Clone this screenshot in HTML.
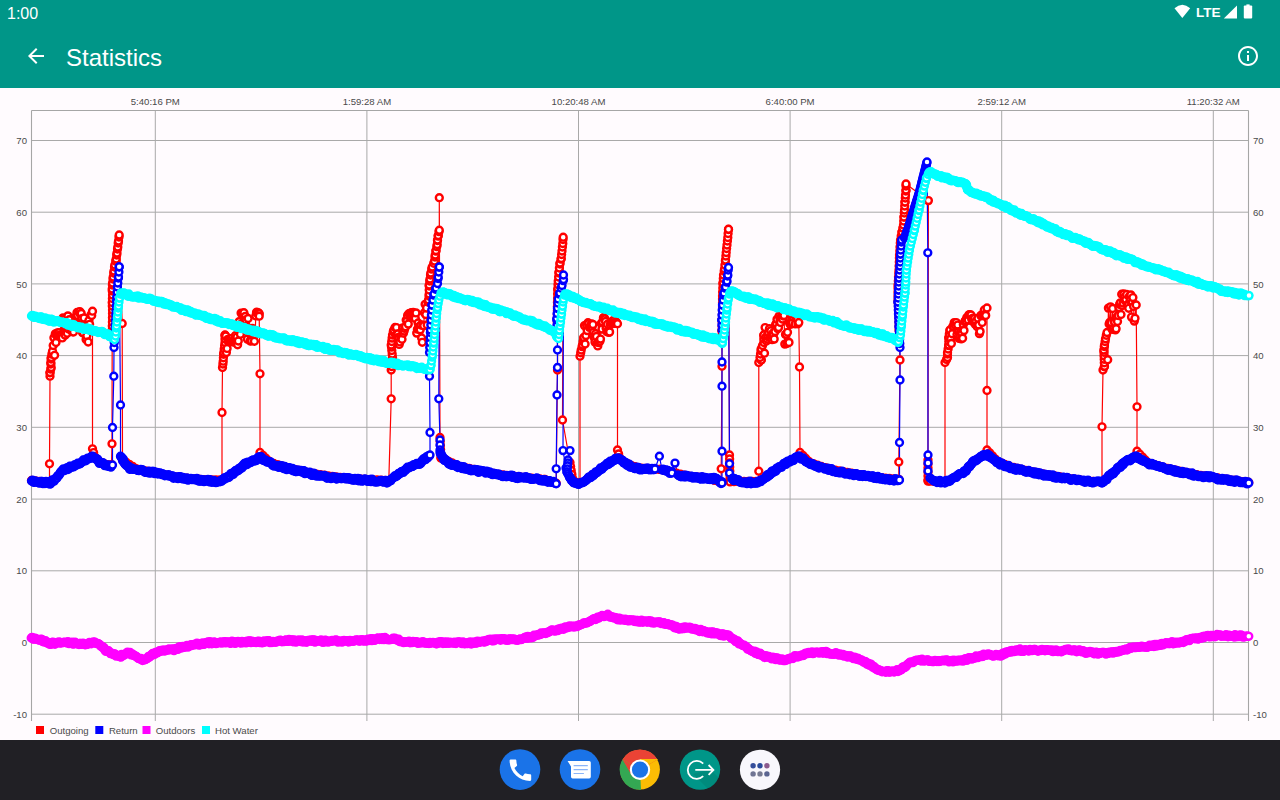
<!DOCTYPE html>
<html><head><meta charset="utf-8"><title>Statistics</title>
<style>
*{margin:0;padding:0;box-sizing:border-box}
html,body{width:1280px;height:800px;overflow:hidden;background:#fffbfe;font-family:"Liberation Sans",sans-serif}
#status{position:absolute;left:0;top:0;width:1280px;height:24px;background:#009688;color:#fff}
#clock{position:absolute;left:7px;top:5px;font-size:16px;line-height:18px}
#appbar{position:absolute;left:0;top:24px;width:1280px;height:64px;background:#009688;color:#fff}
#title{position:absolute;left:66px;top:19.5px;font-size:24px;line-height:28px}
circle.s{fill:var(--c)}
#nav{position:absolute;left:0;top:740px;width:1280px;height:60px;background:#212025}
</style></head><body>
<div id="status"><div id="clock">1:00</div>
<svg style="position:absolute;left:1170px;top:0" width="110" height="24" viewBox="1170 0 110 24">
<path d="M1174.5 8.2 Q1182.3 1.2 1190.2 8.2 L1182.3 18 Z" fill="#fff"/>
<text x="1196" y="16.5" font-family="Liberation Sans, sans-serif" font-size="13.5" font-weight="bold" fill="#fff">LTE</text>
<path d="M1237 5.5 V18.4 H1223.8 Z" fill="#fff"/>
<rect x="1243.8" y="5.6" width="8.4" height="12.8" rx="1" fill="#fff"/><rect x="1246.4" y="4.4" width="3.2" height="2" fill="#fff"/>
</svg></div>
<div id="appbar">
<svg style="position:absolute;left:24px;top:20px" width="24" height="24" viewBox="0 0 24 24"><path d="M20 11H7.83l5.59-5.59L12 4l-8 8 8 8 1.41-1.41L7.83 13H20v-2z" fill="#fff"/></svg>
<div id="title">Statistics</div>
<svg style="position:absolute;left:1235.6px;top:19.9px" width="24" height="24" viewBox="0 0 24 24"><path d="M11 7h2v2h-2zm0 4h2v6h-2zm1-9C6.48 2 2 6.48 2 12s4.48 10 10 10 10-4.48 10-10S17.52 2 12 2zm0 18c-4.41 0-8-3.59-8-8s3.59-8 8-8 8 3.59 8 8-3.59 8-8 8z" fill="#fff"/></svg>
</div>
<svg width="1280" height="652" viewBox="0 88 1280 652" style="position:absolute;left:0;top:88px">
<rect x="0" y="88" width="1280" height="652" fill="#fffbfe"/>
<path d="M31.5 140.5H1248.5 M31.5 212.2H1248.5 M31.5 283.9H1248.5 M31.5 355.6H1248.5 M31.5 427.3H1248.5 M31.5 499.1H1248.5 M31.5 570.8H1248.5 M31.5 642.5H1248.5 M31.5 714.2H1248.5 M155.3 110.5V721 M366.9 110.5V721 M578.5 110.5V721 M790.1 110.5V721 M1001.7 110.5V721 M1213.3 110.5V721" stroke="#a9a9a9" stroke-width="1" fill="none"/>
<path d="M31.5 110.5V721M1248.5 110.5V721M31.5 110.5H1248.5" stroke="#a6a6a6" stroke-width="1.1" fill="none"/>
<g font-family="Liberation Sans, sans-serif" font-size="9.6" fill="#4a4a4a"><text x="27" y="144.1" text-anchor="end">70</text><text x="1253" y="144.1" text-anchor="start">70</text><text x="27" y="215.8" text-anchor="end">60</text><text x="1253" y="215.8" text-anchor="start">60</text><text x="27" y="287.5" text-anchor="end">50</text><text x="1253" y="287.5" text-anchor="start">50</text><text x="27" y="359.2" text-anchor="end">40</text><text x="1253" y="359.2" text-anchor="start">40</text><text x="27" y="430.9" text-anchor="end">30</text><text x="1253" y="430.9" text-anchor="start">30</text><text x="27" y="502.7" text-anchor="end">20</text><text x="1253" y="502.7" text-anchor="start">20</text><text x="27" y="574.4" text-anchor="end">10</text><text x="1253" y="574.4" text-anchor="start">10</text><text x="27" y="646.1" text-anchor="end">0</text><text x="1253" y="646.1" text-anchor="start">0</text><text x="27" y="717.8" text-anchor="end">-10</text><text x="1253" y="717.8" text-anchor="start">-10</text><text x="155.3" y="105" text-anchor="middle">5:40:16 PM</text><text x="366.9" y="105" text-anchor="middle">1:59:28 AM</text><text x="578.5" y="105" text-anchor="middle">10:20:48 AM</text><text x="790.1" y="105" text-anchor="middle">6:40:00 PM</text><text x="1001.7" y="105" text-anchor="middle">2:59:12 AM</text><text x="1213.3" y="105" text-anchor="middle">11:20:32 AM</text></g>
<polyline points="31.5,480.5 45.0,482.2 49.5,482.5 49.5,463.8 50.0,376.2 50.0,372.5 51.2,367.5 50.8,362.5 51.2,357.5 52.5,351.2 53.2,345.5 53.9,337.8 54.6,355.3 55.3,333.9 56.0,342.5 56.7,335.7 57.4,332.9 58.1,335.7 58.8,332.7 59.5,335.2 60.2,335.3 60.9,335.3 61.6,335.9 62.3,337.9 63.0,317.9 63.7,319.7 64.4,328.3 65.1,335.1 65.8,327.3 66.5,322.4 67.2,333.3 67.9,315.9 68.6,329.0 69.3,319.7 70.0,328.0 70.7,327.9 71.4,328.7 72.1,331.6 72.8,331.5 73.5,332.0 74.2,326.2 74.9,321.5 75.6,324.6 76.3,316.1 77.0,312.5 77.7,315.6 78.4,325.7 79.1,312.1 79.8,311.6 80.5,314.4 81.2,313.4 81.9,318.6 82.6,332.8 83.3,332.7 84.0,317.9 84.7,328.7 85.4,327.1 86.1,339.4 86.8,335.7 87.5,324.7 88.2,342.0 88.9,320.5 89.6,324.3 90.3,329.2 91.0,314.9 91.7,315.5 92.5,311.2 92.5,448.8 95.0,457.8 100.0,462.0 107.5,464.8 111.5,465.0 112.0,443.8 112.2,330.0 112.5,317.5 112.5,310.0 112.2,302.5 112.5,295.0 112.2,289.0 112.5,283.0 113.2,277.0 114.0,271.0 114.8,265.0 116.2,259.0 117.0,253.0 117.8,247.0 118.5,241.0 119.2,235.0 122.2,323.5 122.5,460.0 137.5,469.5 155.0,472.5 175.0,477.0 200.0,479.5 222.0,480.0 222.0,412.5 222.5,367.5 223.2,361.2 223.8,352.5 225.0,342.5 225.0,335.0 225.7,336.0 226.4,352.5 227.1,348.4 227.8,339.3 228.5,341.6 229.2,339.9 229.9,341.4 230.6,341.0 231.3,341.4 232.0,338.4 232.7,341.3 233.4,342.1 234.1,339.7 234.8,341.6 235.5,335.6 236.2,342.0 236.9,337.1 237.6,344.8 238.3,341.0 239.0,321.7 239.7,325.0 240.4,334.2 241.1,313.1 241.8,324.0 242.5,314.2 243.2,313.7 243.9,312.7 244.6,318.3 245.3,316.4 246.0,319.9 246.7,326.5 247.4,339.1 248.1,318.5 248.8,330.7 249.5,333.0 250.2,341.0 250.9,339.5 251.6,340.9 252.3,328.4 253.0,331.3 253.7,330.1 254.4,341.3 255.1,334.5 255.8,315.9 256.5,312.2 257.2,312.9 257.9,312.9 258.6,313.0 259.3,313.7 259.2,316.2 260.0,373.8 260.0,452.5 270.0,462.3 287.5,467.9 312.5,473.5 345.0,478.2 365.0,479.5 388.8,480.4 391.2,398.8 391.2,370.0 392.5,357.5 391.2,345.0 392.5,335.0 393.8,330.0 395.0,327.5 395.7,335.4 396.4,327.6 397.1,334.8 397.8,334.0 398.5,337.4 399.2,344.4 399.9,341.9 400.6,336.5 401.3,338.3 402.0,339.3 402.7,327.9 403.4,333.2 404.1,331.1 404.8,328.4 405.5,326.7 406.2,320.1 406.9,320.2 407.6,315.4 408.3,324.1 409.0,313.6 409.7,313.7 410.4,316.2 411.1,312.7 411.8,315.1 412.5,312.9 413.2,312.5 413.9,313.6 414.6,313.5 415.3,318.4 416.0,312.9 416.7,333.1 417.4,329.2 418.1,323.0 418.8,326.9 419.5,329.4 420.2,329.8 420.9,325.0 421.6,338.0 422.3,342.3 423.0,325.1 423.7,325.7 424.4,312.8 425.1,304.3 425.8,314.6 426.5,307.9 427.2,324.9 427.9,302.0 428.5,300.0 429.2,294.0 429.2,285.0 430.0,279.0 430.8,273.0 432.2,267.0 434.5,261.0 435.2,255.0 436.0,250.5 437.2,244.5 437.5,240.0 438.2,235.5 439.3,230.2 439.3,197.7 440.0,437.5 441.0,458.2 445.0,459.5 457.5,465.6 470.0,468.8 495.0,473.8 520.0,477.0 545.0,479.5 556.2,483.2 557.5,370.0 557.5,330.0 557.2,318.5 557.5,302.0 557.8,288.5 558.2,281.0 559.0,272.0 560.0,263.0 561.2,258.5 562.0,251.0 562.8,243.5 563.2,237.2 562.5,420.0 570.0,462.5 573.0,481.6 580.0,482.9 580.0,356.2 581.2,350.0 582.5,345.0 583.8,337.5 584.5,325.6 585.1,344.0 585.9,335.6 586.5,324.7 587.2,330.6 588.0,322.7 588.6,323.8 589.4,327.4 590.0,326.8 590.8,326.0 591.5,323.8 592.1,326.6 592.9,324.4 593.5,332.3 594.2,337.5 595.0,342.1 595.6,333.7 596.4,336.5 597.0,343.2 597.8,345.9 598.5,342.7 599.1,340.9 599.9,341.3 600.5,339.1 601.2,323.6 602.0,329.1 602.6,321.9 603.4,317.9 604.0,317.6 604.8,318.9 605.5,321.4 606.1,327.9 606.9,331.8 607.5,324.2 608.2,331.6 609.0,332.4 609.6,331.9 610.4,324.6 611.0,322.8 611.8,322.8 612.5,321.0 613.1,321.0 613.9,320.8 614.5,323.4 615.2,323.2 616.0,321.8 616.6,322.9 617.5,323.8 617.5,450.0 620.0,459.1 627.5,463.8 637.5,467.7 647.5,468.7 660.0,469.4 665.0,470.3 690.0,476.5 702.5,477.4 721.2,482.0 721.2,468.8 722.0,366.2 722.0,335.0 722.0,330.5 722.5,311.0 722.5,296.0 723.0,282.5 723.5,275.0 724.5,269.0 725.5,260.0 726.2,252.5 727.0,245.0 727.8,237.5 728.5,229.2 729.5,455.0 730.0,481.9 740.0,481.2 758.8,481.6 758.8,471.2 758.8,362.5 761.2,360.0 760.0,357.5 761.2,348.8 763.8,342.5 763.8,335.0 764.5,353.2 765.1,327.6 765.9,337.0 766.5,341.0 767.2,339.0 768.0,336.6 768.6,332.8 769.4,328.7 770.0,337.1 770.8,330.8 771.5,337.8 772.1,339.7 772.9,333.2 773.5,334.0 774.2,339.1 775.0,331.6 775.6,324.6 776.4,323.5 777.0,319.4 777.8,328.8 778.5,327.6 779.1,316.1 779.9,321.2 780.5,322.4 781.2,316.6 782.0,317.6 782.6,319.1 783.4,316.0 784.0,315.4 784.8,344.1 785.5,334.5 786.1,334.3 786.9,343.5 787.5,332.3 788.2,342.1 789.0,342.4 789.6,323.3 790.4,324.4 791.0,322.6 791.8,317.9 792.5,322.8 793.1,317.0 793.9,314.6 794.5,314.1 795.2,323.9 796.0,316.9 796.6,318.2 797.4,319.8 798.0,323.8 798.8,322.5 799.5,367.0 800.0,452.5 810.0,462.7 827.5,468.5 852.5,473.5 877.5,477.2 898.8,479.4 898.8,462.0 900.0,360.0 899.0,330.0 899.0,315.0 898.0,300.0 898.0,285.0 899.0,270.0 899.5,255.0 900.5,240.0 902.0,232.0 903.5,225.0 904.0,217.0 904.5,210.0 905.0,202.0 905.5,195.0 906.0,190.0 906.0,184.0 928.4,200.6 928.0,460.0 928.0,481.1 930.0,481.2 940.0,481.7 945.0,482.0 945.0,362.5 947.5,357.5 947.5,352.5 948.8,345.0 948.8,337.5 950.0,330.0 950.7,338.7 951.4,343.4 952.1,333.8 952.8,326.5 953.5,326.4 954.2,322.6 954.9,324.7 955.6,325.2 956.3,322.6 957.0,334.5 957.7,325.1 958.4,332.0 959.1,338.4 959.8,335.8 960.5,332.4 961.2,338.9 961.9,333.6 962.6,338.2 963.3,324.6 964.0,330.4 964.7,321.8 965.4,320.5 966.1,320.8 966.8,317.6 967.5,318.1 968.2,320.1 968.9,314.8 969.6,314.7 970.3,315.6 971.0,315.0 971.7,318.9 972.4,321.2 973.1,318.2 973.8,321.5 974.5,318.5 975.2,324.3 975.9,321.2 976.6,325.6 977.3,326.6 978.0,318.3 978.7,325.1 979.4,333.7 980.1,331.4 980.8,315.6 981.5,315.2 982.2,322.4 982.9,314.1 983.6,314.5 984.3,310.0 985.0,314.4 985.7,315.4 987.0,308.0 987.0,390.5 987.0,450.0 997.5,461.4 1010.0,466.6 1035.0,472.5 1060.0,477.0 1085.0,480.8 1102.0,482.0 1102.0,426.8 1103.0,370.0 1104.5,366.2 1103.8,350.0 1104.5,345.0 1105.5,338.8 1107.0,332.5 1107.7,359.7 1108.4,308.1 1109.1,324.0 1109.8,322.3 1110.5,306.8 1111.2,322.4 1111.9,329.1 1112.6,308.5 1113.3,329.3 1114.0,321.0 1114.7,322.3 1115.4,329.9 1116.1,328.7 1116.8,317.4 1117.5,321.5 1118.2,315.5 1118.9,307.6 1119.6,304.4 1120.3,302.9 1121.0,314.5 1121.7,294.2 1122.4,305.5 1123.1,303.1 1123.8,294.0 1124.5,297.5 1125.2,300.8 1125.9,299.5 1126.6,294.5 1127.3,304.8 1128.0,305.6 1128.7,308.3 1129.4,296.2 1130.1,300.1 1130.8,294.9 1131.5,317.1 1132.2,301.9 1132.9,297.6 1133.6,306.4 1134.3,321.1 1135.0,318.3 1136.2,305.0 1137.0,406.8 1137.0,451.2 1147.5,462.3 1160.0,466.5 1185.0,472.5 1210.0,476.9 1235.0,480.5 1248.8,482.5" fill="none" stroke="#ff0000" stroke-width="1.2" stroke-linejoin="round"/>
<polyline points="31.5,481.0 40.0,482.5 50.0,483.0 57.0,478.0 62.5,470.5 75.0,465.0 85.0,460.5 92.5,456.2 100.0,462.5 110.0,466.2 112.5,465.0 112.5,427.5 113.8,376.2 114.0,347.5 115.3,325.0 116.0,311.0 116.7,297.0 117.8,283.0 118.5,277.0 119.2,266.8 120.5,405.0 120.5,456.2 125.0,463.0 130.0,468.8 155.0,473.0 175.0,477.5 200.0,480.0 220.0,481.8 230.0,475.5 245.0,464.2 260.0,457.5 275.0,465.5 300.0,471.2 325.0,476.8 345.0,478.8 365.0,480.0 387.5,481.8 400.0,473.8 410.0,466.8 420.0,463.0 430.0,455.0 430.0,432.5 429.5,376.2 429.5,352.5 430.5,330.0 432.0,305.0 434.0,294.0 436.0,288.0 437.5,283.5 438.2,277.0 439.3,267.0 438.8,398.8 440.0,440.0 440.0,452.5 445.0,460.0 450.0,464.2 470.0,469.2 495.0,474.2 520.0,477.5 545.0,480.0 556.2,483.8 556.2,468.8 557.0,395.0 557.5,367.5 557.5,350.0 557.0,325.0 556.8,318.5 557.5,308.0 558.2,299.0 559.8,293.0 562.0,285.5 563.5,279.5 563.5,275.0 563.0,450.6 566.0,468.0 570.0,450.6 568.0,460.0 567.5,466.0 567.0,472.0 570.0,478.0 574.0,482.0 579.0,484.0 595.0,473.8 605.0,465.5 617.5,458.0 632.5,467.5 645.0,469.2 655.0,469.0 659.4,456.2 662.0,470.0 666.0,471.0 672.0,473.0 675.0,463.1 678.0,475.0 690.0,477.0 715.0,478.8 722.0,483.0 722.0,451.2 722.0,386.2 722.0,362.0 722.0,330.0 721.8,320.0 722.5,305.0 724.0,293.0 725.5,287.0 727.0,281.0 727.8,275.0 728.5,267.5 729.5,463.8 729.5,473.0 732.0,479.0 740.0,481.8 757.5,483.0 770.0,473.8 782.5,465.5 798.8,456.2 815.0,466.2 840.0,471.8 865.0,476.2 890.0,479.2 899.5,480.0 899.5,442.5 900.0,380.0 900.0,347.5 899.0,326.0 898.5,314.0 898.0,302.0 898.5,290.0 899.0,278.0 900.0,266.0 900.5,254.0 901.6,240.0 904.5,238.0 909.0,226.0 914.5,208.0 919.5,192.0 923.5,176.0 927.0,162.0 927.8,252.8 928.0,455.0 928.0,463.0 928.0,471.0 930.0,478.0 934.0,481.0 945.0,482.5 965.0,471.2 972.5,461.8 987.0,454.2 1000.0,463.8 1015.0,468.8 1035.0,473.0 1060.0,477.5 1085.0,481.2 1102.5,482.5 1115.0,471.2 1125.0,462.5 1136.0,456.2 1150.0,464.2 1172.5,470.5 1197.5,475.5 1222.5,479.2 1248.8,483.0" fill="none" stroke="#0000ff" stroke-width="1.2" stroke-linejoin="round"/>
<polyline points="31.2,638.0 40.0,639.8 50.0,643.5 60.0,643.0 70.0,642.8 80.0,643.5 87.5,644.0 95.0,642.2 100.0,644.8 105.0,649.8 112.5,653.5 120.0,656.5 127.5,652.2 135.0,656.0 142.5,660.5 150.0,656.0 157.5,652.5 160.0,651.5 165.0,650.5 175.0,649.5 185.0,646.5 190.0,645.5 195.0,644.5 205.0,643.2 215.0,642.5 220.0,642.8 225.0,642.5 235.0,642.2 245.0,641.8 255.0,641.8 265.0,641.8 275.0,641.8 285.0,640.5 295.0,641.0 305.0,641.0 320.0,641.0 345.0,641.0 360.0,641.0 380.0,638.5 395.0,639.0 405.0,642.2 430.0,643.0 455.0,642.2 467.5,643.5 480.0,641.5 492.5,639.8 505.0,639.8 520.0,639.1 530.0,637.0 540.0,634.5 550.0,631.5 560.6,628.6 570.0,627.0 578.0,625.4 591.0,620.3 600.0,617.0 608.3,615.2 616.4,618.8 626.6,620.0 641.8,621.3 650.0,621.5 665.0,623.5 677.5,628.0 690.0,628.0 705.0,631.5 715.0,633.5 730.0,636.5 740.0,643.5 750.0,649.8 765.0,656.5 780.0,659.8 787.5,659.8 795.0,656.5 810.0,653.0 825.0,652.2 840.0,654.0 855.0,658.0 870.0,664.8 880.0,670.5 890.0,671.5 900.0,670.5 910.0,662.2 920.0,659.8 940.0,661.0 950.0,661.0 965.0,659.8 975.0,657.2 985.0,654.8 1000.0,655.5 1010.0,651.0 1020.0,650.2 1040.0,650.2 1050.0,650.5 1058.6,651.2 1068.7,650.0 1078.0,651.0 1086.0,652.2 1099.0,653.7 1108.0,653.0 1116.4,651.5 1131.7,648.0 1150.0,646.2 1160.0,644.5 1170.0,643.0 1180.5,642.1 1190.0,640.0 1200.0,637.5 1211.0,635.7 1220.0,635.5 1230.0,636.0 1236.0,635.8 1242.0,636.0 1248.8,636.3" fill="none" stroke="#ff00ff" stroke-width="1.2" stroke-linejoin="round"/>
<polyline points="31.5,316.0 65.0,323.5 105.0,333.5 112.0,336.5 114.5,339.5 115.5,336.0 116.5,326.0 117.5,316.0 118.5,306.0 119.5,298.0 121.0,293.0 124.0,293.0 125.0,294.5 155.0,300.5 185.0,310.5 225.0,323.0 250.0,329.8 265.0,334.0 281.0,338.5 321.0,347.0 361.0,357.0 401.0,365.0 425.0,369.0 430.0,369.5 431.0,365.0 432.5,355.0 433.8,342.5 435.0,330.0 436.2,317.5 437.5,307.5 438.8,300.0 441.0,293.0 444.0,292.5 451.0,295.5 481.0,304.0 511.0,314.5 537.0,323.5 553.0,331.0 557.0,336.0 558.5,338.5 559.5,330.0 560.5,322.0 561.5,314.0 562.5,306.0 563.5,299.0 565.0,294.0 567.0,294.0 577.0,299.5 617.0,312.5 657.0,323.5 697.0,334.5 717.0,339.5 722.5,342.5 724.0,334.0 725.5,322.0 727.0,308.0 728.5,298.0 730.0,292.5 733.0,292.0 737.0,294.5 757.0,300.5 793.0,311.5 833.0,321.5 850.0,327.0 865.0,330.8 880.0,334.4 893.0,338.0 898.5,341.5 900.5,335.0 901.5,325.0 902.5,315.0 903.5,305.0 905.0,293.0 905.8,282.0 906.4,270.0 909.4,250.0 914.4,230.0 919.0,210.0 923.4,190.0 926.5,178.0 929.0,172.5 932.0,172.5 940.0,176.5 960.0,182.0 966.0,184.0 968.0,190.0 980.0,195.0 1000.0,204.0 1025.0,216.2 1040.0,222.5 1064.0,234.0 1080.0,240.0 1104.0,250.0 1120.0,256.0 1144.0,265.0 1184.0,278.4 1224.0,291.0 1249.0,295.6" fill="none" stroke="#00ffff" stroke-width="1.2" stroke-linejoin="round"/>
<g fill="#ffffff" stroke="#ff0000" stroke-width="2.4" style="--c:#ff0000"><circle cx="31.5" cy="480.5" r="3.45"/><circle cx="35.5" cy="481.0" r="3.45"/><circle cx="39.4" cy="481.5" r="3.45"/><circle cx="43.4" cy="482.0" r="3.45"/><circle cx="45.0" cy="482.2" r="3.45"/><circle cx="49.0" cy="482.4" r="3.45"/><circle cx="49.5" cy="482.5" r="3.45"/><circle cx="49.5" cy="463.8" r="3.45"/><circle cx="50.0" cy="376.2" r="3.45"/><circle cx="50.0" cy="372.8" r="3.45"/><circle cx="50.0" cy="372.5" r="3.45"/><circle cx="50.8" cy="369.1" r="3.45"/><circle cx="51.2" cy="367.5" r="3.45"/><circle cx="50.9" cy="364.0" r="3.45"/><circle cx="50.8" cy="362.5" r="3.45"/><circle cx="51.1" cy="359.0" r="3.45"/><circle cx="51.2" cy="357.5" r="3.45"/><circle cx="51.9" cy="354.1" r="3.45"/><circle cx="52.5" cy="351.2" r="3.45"/><circle cx="53.2" cy="345.5" r="3.45"/><circle cx="53.9" cy="337.8" r="3.45"/><circle cx="54.6" cy="355.3" r="3.45"/><circle cx="55.3" cy="333.9" r="3.45"/><circle cx="56.0" cy="342.5" r="3.45"/><circle cx="56.7" cy="335.7" r="3.45"/><circle cx="57.4" cy="332.9" r="3.45"/><circle cx="58.1" cy="335.7" r="3.45"/><circle cx="58.8" cy="332.7" r="3.45"/><circle cx="59.5" cy="335.2" r="3.45"/><circle cx="60.2" cy="335.3" r="3.45"/><circle cx="60.9" cy="335.3" r="3.45"/><circle cx="61.6" cy="335.9" r="3.45"/><circle cx="62.3" cy="337.9" r="3.45"/><circle cx="63.0" cy="317.9" r="3.45"/><circle cx="63.7" cy="319.7" r="3.45"/><circle cx="64.4" cy="328.3" r="3.45"/><circle cx="65.1" cy="335.1" r="3.45"/><circle cx="65.8" cy="327.3" r="3.45"/><circle cx="66.5" cy="322.4" r="3.45"/><circle cx="67.2" cy="333.3" r="3.45"/><circle cx="67.9" cy="315.9" r="3.45"/><circle cx="68.6" cy="329.0" r="3.45"/><circle cx="69.3" cy="319.7" r="3.45"/><circle cx="70.0" cy="328.0" r="3.45"/><circle cx="70.7" cy="327.9" r="3.45"/><circle cx="71.4" cy="328.7" r="3.45"/><circle cx="72.1" cy="331.6" r="3.45"/><circle cx="72.8" cy="331.5" r="3.45"/><circle cx="73.5" cy="332.0" r="3.45"/><circle cx="74.2" cy="326.2" r="3.45"/><circle cx="74.9" cy="321.5" r="3.45"/><circle cx="75.6" cy="324.6" r="3.45"/><circle cx="76.3" cy="316.1" r="3.45"/><circle cx="77.0" cy="312.5" r="3.45"/><circle cx="77.7" cy="315.6" r="3.45"/><circle cx="78.4" cy="325.7" r="3.45"/><circle cx="79.1" cy="312.1" r="3.45"/><circle cx="79.8" cy="311.6" r="3.45"/><circle cx="80.5" cy="314.4" r="3.45"/><circle cx="81.2" cy="313.4" r="3.45"/><circle cx="81.9" cy="318.6" r="3.45"/><circle cx="82.6" cy="332.8" r="3.45"/><circle cx="83.3" cy="332.7" r="3.45"/><circle cx="84.0" cy="317.9" r="3.45"/><circle cx="84.7" cy="328.7" r="3.45"/><circle cx="85.4" cy="327.1" r="3.45"/><circle cx="86.1" cy="339.4" r="3.45"/><circle cx="86.8" cy="335.7" r="3.45"/><circle cx="87.5" cy="324.7" r="3.45"/><circle cx="88.2" cy="342.0" r="3.45"/><circle cx="88.9" cy="320.5" r="3.45"/><circle cx="89.6" cy="324.3" r="3.45"/><circle cx="90.3" cy="329.2" r="3.45"/><circle cx="91.0" cy="314.9" r="3.45"/><circle cx="91.7" cy="315.5" r="3.45"/><circle cx="92.5" cy="311.2" r="3.45"/><circle cx="92.5" cy="448.8" r="3.45"/><circle cx="93.6" cy="452.6" r="3.45"/><circle cx="94.6" cy="456.5" r="3.45"/><circle cx="95.0" cy="457.8" r="3.45"/><circle cx="98.1" cy="460.4" r="3.45"/><circle cx="100.0" cy="462.0" r="3.45"/><circle cx="103.7" cy="463.4" r="3.45"/><circle cx="107.5" cy="464.8" r="3.45"/><circle cx="107.5" cy="464.8" r="3.45"/><circle cx="111.5" cy="465.0" r="3.45"/><circle cx="111.5" cy="465.0" r="3.45"/><circle cx="112.0" cy="443.8" r="3.45"/><circle cx="112.2" cy="330.0" r="3.45"/><circle cx="112.3" cy="326.0" r="3.45"/><circle cx="112.4" cy="322.0" r="3.45"/><circle cx="112.5" cy="318.0" r="3.45"/><circle cx="112.5" cy="317.5" r="3.45"/><circle cx="112.5" cy="313.5" r="3.45"/><circle cx="112.5" cy="310.0" r="3.45"/><circle cx="112.3" cy="306.0" r="3.45"/><circle cx="112.2" cy="302.5" r="3.45"/><circle cx="112.4" cy="298.5" r="3.45"/><circle cx="112.5" cy="295.0" r="3.45"/><circle cx="112.3" cy="291.0" r="3.45"/><circle cx="112.2" cy="289.0" r="3.45"/><circle cx="112.4" cy="285.0" r="3.45"/><circle cx="112.5" cy="283.0" r="3.45"/><circle cx="113.0" cy="279.0" r="3.45"/><circle cx="113.2" cy="277.0" r="3.45"/><circle cx="113.7" cy="273.0" r="3.45"/><circle cx="114.0" cy="271.0" r="3.45"/><circle cx="114.5" cy="267.0" r="3.45"/><circle cx="114.8" cy="265.0" r="3.45"/><circle cx="115.7" cy="261.1" r="3.45"/><circle cx="116.2" cy="259.0" r="3.45"/><circle cx="116.7" cy="255.0" r="3.45"/><circle cx="117.0" cy="253.0" r="3.45"/><circle cx="117.5" cy="249.0" r="3.45"/><circle cx="117.8" cy="247.0" r="3.45"/><circle cx="118.2" cy="243.0" r="3.45"/><circle cx="118.5" cy="241.0" r="3.45"/><circle cx="119.0" cy="237.0" r="3.45"/><circle cx="119.2" cy="235.0" r="3.45"/><circle cx="122.2" cy="323.5" r="3.45"/><circle cx="122.5" cy="460.0" r="3.45"/><circle cx="125.9" cy="462.1" r="3.45"/><circle cx="129.3" cy="464.3" r="3.45"/><circle cx="132.6" cy="466.4" r="3.45"/><circle cx="136.0" cy="468.6" r="3.45"/><circle cx="137.5" cy="469.5" r="3.45"/><circle cx="141.4" cy="470.2" r="3.45"/><circle cx="145.4" cy="470.9" r="3.45"/><circle cx="149.3" cy="471.5" r="3.45"/><circle cx="153.3" cy="472.2" r="3.45"/><circle cx="155.0" cy="472.5" r="3.45"/><circle cx="158.9" cy="473.4" r="3.45"/><circle cx="162.8" cy="474.3" r="3.45"/><circle cx="166.7" cy="475.1" r="3.45"/><circle cx="170.6" cy="476.0" r="3.45"/><circle cx="174.5" cy="476.9" r="3.45"/><circle cx="175.0" cy="477.0" r="3.45"/><circle cx="179.0" cy="477.4" r="3.45"/><circle cx="183.0" cy="477.8" r="3.45"/><circle cx="186.9" cy="478.2" r="3.45"/><circle cx="190.9" cy="478.6" r="3.45"/><circle cx="194.9" cy="479.0" r="3.45"/><circle cx="198.9" cy="479.4" r="3.45"/><circle cx="200.0" cy="479.5" r="3.45"/><circle cx="204.0" cy="479.6" r="3.45"/><circle cx="208.0" cy="479.7" r="3.45"/><circle cx="212.0" cy="479.8" r="3.45"/><circle cx="216.0" cy="479.9" r="3.45"/><circle cx="220.0" cy="480.0" r="3.45"/><circle cx="222.0" cy="480.0" r="3.45"/><circle cx="222.0" cy="412.5" r="3.45"/><circle cx="222.5" cy="367.5" r="3.45"/><circle cx="222.9" cy="364.0" r="3.45"/><circle cx="223.2" cy="361.2" r="3.45"/><circle cx="223.4" cy="357.8" r="3.45"/><circle cx="223.6" cy="354.3" r="3.45"/><circle cx="223.8" cy="352.5" r="3.45"/><circle cx="224.2" cy="349.0" r="3.45"/><circle cx="224.6" cy="345.6" r="3.45"/><circle cx="225.0" cy="342.5" r="3.45"/><circle cx="225.0" cy="339.0" r="3.45"/><circle cx="225.0" cy="335.5" r="3.45"/><circle cx="225.0" cy="335.0" r="3.45"/><circle cx="225.7" cy="336.0" r="3.45"/><circle cx="226.4" cy="352.5" r="3.45"/><circle cx="227.1" cy="348.4" r="3.45"/><circle cx="227.8" cy="339.3" r="3.45"/><circle cx="228.5" cy="341.6" r="3.45"/><circle cx="229.2" cy="339.9" r="3.45"/><circle cx="229.9" cy="341.4" r="3.45"/><circle cx="230.6" cy="341.0" r="3.45"/><circle cx="231.3" cy="341.4" r="3.45"/><circle cx="232.0" cy="338.4" r="3.45"/><circle cx="232.7" cy="341.3" r="3.45"/><circle cx="233.4" cy="342.1" r="3.45"/><circle cx="234.1" cy="339.7" r="3.45"/><circle cx="234.8" cy="341.6" r="3.45"/><circle cx="235.5" cy="335.6" r="3.45"/><circle cx="236.2" cy="342.0" r="3.45"/><circle cx="236.9" cy="337.1" r="3.45"/><circle cx="237.6" cy="344.8" r="3.45"/><circle cx="238.3" cy="341.0" r="3.45"/><circle cx="239.0" cy="321.7" r="3.45"/><circle cx="239.7" cy="325.0" r="3.45"/><circle cx="240.4" cy="334.2" r="3.45"/><circle cx="241.1" cy="313.1" r="3.45"/><circle cx="241.8" cy="324.0" r="3.45"/><circle cx="242.5" cy="314.2" r="3.45"/><circle cx="243.2" cy="313.7" r="3.45"/><circle cx="243.9" cy="312.7" r="3.45"/><circle cx="244.6" cy="318.3" r="3.45"/><circle cx="245.3" cy="316.4" r="3.45"/><circle cx="246.0" cy="319.9" r="3.45"/><circle cx="246.7" cy="326.5" r="3.45"/><circle cx="247.4" cy="339.1" r="3.45"/><circle cx="248.1" cy="318.5" r="3.45"/><circle cx="248.8" cy="330.7" r="3.45"/><circle cx="249.5" cy="333.0" r="3.45"/><circle cx="250.2" cy="341.0" r="3.45"/><circle cx="250.9" cy="339.5" r="3.45"/><circle cx="251.6" cy="340.9" r="3.45"/><circle cx="252.3" cy="328.4" r="3.45"/><circle cx="253.0" cy="331.3" r="3.45"/><circle cx="253.7" cy="330.1" r="3.45"/><circle cx="254.4" cy="341.3" r="3.45"/><circle cx="255.1" cy="334.5" r="3.45"/><circle cx="255.8" cy="315.9" r="3.45"/><circle cx="256.5" cy="312.2" r="3.45"/><circle cx="257.2" cy="312.9" r="3.45"/><circle cx="257.9" cy="312.9" r="3.45"/><circle cx="258.6" cy="313.0" r="3.45"/><circle cx="259.3" cy="313.7" r="3.45"/><circle cx="259.2" cy="316.2" r="3.45"/><circle cx="260.0" cy="373.8" r="3.45"/><circle cx="260.0" cy="452.5" r="3.45"/><circle cx="262.9" cy="455.3" r="3.45"/><circle cx="265.7" cy="458.1" r="3.45"/><circle cx="268.6" cy="460.9" r="3.45"/><circle cx="270.0" cy="462.3" r="3.45"/><circle cx="273.8" cy="463.5" r="3.45"/><circle cx="277.6" cy="464.7" r="3.45"/><circle cx="281.4" cy="466.0" r="3.45"/><circle cx="285.3" cy="467.2" r="3.45"/><circle cx="287.5" cy="467.9" r="3.45"/><circle cx="291.4" cy="468.8" r="3.45"/><circle cx="295.3" cy="469.6" r="3.45"/><circle cx="299.2" cy="470.5" r="3.45"/><circle cx="303.1" cy="471.4" r="3.45"/><circle cx="307.0" cy="472.3" r="3.45"/><circle cx="310.9" cy="473.1" r="3.45"/><circle cx="312.5" cy="473.5" r="3.45"/><circle cx="316.5" cy="474.1" r="3.45"/><circle cx="320.4" cy="474.7" r="3.45"/><circle cx="324.4" cy="475.2" r="3.45"/><circle cx="328.3" cy="475.8" r="3.45"/><circle cx="332.3" cy="476.4" r="3.45"/><circle cx="336.2" cy="477.0" r="3.45"/><circle cx="340.2" cy="477.5" r="3.45"/><circle cx="344.2" cy="478.1" r="3.45"/><circle cx="345.0" cy="478.2" r="3.45"/><circle cx="349.0" cy="478.5" r="3.45"/><circle cx="353.0" cy="478.7" r="3.45"/><circle cx="357.0" cy="479.0" r="3.45"/><circle cx="361.0" cy="479.2" r="3.45"/><circle cx="365.0" cy="479.5" r="3.45"/><circle cx="365.0" cy="479.5" r="3.45"/><circle cx="369.0" cy="479.7" r="3.45"/><circle cx="373.0" cy="479.8" r="3.45"/><circle cx="377.0" cy="480.0" r="3.45"/><circle cx="381.0" cy="480.1" r="3.45"/><circle cx="385.0" cy="480.3" r="3.45"/><circle cx="388.8" cy="480.4" r="3.45"/><circle cx="391.2" cy="398.8" r="3.45"/><circle cx="391.2" cy="370.0" r="3.45"/><circle cx="391.6" cy="366.5" r="3.45"/><circle cx="391.9" cy="363.0" r="3.45"/><circle cx="392.3" cy="359.6" r="3.45"/><circle cx="392.5" cy="357.5" r="3.45"/><circle cx="392.2" cy="354.0" r="3.45"/><circle cx="391.8" cy="350.5" r="3.45"/><circle cx="391.5" cy="347.1" r="3.45"/><circle cx="391.2" cy="345.0" r="3.45"/><circle cx="391.7" cy="341.5" r="3.45"/><circle cx="392.1" cy="338.1" r="3.45"/><circle cx="392.5" cy="335.0" r="3.45"/><circle cx="393.3" cy="331.6" r="3.45"/><circle cx="393.8" cy="330.0" r="3.45"/><circle cx="395.0" cy="327.5" r="3.45"/><circle cx="395.7" cy="335.4" r="3.45"/><circle cx="396.4" cy="327.6" r="3.45"/><circle cx="397.1" cy="334.8" r="3.45"/><circle cx="397.8" cy="334.0" r="3.45"/><circle cx="398.5" cy="337.4" r="3.45"/><circle cx="399.2" cy="344.4" r="3.45"/><circle cx="399.9" cy="341.9" r="3.45"/><circle cx="400.6" cy="336.5" r="3.45"/><circle cx="401.3" cy="338.3" r="3.45"/><circle cx="402.0" cy="339.3" r="3.45"/><circle cx="402.7" cy="327.9" r="3.45"/><circle cx="403.4" cy="333.2" r="3.45"/><circle cx="404.1" cy="331.1" r="3.45"/><circle cx="404.8" cy="328.4" r="3.45"/><circle cx="405.5" cy="326.7" r="3.45"/><circle cx="406.2" cy="320.1" r="3.45"/><circle cx="406.9" cy="320.2" r="3.45"/><circle cx="407.6" cy="315.4" r="3.45"/><circle cx="408.3" cy="324.1" r="3.45"/><circle cx="409.0" cy="313.6" r="3.45"/><circle cx="409.7" cy="313.7" r="3.45"/><circle cx="410.4" cy="316.2" r="3.45"/><circle cx="411.1" cy="312.7" r="3.45"/><circle cx="411.8" cy="315.1" r="3.45"/><circle cx="412.5" cy="312.9" r="3.45"/><circle cx="413.2" cy="312.5" r="3.45"/><circle cx="413.9" cy="313.6" r="3.45"/><circle cx="414.6" cy="313.5" r="3.45"/><circle cx="415.3" cy="318.4" r="3.45"/><circle cx="416.0" cy="312.9" r="3.45"/><circle cx="416.7" cy="333.1" r="3.45"/><circle cx="417.4" cy="329.2" r="3.45"/><circle cx="418.1" cy="323.0" r="3.45"/><circle cx="418.8" cy="326.9" r="3.45"/><circle cx="419.5" cy="329.4" r="3.45"/><circle cx="420.2" cy="329.8" r="3.45"/><circle cx="420.9" cy="325.0" r="3.45"/><circle cx="421.6" cy="338.0" r="3.45"/><circle cx="422.3" cy="342.3" r="3.45"/><circle cx="423.0" cy="325.1" r="3.45"/><circle cx="423.7" cy="325.7" r="3.45"/><circle cx="424.4" cy="312.8" r="3.45"/><circle cx="425.1" cy="304.3" r="3.45"/><circle cx="425.8" cy="314.6" r="3.45"/><circle cx="426.5" cy="307.9" r="3.45"/><circle cx="427.2" cy="324.9" r="3.45"/><circle cx="427.9" cy="302.0" r="3.45"/><circle cx="428.5" cy="300.0" r="3.45"/><circle cx="429.0" cy="296.0" r="3.45"/><circle cx="429.2" cy="294.0" r="3.45"/><circle cx="429.2" cy="290.0" r="3.45"/><circle cx="429.2" cy="286.0" r="3.45"/><circle cx="429.2" cy="285.0" r="3.45"/><circle cx="429.7" cy="281.0" r="3.45"/><circle cx="430.0" cy="279.0" r="3.45"/><circle cx="430.5" cy="275.0" r="3.45"/><circle cx="430.8" cy="273.0" r="3.45"/><circle cx="431.7" cy="269.1" r="3.45"/><circle cx="432.2" cy="267.0" r="3.45"/><circle cx="433.7" cy="263.3" r="3.45"/><circle cx="434.5" cy="261.0" r="3.45"/><circle cx="435.0" cy="257.0" r="3.45"/><circle cx="435.2" cy="255.0" r="3.45"/><circle cx="435.9" cy="251.1" r="3.45"/><circle cx="436.0" cy="250.5" r="3.45"/><circle cx="436.8" cy="246.6" r="3.45"/><circle cx="437.2" cy="244.5" r="3.45"/><circle cx="437.5" cy="240.5" r="3.45"/><circle cx="437.5" cy="240.0" r="3.45"/><circle cx="438.2" cy="236.1" r="3.45"/><circle cx="438.2" cy="235.5" r="3.45"/><circle cx="439.0" cy="231.6" r="3.45"/><circle cx="439.3" cy="230.2" r="3.45"/><circle cx="439.3" cy="197.7" r="3.45"/><circle cx="440.0" cy="437.5" r="3.45"/><circle cx="440.2" cy="441.5" r="3.45"/><circle cx="440.4" cy="445.5" r="3.45"/><circle cx="440.6" cy="449.5" r="3.45"/><circle cx="440.8" cy="453.5" r="3.45"/><circle cx="441.0" cy="457.5" r="3.45"/><circle cx="441.0" cy="458.2" r="3.45"/><circle cx="444.8" cy="459.4" r="3.45"/><circle cx="445.0" cy="459.5" r="3.45"/><circle cx="448.6" cy="461.3" r="3.45"/><circle cx="452.2" cy="463.0" r="3.45"/><circle cx="455.8" cy="464.8" r="3.45"/><circle cx="457.5" cy="465.6" r="3.45"/><circle cx="461.4" cy="466.6" r="3.45"/><circle cx="465.3" cy="467.6" r="3.45"/><circle cx="469.1" cy="468.5" r="3.45"/><circle cx="470.0" cy="468.8" r="3.45"/><circle cx="473.9" cy="469.5" r="3.45"/><circle cx="477.8" cy="470.3" r="3.45"/><circle cx="481.8" cy="471.1" r="3.45"/><circle cx="485.7" cy="471.9" r="3.45"/><circle cx="489.6" cy="472.7" r="3.45"/><circle cx="493.5" cy="473.5" r="3.45"/><circle cx="495.0" cy="473.8" r="3.45"/><circle cx="499.0" cy="474.3" r="3.45"/><circle cx="502.9" cy="474.8" r="3.45"/><circle cx="506.9" cy="475.3" r="3.45"/><circle cx="510.9" cy="475.8" r="3.45"/><circle cx="514.8" cy="476.3" r="3.45"/><circle cx="518.8" cy="476.8" r="3.45"/><circle cx="520.0" cy="477.0" r="3.45"/><circle cx="524.0" cy="477.4" r="3.45"/><circle cx="528.0" cy="477.8" r="3.45"/><circle cx="531.9" cy="478.2" r="3.45"/><circle cx="535.9" cy="478.6" r="3.45"/><circle cx="539.9" cy="479.0" r="3.45"/><circle cx="543.9" cy="479.4" r="3.45"/><circle cx="545.0" cy="479.5" r="3.45"/><circle cx="548.8" cy="480.8" r="3.45"/><circle cx="552.6" cy="482.0" r="3.45"/><circle cx="556.2" cy="483.2" r="3.45"/><circle cx="557.5" cy="370.0" r="3.45"/><circle cx="557.5" cy="330.0" r="3.45"/><circle cx="557.4" cy="326.0" r="3.45"/><circle cx="557.3" cy="322.0" r="3.45"/><circle cx="557.2" cy="318.5" r="3.45"/><circle cx="557.3" cy="314.5" r="3.45"/><circle cx="557.4" cy="310.5" r="3.45"/><circle cx="557.4" cy="306.5" r="3.45"/><circle cx="557.5" cy="302.5" r="3.45"/><circle cx="557.5" cy="302.0" r="3.45"/><circle cx="557.6" cy="298.0" r="3.45"/><circle cx="557.6" cy="294.0" r="3.45"/><circle cx="557.7" cy="290.0" r="3.45"/><circle cx="557.8" cy="288.5" r="3.45"/><circle cx="558.0" cy="284.5" r="3.45"/><circle cx="558.2" cy="281.0" r="3.45"/><circle cx="558.6" cy="277.0" r="3.45"/><circle cx="558.9" cy="273.0" r="3.45"/><circle cx="559.0" cy="272.0" r="3.45"/><circle cx="559.4" cy="268.0" r="3.45"/><circle cx="559.9" cy="264.0" r="3.45"/><circle cx="560.0" cy="263.0" r="3.45"/><circle cx="561.1" cy="259.1" r="3.45"/><circle cx="561.2" cy="258.5" r="3.45"/><circle cx="561.6" cy="254.5" r="3.45"/><circle cx="562.0" cy="251.0" r="3.45"/><circle cx="562.4" cy="247.0" r="3.45"/><circle cx="562.8" cy="243.5" r="3.45"/><circle cx="563.0" cy="239.5" r="3.45"/><circle cx="563.2" cy="237.2" r="3.45"/><circle cx="562.5" cy="420.0" r="3.45"/><circle cx="570.0" cy="462.5" r="3.45"/><circle cx="570.6" cy="466.5" r="3.45"/><circle cx="571.2" cy="470.4" r="3.45"/><circle cx="571.9" cy="474.4" r="3.45"/><circle cx="572.5" cy="478.3" r="3.45"/><circle cx="573.0" cy="481.6" r="3.45"/><circle cx="576.9" cy="482.3" r="3.45"/><circle cx="580.0" cy="482.9" r="3.45"/><circle cx="580.0" cy="356.2" r="3.45"/><circle cx="580.7" cy="352.8" r="3.45"/><circle cx="581.2" cy="350.0" r="3.45"/><circle cx="582.1" cy="346.6" r="3.45"/><circle cx="582.5" cy="345.0" r="3.45"/><circle cx="583.1" cy="341.5" r="3.45"/><circle cx="583.7" cy="338.1" r="3.45"/><circle cx="583.8" cy="337.5" r="3.45"/><circle cx="584.5" cy="325.6" r="3.45"/><circle cx="585.1" cy="344.0" r="3.45"/><circle cx="585.9" cy="335.6" r="3.45"/><circle cx="586.5" cy="324.7" r="3.45"/><circle cx="587.2" cy="330.6" r="3.45"/><circle cx="588.0" cy="322.7" r="3.45"/><circle cx="588.6" cy="323.8" r="3.45"/><circle cx="589.4" cy="327.4" r="3.45"/><circle cx="590.0" cy="326.8" r="3.45"/><circle cx="590.8" cy="326.0" r="3.45"/><circle cx="591.5" cy="323.8" r="3.45"/><circle cx="592.1" cy="326.6" r="3.45"/><circle cx="592.9" cy="324.4" r="3.45"/><circle cx="593.5" cy="332.3" r="3.45"/><circle cx="594.2" cy="337.5" r="3.45"/><circle cx="595.0" cy="342.1" r="3.45"/><circle cx="595.6" cy="333.7" r="3.45"/><circle cx="596.4" cy="336.5" r="3.45"/><circle cx="597.0" cy="343.2" r="3.45"/><circle cx="597.8" cy="345.9" r="3.45"/><circle cx="598.5" cy="342.7" r="3.45"/><circle cx="599.1" cy="340.9" r="3.45"/><circle cx="599.9" cy="341.3" r="3.45"/><circle cx="600.5" cy="339.1" r="3.45"/><circle cx="601.2" cy="323.6" r="3.45"/><circle cx="602.0" cy="329.1" r="3.45"/><circle cx="602.6" cy="321.9" r="3.45"/><circle cx="603.4" cy="317.9" r="3.45"/><circle cx="604.0" cy="317.6" r="3.45"/><circle cx="604.8" cy="318.9" r="3.45"/><circle cx="605.5" cy="321.4" r="3.45"/><circle cx="606.1" cy="327.9" r="3.45"/><circle cx="606.9" cy="331.8" r="3.45"/><circle cx="607.5" cy="324.2" r="3.45"/><circle cx="608.2" cy="331.6" r="3.45"/><circle cx="609.0" cy="332.4" r="3.45"/><circle cx="609.6" cy="331.9" r="3.45"/><circle cx="610.4" cy="324.6" r="3.45"/><circle cx="611.0" cy="322.8" r="3.45"/><circle cx="611.8" cy="322.8" r="3.45"/><circle cx="612.5" cy="321.0" r="3.45"/><circle cx="613.1" cy="321.0" r="3.45"/><circle cx="613.9" cy="320.8" r="3.45"/><circle cx="614.5" cy="323.4" r="3.45"/><circle cx="615.2" cy="323.2" r="3.45"/><circle cx="616.0" cy="321.8" r="3.45"/><circle cx="616.6" cy="322.9" r="3.45"/><circle cx="617.5" cy="323.8" r="3.45"/><circle cx="617.5" cy="450.0" r="3.45"/><circle cx="618.6" cy="453.9" r="3.45"/><circle cx="619.6" cy="457.7" r="3.45"/><circle cx="620.0" cy="459.1" r="3.45"/><circle cx="623.4" cy="461.2" r="3.45"/><circle cx="626.8" cy="463.4" r="3.45"/><circle cx="627.5" cy="463.8" r="3.45"/><circle cx="631.2" cy="465.3" r="3.45"/><circle cx="635.0" cy="466.7" r="3.45"/><circle cx="637.5" cy="467.7" r="3.45"/><circle cx="641.5" cy="468.1" r="3.45"/><circle cx="645.5" cy="468.5" r="3.45"/><circle cx="647.5" cy="468.7" r="3.45"/><circle cx="651.5" cy="468.9" r="3.45"/><circle cx="655.5" cy="469.1" r="3.45"/><circle cx="659.5" cy="469.4" r="3.45"/><circle cx="660.0" cy="469.4" r="3.45"/><circle cx="663.9" cy="470.1" r="3.45"/><circle cx="665.0" cy="470.3" r="3.45"/><circle cx="668.9" cy="471.3" r="3.45"/><circle cx="672.8" cy="472.2" r="3.45"/><circle cx="676.6" cy="473.2" r="3.45"/><circle cx="680.5" cy="474.2" r="3.45"/><circle cx="684.4" cy="475.1" r="3.45"/><circle cx="688.3" cy="476.1" r="3.45"/><circle cx="690.0" cy="476.5" r="3.45"/><circle cx="694.0" cy="476.8" r="3.45"/><circle cx="698.0" cy="477.1" r="3.45"/><circle cx="702.0" cy="477.3" r="3.45"/><circle cx="702.5" cy="477.4" r="3.45"/><circle cx="706.4" cy="478.3" r="3.45"/><circle cx="710.3" cy="479.3" r="3.45"/><circle cx="714.1" cy="480.3" r="3.45"/><circle cx="718.0" cy="481.2" r="3.45"/><circle cx="721.2" cy="482.0" r="3.45"/><circle cx="721.2" cy="468.8" r="3.45"/><circle cx="722.0" cy="366.2" r="3.45"/><circle cx="722.0" cy="335.0" r="3.45"/><circle cx="722.0" cy="331.0" r="3.45"/><circle cx="722.0" cy="330.5" r="3.45"/><circle cx="722.1" cy="326.5" r="3.45"/><circle cx="722.2" cy="322.5" r="3.45"/><circle cx="722.3" cy="318.5" r="3.45"/><circle cx="722.4" cy="314.5" r="3.45"/><circle cx="722.5" cy="311.0" r="3.45"/><circle cx="722.5" cy="307.0" r="3.45"/><circle cx="722.5" cy="303.0" r="3.45"/><circle cx="722.5" cy="299.0" r="3.45"/><circle cx="722.5" cy="296.0" r="3.45"/><circle cx="722.6" cy="292.0" r="3.45"/><circle cx="722.8" cy="288.0" r="3.45"/><circle cx="722.9" cy="284.0" r="3.45"/><circle cx="723.0" cy="282.5" r="3.45"/><circle cx="723.3" cy="278.5" r="3.45"/><circle cx="723.5" cy="275.0" r="3.45"/><circle cx="724.2" cy="271.1" r="3.45"/><circle cx="724.5" cy="269.0" r="3.45"/><circle cx="724.9" cy="265.0" r="3.45"/><circle cx="725.4" cy="261.0" r="3.45"/><circle cx="725.5" cy="260.0" r="3.45"/><circle cx="725.9" cy="256.0" r="3.45"/><circle cx="726.2" cy="252.5" r="3.45"/><circle cx="726.6" cy="248.5" r="3.45"/><circle cx="727.0" cy="245.0" r="3.45"/><circle cx="727.4" cy="241.0" r="3.45"/><circle cx="727.8" cy="237.5" r="3.45"/><circle cx="728.1" cy="233.5" r="3.45"/><circle cx="728.5" cy="229.5" r="3.45"/><circle cx="728.5" cy="229.2" r="3.45"/><circle cx="729.5" cy="455.0" r="3.45"/><circle cx="729.6" cy="459.0" r="3.45"/><circle cx="729.6" cy="463.0" r="3.45"/><circle cx="729.7" cy="467.0" r="3.45"/><circle cx="729.8" cy="471.0" r="3.45"/><circle cx="729.9" cy="475.0" r="3.45"/><circle cx="729.9" cy="479.0" r="3.45"/><circle cx="730.0" cy="481.9" r="3.45"/><circle cx="734.0" cy="481.7" r="3.45"/><circle cx="738.0" cy="481.4" r="3.45"/><circle cx="740.0" cy="481.2" r="3.45"/><circle cx="744.0" cy="481.3" r="3.45"/><circle cx="748.0" cy="481.4" r="3.45"/><circle cx="752.0" cy="481.5" r="3.45"/><circle cx="756.0" cy="481.5" r="3.45"/><circle cx="758.8" cy="481.6" r="3.45"/><circle cx="758.8" cy="471.2" r="3.45"/><circle cx="758.8" cy="362.5" r="3.45"/><circle cx="761.2" cy="360.0" r="3.45"/><circle cx="761.2" cy="360.0" r="3.45"/><circle cx="760.0" cy="357.5" r="3.45"/><circle cx="760.5" cy="354.0" r="3.45"/><circle cx="761.0" cy="350.6" r="3.45"/><circle cx="761.2" cy="348.8" r="3.45"/><circle cx="762.5" cy="345.5" r="3.45"/><circle cx="763.8" cy="342.5" r="3.45"/><circle cx="763.8" cy="339.0" r="3.45"/><circle cx="763.8" cy="335.5" r="3.45"/><circle cx="763.8" cy="335.0" r="3.45"/><circle cx="764.5" cy="353.2" r="3.45"/><circle cx="765.1" cy="327.6" r="3.45"/><circle cx="765.9" cy="337.0" r="3.45"/><circle cx="766.5" cy="341.0" r="3.45"/><circle cx="767.2" cy="339.0" r="3.45"/><circle cx="768.0" cy="336.6" r="3.45"/><circle cx="768.6" cy="332.8" r="3.45"/><circle cx="769.4" cy="328.7" r="3.45"/><circle cx="770.0" cy="337.1" r="3.45"/><circle cx="770.8" cy="330.8" r="3.45"/><circle cx="771.5" cy="337.8" r="3.45"/><circle cx="772.1" cy="339.7" r="3.45"/><circle cx="772.9" cy="333.2" r="3.45"/><circle cx="773.5" cy="334.0" r="3.45"/><circle cx="774.2" cy="339.1" r="3.45"/><circle cx="775.0" cy="331.6" r="3.45"/><circle cx="775.6" cy="324.6" r="3.45"/><circle cx="776.4" cy="323.5" r="3.45"/><circle cx="777.0" cy="319.4" r="3.45"/><circle cx="777.8" cy="328.8" r="3.45"/><circle cx="778.5" cy="327.6" r="3.45"/><circle cx="779.1" cy="316.1" r="3.45"/><circle cx="779.9" cy="321.2" r="3.45"/><circle cx="780.5" cy="322.4" r="3.45"/><circle cx="781.2" cy="316.6" r="3.45"/><circle cx="782.0" cy="317.6" r="3.45"/><circle cx="782.6" cy="319.1" r="3.45"/><circle cx="783.4" cy="316.0" r="3.45"/><circle cx="784.0" cy="315.4" r="3.45"/><circle cx="784.8" cy="344.1" r="3.45"/><circle cx="785.5" cy="334.5" r="3.45"/><circle cx="786.1" cy="334.3" r="3.45"/><circle cx="786.9" cy="343.5" r="3.45"/><circle cx="787.5" cy="332.3" r="3.45"/><circle cx="788.2" cy="342.1" r="3.45"/><circle cx="789.0" cy="342.4" r="3.45"/><circle cx="789.6" cy="323.3" r="3.45"/><circle cx="790.4" cy="324.4" r="3.45"/><circle cx="791.0" cy="322.6" r="3.45"/><circle cx="791.8" cy="317.9" r="3.45"/><circle cx="792.5" cy="322.8" r="3.45"/><circle cx="793.1" cy="317.0" r="3.45"/><circle cx="793.9" cy="314.6" r="3.45"/><circle cx="794.5" cy="314.1" r="3.45"/><circle cx="795.2" cy="323.9" r="3.45"/><circle cx="796.0" cy="316.9" r="3.45"/><circle cx="796.6" cy="318.2" r="3.45"/><circle cx="797.4" cy="319.8" r="3.45"/><circle cx="798.0" cy="323.8" r="3.45"/><circle cx="798.8" cy="322.5" r="3.45"/><circle cx="799.5" cy="367.0" r="3.45"/><circle cx="800.0" cy="452.5" r="3.45"/><circle cx="802.8" cy="455.4" r="3.45"/><circle cx="805.6" cy="458.2" r="3.45"/><circle cx="808.4" cy="461.1" r="3.45"/><circle cx="810.0" cy="462.7" r="3.45"/><circle cx="813.8" cy="463.9" r="3.45"/><circle cx="817.6" cy="465.2" r="3.45"/><circle cx="821.4" cy="466.5" r="3.45"/><circle cx="825.2" cy="467.7" r="3.45"/><circle cx="827.5" cy="468.5" r="3.45"/><circle cx="831.4" cy="469.3" r="3.45"/><circle cx="835.3" cy="470.1" r="3.45"/><circle cx="839.3" cy="470.9" r="3.45"/><circle cx="843.2" cy="471.6" r="3.45"/><circle cx="847.1" cy="472.4" r="3.45"/><circle cx="851.0" cy="473.2" r="3.45"/><circle cx="852.5" cy="473.5" r="3.45"/><circle cx="856.5" cy="474.1" r="3.45"/><circle cx="860.4" cy="474.7" r="3.45"/><circle cx="864.4" cy="475.3" r="3.45"/><circle cx="868.3" cy="475.9" r="3.45"/><circle cx="872.3" cy="476.5" r="3.45"/><circle cx="876.2" cy="477.1" r="3.45"/><circle cx="877.5" cy="477.2" r="3.45"/><circle cx="881.5" cy="477.7" r="3.45"/><circle cx="885.5" cy="478.1" r="3.45"/><circle cx="889.4" cy="478.5" r="3.45"/><circle cx="893.4" cy="478.9" r="3.45"/><circle cx="897.4" cy="479.3" r="3.45"/><circle cx="898.8" cy="479.4" r="3.45"/><circle cx="898.8" cy="462.0" r="3.45"/><circle cx="900.0" cy="360.0" r="3.45"/><circle cx="899.0" cy="330.0" r="3.45"/><circle cx="899.0" cy="326.0" r="3.45"/><circle cx="899.0" cy="322.0" r="3.45"/><circle cx="899.0" cy="318.0" r="3.45"/><circle cx="899.0" cy="315.0" r="3.45"/><circle cx="898.7" cy="311.0" r="3.45"/><circle cx="898.5" cy="307.0" r="3.45"/><circle cx="898.2" cy="303.0" r="3.45"/><circle cx="898.0" cy="300.0" r="3.45"/><circle cx="898.0" cy="296.0" r="3.45"/><circle cx="898.0" cy="292.0" r="3.45"/><circle cx="898.0" cy="288.0" r="3.45"/><circle cx="898.0" cy="285.0" r="3.45"/><circle cx="898.3" cy="281.0" r="3.45"/><circle cx="898.5" cy="277.0" r="3.45"/><circle cx="898.8" cy="273.0" r="3.45"/><circle cx="899.0" cy="270.0" r="3.45"/><circle cx="899.1" cy="266.0" r="3.45"/><circle cx="899.3" cy="262.0" r="3.45"/><circle cx="899.4" cy="258.0" r="3.45"/><circle cx="899.5" cy="255.0" r="3.45"/><circle cx="899.8" cy="251.0" r="3.45"/><circle cx="900.0" cy="247.0" r="3.45"/><circle cx="900.3" cy="243.0" r="3.45"/><circle cx="900.5" cy="240.0" r="3.45"/><circle cx="901.2" cy="236.1" r="3.45"/><circle cx="902.0" cy="232.1" r="3.45"/><circle cx="902.0" cy="232.0" r="3.45"/><circle cx="902.8" cy="228.1" r="3.45"/><circle cx="903.5" cy="225.0" r="3.45"/><circle cx="903.7" cy="221.0" r="3.45"/><circle cx="904.0" cy="217.0" r="3.45"/><circle cx="904.0" cy="217.0" r="3.45"/><circle cx="904.3" cy="213.0" r="3.45"/><circle cx="904.5" cy="210.0" r="3.45"/><circle cx="904.7" cy="206.0" r="3.45"/><circle cx="905.0" cy="202.0" r="3.45"/><circle cx="905.0" cy="202.0" r="3.45"/><circle cx="905.3" cy="198.0" r="3.45"/><circle cx="905.5" cy="195.0" r="3.45"/><circle cx="905.9" cy="191.0" r="3.45"/><circle cx="906.0" cy="190.0" r="3.45"/><circle cx="906.0" cy="186.0" r="3.45"/><circle cx="906.0" cy="184.0" r="3.45"/><circle cx="928.4" cy="200.6" r="3.45"/><circle cx="928.0" cy="460.0" r="3.45"/><circle cx="928.0" cy="464.0" r="3.45"/><circle cx="928.0" cy="468.0" r="3.45"/><circle cx="928.0" cy="472.0" r="3.45"/><circle cx="928.0" cy="476.0" r="3.45"/><circle cx="928.0" cy="480.0" r="3.45"/><circle cx="928.0" cy="481.1" r="3.45"/><circle cx="930.0" cy="481.2" r="3.45"/><circle cx="934.0" cy="481.4" r="3.45"/><circle cx="938.0" cy="481.6" r="3.45"/><circle cx="940.0" cy="481.7" r="3.45"/><circle cx="944.0" cy="481.9" r="3.45"/><circle cx="945.0" cy="482.0" r="3.45"/><circle cx="945.0" cy="362.5" r="3.45"/><circle cx="946.6" cy="359.4" r="3.45"/><circle cx="947.5" cy="357.5" r="3.45"/><circle cx="947.5" cy="354.0" r="3.45"/><circle cx="947.5" cy="352.5" r="3.45"/><circle cx="948.1" cy="349.0" r="3.45"/><circle cx="948.7" cy="345.6" r="3.45"/><circle cx="948.8" cy="345.0" r="3.45"/><circle cx="948.8" cy="341.5" r="3.45"/><circle cx="948.8" cy="338.0" r="3.45"/><circle cx="948.8" cy="337.5" r="3.45"/><circle cx="949.3" cy="334.0" r="3.45"/><circle cx="949.9" cy="330.6" r="3.45"/><circle cx="950.0" cy="330.0" r="3.45"/><circle cx="950.7" cy="338.7" r="3.45"/><circle cx="951.4" cy="343.4" r="3.45"/><circle cx="952.1" cy="333.8" r="3.45"/><circle cx="952.8" cy="326.5" r="3.45"/><circle cx="953.5" cy="326.4" r="3.45"/><circle cx="954.2" cy="322.6" r="3.45"/><circle cx="954.9" cy="324.7" r="3.45"/><circle cx="955.6" cy="325.2" r="3.45"/><circle cx="956.3" cy="322.6" r="3.45"/><circle cx="957.0" cy="334.5" r="3.45"/><circle cx="957.7" cy="325.1" r="3.45"/><circle cx="958.4" cy="332.0" r="3.45"/><circle cx="959.1" cy="338.4" r="3.45"/><circle cx="959.8" cy="335.8" r="3.45"/><circle cx="960.5" cy="332.4" r="3.45"/><circle cx="961.2" cy="338.9" r="3.45"/><circle cx="961.9" cy="333.6" r="3.45"/><circle cx="962.6" cy="338.2" r="3.45"/><circle cx="963.3" cy="324.6" r="3.45"/><circle cx="964.0" cy="330.4" r="3.45"/><circle cx="964.7" cy="321.8" r="3.45"/><circle cx="965.4" cy="320.5" r="3.45"/><circle cx="966.1" cy="320.8" r="3.45"/><circle cx="966.8" cy="317.6" r="3.45"/><circle cx="967.5" cy="318.1" r="3.45"/><circle cx="968.2" cy="320.1" r="3.45"/><circle cx="968.9" cy="314.8" r="3.45"/><circle cx="969.6" cy="314.7" r="3.45"/><circle cx="970.3" cy="315.6" r="3.45"/><circle cx="971.0" cy="315.0" r="3.45"/><circle cx="971.7" cy="318.9" r="3.45"/><circle cx="972.4" cy="321.2" r="3.45"/><circle cx="973.1" cy="318.2" r="3.45"/><circle cx="973.8" cy="321.5" r="3.45"/><circle cx="974.5" cy="318.5" r="3.45"/><circle cx="975.2" cy="324.3" r="3.45"/><circle cx="975.9" cy="321.2" r="3.45"/><circle cx="976.6" cy="325.6" r="3.45"/><circle cx="977.3" cy="326.6" r="3.45"/><circle cx="978.0" cy="318.3" r="3.45"/><circle cx="978.7" cy="325.1" r="3.45"/><circle cx="979.4" cy="333.7" r="3.45"/><circle cx="980.1" cy="331.4" r="3.45"/><circle cx="980.8" cy="315.6" r="3.45"/><circle cx="981.5" cy="315.2" r="3.45"/><circle cx="982.2" cy="322.4" r="3.45"/><circle cx="982.9" cy="314.1" r="3.45"/><circle cx="983.6" cy="314.5" r="3.45"/><circle cx="984.3" cy="310.0" r="3.45"/><circle cx="985.0" cy="314.4" r="3.45"/><circle cx="985.7" cy="315.4" r="3.45"/><circle cx="987.0" cy="308.0" r="3.45"/><circle cx="987.0" cy="390.5" r="3.45"/><circle cx="987.0" cy="450.0" r="3.45"/><circle cx="989.7" cy="452.9" r="3.45"/><circle cx="992.4" cy="455.9" r="3.45"/><circle cx="995.1" cy="458.8" r="3.45"/><circle cx="997.5" cy="461.4" r="3.45"/><circle cx="1001.2" cy="462.9" r="3.45"/><circle cx="1004.9" cy="464.5" r="3.45"/><circle cx="1008.6" cy="466.0" r="3.45"/><circle cx="1010.0" cy="466.6" r="3.45"/><circle cx="1013.9" cy="467.5" r="3.45"/><circle cx="1017.8" cy="468.4" r="3.45"/><circle cx="1021.7" cy="469.3" r="3.45"/><circle cx="1025.6" cy="470.3" r="3.45"/><circle cx="1029.5" cy="471.2" r="3.45"/><circle cx="1033.4" cy="472.1" r="3.45"/><circle cx="1035.0" cy="472.5" r="3.45"/><circle cx="1038.9" cy="473.2" r="3.45"/><circle cx="1042.9" cy="473.9" r="3.45"/><circle cx="1046.8" cy="474.6" r="3.45"/><circle cx="1050.7" cy="475.3" r="3.45"/><circle cx="1054.7" cy="476.0" r="3.45"/><circle cx="1058.6" cy="476.8" r="3.45"/><circle cx="1060.0" cy="477.0" r="3.45"/><circle cx="1064.0" cy="477.6" r="3.45"/><circle cx="1067.9" cy="478.2" r="3.45"/><circle cx="1071.9" cy="478.8" r="3.45"/><circle cx="1075.8" cy="479.4" r="3.45"/><circle cx="1079.8" cy="480.0" r="3.45"/><circle cx="1083.7" cy="480.6" r="3.45"/><circle cx="1085.0" cy="480.8" r="3.45"/><circle cx="1089.0" cy="481.0" r="3.45"/><circle cx="1093.0" cy="481.3" r="3.45"/><circle cx="1097.0" cy="481.6" r="3.45"/><circle cx="1101.0" cy="481.9" r="3.45"/><circle cx="1102.0" cy="482.0" r="3.45"/><circle cx="1102.0" cy="426.8" r="3.45"/><circle cx="1103.0" cy="370.0" r="3.45"/><circle cx="1104.3" cy="366.8" r="3.45"/><circle cx="1104.5" cy="366.2" r="3.45"/><circle cx="1104.3" cy="362.8" r="3.45"/><circle cx="1104.2" cy="359.3" r="3.45"/><circle cx="1104.0" cy="355.8" r="3.45"/><circle cx="1103.9" cy="352.3" r="3.45"/><circle cx="1103.8" cy="350.0" r="3.45"/><circle cx="1104.3" cy="346.5" r="3.45"/><circle cx="1104.5" cy="345.0" r="3.45"/><circle cx="1105.1" cy="341.5" r="3.45"/><circle cx="1105.5" cy="338.8" r="3.45"/><circle cx="1106.3" cy="335.3" r="3.45"/><circle cx="1107.0" cy="332.5" r="3.45"/><circle cx="1107.7" cy="359.7" r="3.45"/><circle cx="1108.4" cy="308.1" r="3.45"/><circle cx="1109.1" cy="324.0" r="3.45"/><circle cx="1109.8" cy="322.3" r="3.45"/><circle cx="1110.5" cy="306.8" r="3.45"/><circle cx="1111.2" cy="322.4" r="3.45"/><circle cx="1111.9" cy="329.1" r="3.45"/><circle cx="1112.6" cy="308.5" r="3.45"/><circle cx="1113.3" cy="329.3" r="3.45"/><circle cx="1114.0" cy="321.0" r="3.45"/><circle cx="1114.7" cy="322.3" r="3.45"/><circle cx="1115.4" cy="329.9" r="3.45"/><circle cx="1116.1" cy="328.7" r="3.45"/><circle cx="1116.8" cy="317.4" r="3.45"/><circle cx="1117.5" cy="321.5" r="3.45"/><circle cx="1118.2" cy="315.5" r="3.45"/><circle cx="1118.9" cy="307.6" r="3.45"/><circle cx="1119.6" cy="304.4" r="3.45"/><circle cx="1120.3" cy="302.9" r="3.45"/><circle cx="1121.0" cy="314.5" r="3.45"/><circle cx="1121.7" cy="294.2" r="3.45"/><circle cx="1122.4" cy="305.5" r="3.45"/><circle cx="1123.1" cy="303.1" r="3.45"/><circle cx="1123.8" cy="294.0" r="3.45"/><circle cx="1124.5" cy="297.5" r="3.45"/><circle cx="1125.2" cy="300.8" r="3.45"/><circle cx="1125.9" cy="299.5" r="3.45"/><circle cx="1126.6" cy="294.5" r="3.45"/><circle cx="1127.3" cy="304.8" r="3.45"/><circle cx="1128.0" cy="305.6" r="3.45"/><circle cx="1128.7" cy="308.3" r="3.45"/><circle cx="1129.4" cy="296.2" r="3.45"/><circle cx="1130.1" cy="300.1" r="3.45"/><circle cx="1130.8" cy="294.9" r="3.45"/><circle cx="1131.5" cy="317.1" r="3.45"/><circle cx="1132.2" cy="301.9" r="3.45"/><circle cx="1132.9" cy="297.6" r="3.45"/><circle cx="1133.6" cy="306.4" r="3.45"/><circle cx="1134.3" cy="321.1" r="3.45"/><circle cx="1135.0" cy="318.3" r="3.45"/><circle cx="1136.2" cy="305.0" r="3.45"/><circle cx="1137.0" cy="406.8" r="3.45"/><circle cx="1137.0" cy="451.2" r="3.45"/><circle cx="1139.8" cy="454.2" r="3.45"/><circle cx="1142.5" cy="457.1" r="3.45"/><circle cx="1145.3" cy="460.0" r="3.45"/><circle cx="1147.5" cy="462.3" r="3.45"/><circle cx="1151.3" cy="463.6" r="3.45"/><circle cx="1155.1" cy="464.9" r="3.45"/><circle cx="1158.9" cy="466.1" r="3.45"/><circle cx="1160.0" cy="466.5" r="3.45"/><circle cx="1163.9" cy="467.5" r="3.45"/><circle cx="1167.8" cy="468.4" r="3.45"/><circle cx="1171.7" cy="469.3" r="3.45"/><circle cx="1175.6" cy="470.2" r="3.45"/><circle cx="1179.5" cy="471.2" r="3.45"/><circle cx="1183.3" cy="472.1" r="3.45"/><circle cx="1185.0" cy="472.5" r="3.45"/><circle cx="1188.9" cy="473.2" r="3.45"/><circle cx="1192.9" cy="473.9" r="3.45"/><circle cx="1196.8" cy="474.6" r="3.45"/><circle cx="1200.8" cy="475.3" r="3.45"/><circle cx="1204.7" cy="475.9" r="3.45"/><circle cx="1208.6" cy="476.6" r="3.45"/><circle cx="1210.0" cy="476.9" r="3.45"/><circle cx="1214.0" cy="477.5" r="3.45"/><circle cx="1217.9" cy="478.0" r="3.45"/><circle cx="1221.9" cy="478.6" r="3.45"/><circle cx="1225.8" cy="479.2" r="3.45"/><circle cx="1229.8" cy="479.8" r="3.45"/><circle cx="1233.7" cy="480.4" r="3.45"/><circle cx="1235.0" cy="480.5" r="3.45"/><circle cx="1239.0" cy="481.1" r="3.45"/><circle cx="1242.9" cy="481.7" r="3.45"/><circle cx="1246.9" cy="482.2" r="3.45"/><circle cx="1248.8" cy="482.5" r="3.45"/></g>
<g fill="#ffffff" stroke="#0000ff" stroke-width="2.4" style="--c:#0000ff"><circle cx="31.5" cy="481.0" r="3.45"/><circle class="s" cx="32.5" cy="480.2" r="3.45"/><circle class="s" cx="33.5" cy="482.3" r="3.45"/><circle class="s" cx="34.5" cy="482.3" r="3.45"/><circle class="s" cx="35.4" cy="481.0" r="3.45"/><circle class="s" cx="36.4" cy="481.9" r="3.45"/><circle class="s" cx="37.4" cy="481.9" r="3.45"/><circle class="s" cx="38.4" cy="482.6" r="3.45"/><circle class="s" cx="39.4" cy="483.2" r="3.45"/><circle cx="40.0" cy="482.5" r="3.45"/><circle class="s" cx="41.0" cy="481.4" r="3.45"/><circle class="s" cx="42.0" cy="481.3" r="3.45"/><circle class="s" cx="43.0" cy="483.6" r="3.45"/><circle class="s" cx="44.0" cy="482.5" r="3.45"/><circle class="s" cx="45.0" cy="483.5" r="3.45"/><circle class="s" cx="46.0" cy="481.4" r="3.45"/><circle class="s" cx="47.0" cy="482.7" r="3.45"/><circle class="s" cx="48.0" cy="483.5" r="3.45"/><circle class="s" cx="49.0" cy="482.2" r="3.45"/><circle class="s" cx="50.0" cy="484.2" r="3.45"/><circle cx="50.0" cy="483.0" r="3.45"/><circle class="s" cx="50.8" cy="483.5" r="3.45"/><circle class="s" cx="51.6" cy="480.5" r="3.45"/><circle class="s" cx="52.4" cy="479.9" r="3.45"/><circle class="s" cx="53.3" cy="480.8" r="3.45"/><circle class="s" cx="54.1" cy="481.3" r="3.45"/><circle class="s" cx="54.9" cy="479.2" r="3.45"/><circle class="s" cx="55.7" cy="478.1" r="3.45"/><circle class="s" cx="56.5" cy="478.1" r="3.45"/><circle cx="57.0" cy="478.0" r="3.45"/><circle class="s" cx="57.6" cy="475.9" r="3.45"/><circle class="s" cx="58.2" cy="475.6" r="3.45"/><circle class="s" cx="58.8" cy="475.4" r="3.45"/><circle class="s" cx="59.4" cy="474.8" r="3.45"/><circle class="s" cx="60.0" cy="473.2" r="3.45"/><circle class="s" cx="60.5" cy="472.4" r="3.45"/><circle class="s" cx="61.1" cy="471.6" r="3.45"/><circle class="s" cx="61.7" cy="471.4" r="3.45"/><circle class="s" cx="62.3" cy="470.2" r="3.45"/><circle cx="62.5" cy="470.5" r="3.45"/><circle class="s" cx="63.4" cy="468.8" r="3.45"/><circle class="s" cx="64.3" cy="470.6" r="3.45"/><circle class="s" cx="65.2" cy="469.4" r="3.45"/><circle class="s" cx="66.2" cy="469.3" r="3.45"/><circle class="s" cx="67.1" cy="467.6" r="3.45"/><circle class="s" cx="68.0" cy="469.5" r="3.45"/><circle class="s" cx="68.9" cy="468.7" r="3.45"/><circle class="s" cx="69.8" cy="466.2" r="3.45"/><circle class="s" cx="70.7" cy="466.4" r="3.45"/><circle class="s" cx="71.7" cy="467.1" r="3.45"/><circle class="s" cx="72.6" cy="466.7" r="3.45"/><circle class="s" cx="73.5" cy="466.9" r="3.45"/><circle class="s" cx="74.4" cy="465.0" r="3.45"/><circle cx="75.0" cy="465.0" r="3.45"/><circle class="s" cx="75.9" cy="465.5" r="3.45"/><circle class="s" cx="76.8" cy="464.7" r="3.45"/><circle class="s" cx="77.7" cy="463.2" r="3.45"/><circle class="s" cx="78.6" cy="463.6" r="3.45"/><circle class="s" cx="79.6" cy="464.0" r="3.45"/><circle class="s" cx="80.5" cy="463.5" r="3.45"/><circle class="s" cx="81.4" cy="462.1" r="3.45"/><circle class="s" cx="82.3" cy="462.0" r="3.45"/><circle class="s" cx="83.2" cy="460.0" r="3.45"/><circle class="s" cx="84.1" cy="460.2" r="3.45"/><circle cx="85.0" cy="460.5" r="3.45"/><circle class="s" cx="85.9" cy="460.8" r="3.45"/><circle class="s" cx="86.7" cy="459.3" r="3.45"/><circle class="s" cx="87.6" cy="458.1" r="3.45"/><circle class="s" cx="88.5" cy="458.7" r="3.45"/><circle class="s" cx="89.4" cy="458.6" r="3.45"/><circle class="s" cx="90.2" cy="458.0" r="3.45"/><circle class="s" cx="91.1" cy="456.7" r="3.45"/><circle class="s" cx="92.0" cy="456.4" r="3.45"/><circle cx="92.5" cy="456.2" r="3.45"/><circle class="s" cx="93.3" cy="456.9" r="3.45"/><circle class="s" cx="94.0" cy="458.3" r="3.45"/><circle class="s" cx="94.8" cy="458.2" r="3.45"/><circle class="s" cx="95.6" cy="458.5" r="3.45"/><circle class="s" cx="96.3" cy="459.4" r="3.45"/><circle class="s" cx="97.1" cy="458.8" r="3.45"/><circle class="s" cx="97.9" cy="459.5" r="3.45"/><circle class="s" cx="98.6" cy="461.9" r="3.45"/><circle class="s" cx="99.4" cy="463.4" r="3.45"/><circle cx="100.0" cy="462.5" r="3.45"/><circle class="s" cx="100.9" cy="463.1" r="3.45"/><circle class="s" cx="101.9" cy="462.9" r="3.45"/><circle class="s" cx="102.8" cy="462.6" r="3.45"/><circle class="s" cx="103.7" cy="463.9" r="3.45"/><circle class="s" cx="104.7" cy="465.6" r="3.45"/><circle class="s" cx="105.6" cy="465.4" r="3.45"/><circle class="s" cx="106.6" cy="465.1" r="3.45"/><circle class="s" cx="107.5" cy="466.3" r="3.45"/><circle class="s" cx="108.4" cy="464.9" r="3.45"/><circle class="s" cx="109.4" cy="466.0" r="3.45"/><circle cx="110.0" cy="466.2" r="3.45"/><circle class="s" cx="110.9" cy="467.1" r="3.45"/><circle class="s" cx="111.8" cy="465.6" r="3.45"/><circle cx="112.5" cy="465.0" r="3.45"/><circle cx="112.5" cy="427.5" r="3.45"/><circle cx="113.8" cy="376.2" r="3.45"/><circle cx="114.0" cy="347.5" r="3.45"/><circle cx="114.3" cy="342.5" r="3.45"/><circle cx="114.6" cy="337.5" r="3.45"/><circle cx="114.9" cy="332.5" r="3.45"/><circle cx="115.2" cy="327.5" r="3.45"/><circle cx="115.3" cy="325.0" r="3.45"/><circle cx="115.5" cy="320.0" r="3.45"/><circle cx="115.8" cy="315.0" r="3.45"/><circle cx="116.0" cy="311.0" r="3.45"/><circle cx="116.2" cy="306.0" r="3.45"/><circle cx="116.5" cy="301.0" r="3.45"/><circle cx="116.7" cy="297.0" r="3.45"/><circle cx="117.1" cy="292.0" r="3.45"/><circle cx="117.4" cy="287.0" r="3.45"/><circle cx="117.8" cy="283.0" r="3.45"/><circle cx="118.4" cy="278.0" r="3.45"/><circle cx="118.5" cy="277.0" r="3.45"/><circle cx="118.9" cy="272.0" r="3.45"/><circle cx="119.2" cy="267.0" r="3.45"/><circle cx="119.2" cy="266.8" r="3.45"/><circle cx="120.5" cy="405.0" r="3.45"/><circle cx="120.5" cy="456.2" r="3.45"/><circle class="s" cx="121.1" cy="457.0" r="3.45"/><circle class="s" cx="121.6" cy="457.3" r="3.45"/><circle class="s" cx="122.2" cy="458.9" r="3.45"/><circle class="s" cx="122.7" cy="460.9" r="3.45"/><circle class="s" cx="123.3" cy="459.0" r="3.45"/><circle class="s" cx="123.8" cy="462.0" r="3.45"/><circle class="s" cx="124.4" cy="463.0" r="3.45"/><circle class="s" cx="124.9" cy="464.0" r="3.45"/><circle cx="125.0" cy="463.0" r="3.45"/><circle class="s" cx="125.7" cy="464.4" r="3.45"/><circle class="s" cx="126.3" cy="465.4" r="3.45"/><circle class="s" cx="127.0" cy="465.3" r="3.45"/><circle class="s" cx="127.6" cy="466.2" r="3.45"/><circle class="s" cx="128.3" cy="466.6" r="3.45"/><circle class="s" cx="128.9" cy="466.3" r="3.45"/><circle class="s" cx="129.6" cy="469.3" r="3.45"/><circle cx="130.0" cy="468.8" r="3.45"/><circle class="s" cx="131.0" cy="469.1" r="3.45"/><circle class="s" cx="132.0" cy="468.2" r="3.45"/><circle class="s" cx="133.0" cy="469.3" r="3.45"/><circle class="s" cx="133.9" cy="469.4" r="3.45"/><circle class="s" cx="134.9" cy="469.2" r="3.45"/><circle class="s" cx="135.9" cy="469.3" r="3.45"/><circle class="s" cx="136.9" cy="470.0" r="3.45"/><circle class="s" cx="137.9" cy="470.4" r="3.45"/><circle class="s" cx="138.9" cy="470.6" r="3.45"/><circle class="s" cx="139.9" cy="470.3" r="3.45"/><circle class="s" cx="140.8" cy="469.3" r="3.45"/><circle class="s" cx="141.8" cy="470.0" r="3.45"/><circle class="s" cx="142.8" cy="470.0" r="3.45"/><circle class="s" cx="143.8" cy="471.3" r="3.45"/><circle class="s" cx="144.8" cy="472.3" r="3.45"/><circle class="s" cx="145.8" cy="472.3" r="3.45"/><circle class="s" cx="146.8" cy="472.4" r="3.45"/><circle class="s" cx="147.7" cy="472.7" r="3.45"/><circle class="s" cx="148.7" cy="471.2" r="3.45"/><circle class="s" cx="149.7" cy="473.1" r="3.45"/><circle class="s" cx="150.7" cy="472.8" r="3.45"/><circle class="s" cx="151.7" cy="471.3" r="3.45"/><circle class="s" cx="152.7" cy="471.3" r="3.45"/><circle class="s" cx="153.7" cy="471.4" r="3.45"/><circle class="s" cx="154.6" cy="473.7" r="3.45"/><circle cx="155.0" cy="473.0" r="3.45"/><circle class="s" cx="156.0" cy="472.5" r="3.45"/><circle class="s" cx="157.0" cy="472.3" r="3.45"/><circle class="s" cx="157.9" cy="474.0" r="3.45"/><circle class="s" cx="158.9" cy="473.4" r="3.45"/><circle class="s" cx="159.9" cy="472.9" r="3.45"/><circle class="s" cx="160.9" cy="473.4" r="3.45"/><circle class="s" cx="161.8" cy="474.6" r="3.45"/><circle class="s" cx="162.8" cy="473.8" r="3.45"/><circle class="s" cx="163.8" cy="474.3" r="3.45"/><circle class="s" cx="164.8" cy="475.8" r="3.45"/><circle class="s" cx="165.7" cy="475.3" r="3.45"/><circle class="s" cx="166.7" cy="475.1" r="3.45"/><circle class="s" cx="167.7" cy="475.8" r="3.45"/><circle class="s" cx="168.7" cy="474.7" r="3.45"/><circle class="s" cx="169.6" cy="476.0" r="3.45"/><circle class="s" cx="170.6" cy="476.3" r="3.45"/><circle class="s" cx="171.6" cy="475.9" r="3.45"/><circle class="s" cx="172.6" cy="475.9" r="3.45"/><circle class="s" cx="173.5" cy="478.3" r="3.45"/><circle class="s" cx="174.5" cy="477.4" r="3.45"/><circle cx="175.0" cy="477.5" r="3.45"/><circle class="s" cx="176.0" cy="476.8" r="3.45"/><circle class="s" cx="177.0" cy="478.0" r="3.45"/><circle class="s" cx="178.0" cy="478.7" r="3.45"/><circle class="s" cx="179.0" cy="476.6" r="3.45"/><circle class="s" cx="180.0" cy="476.6" r="3.45"/><circle class="s" cx="181.0" cy="477.1" r="3.45"/><circle class="s" cx="182.0" cy="478.8" r="3.45"/><circle class="s" cx="183.0" cy="477.3" r="3.45"/><circle class="s" cx="184.0" cy="479.0" r="3.45"/><circle class="s" cx="185.0" cy="479.0" r="3.45"/><circle class="s" cx="185.9" cy="478.7" r="3.45"/><circle class="s" cx="186.9" cy="477.9" r="3.45"/><circle class="s" cx="187.9" cy="480.1" r="3.45"/><circle class="s" cx="188.9" cy="479.7" r="3.45"/><circle class="s" cx="189.9" cy="479.0" r="3.45"/><circle class="s" cx="190.9" cy="478.3" r="3.45"/><circle class="s" cx="191.9" cy="479.6" r="3.45"/><circle class="s" cx="192.9" cy="479.0" r="3.45"/><circle class="s" cx="193.9" cy="479.6" r="3.45"/><circle class="s" cx="194.9" cy="479.0" r="3.45"/><circle class="s" cx="195.9" cy="480.0" r="3.45"/><circle class="s" cx="196.9" cy="478.5" r="3.45"/><circle class="s" cx="197.9" cy="479.2" r="3.45"/><circle class="s" cx="198.9" cy="481.2" r="3.45"/><circle class="s" cx="199.9" cy="481.0" r="3.45"/><circle cx="200.0" cy="480.0" r="3.45"/><circle class="s" cx="201.0" cy="479.5" r="3.45"/><circle class="s" cx="202.0" cy="481.2" r="3.45"/><circle class="s" cx="203.0" cy="479.7" r="3.45"/><circle class="s" cx="204.0" cy="481.6" r="3.45"/><circle class="s" cx="205.0" cy="481.1" r="3.45"/><circle class="s" cx="206.0" cy="480.3" r="3.45"/><circle class="s" cx="207.0" cy="479.9" r="3.45"/><circle class="s" cx="208.0" cy="479.3" r="3.45"/><circle class="s" cx="209.0" cy="481.8" r="3.45"/><circle class="s" cx="210.0" cy="479.6" r="3.45"/><circle class="s" cx="211.0" cy="481.9" r="3.45"/><circle class="s" cx="212.0" cy="482.3" r="3.45"/><circle class="s" cx="213.0" cy="481.3" r="3.45"/><circle class="s" cx="213.9" cy="480.3" r="3.45"/><circle class="s" cx="214.9" cy="482.3" r="3.45"/><circle class="s" cx="215.9" cy="482.7" r="3.45"/><circle class="s" cx="216.9" cy="482.1" r="3.45"/><circle class="s" cx="217.9" cy="481.6" r="3.45"/><circle class="s" cx="218.9" cy="481.3" r="3.45"/><circle class="s" cx="219.9" cy="481.3" r="3.45"/><circle cx="220.0" cy="481.8" r="3.45"/><circle class="s" cx="220.8" cy="480.4" r="3.45"/><circle class="s" cx="221.7" cy="481.2" r="3.45"/><circle class="s" cx="222.5" cy="480.0" r="3.45"/><circle class="s" cx="223.4" cy="478.8" r="3.45"/><circle class="s" cx="224.2" cy="478.0" r="3.45"/><circle class="s" cx="225.1" cy="479.0" r="3.45"/><circle class="s" cx="225.9" cy="477.5" r="3.45"/><circle class="s" cx="226.8" cy="477.5" r="3.45"/><circle class="s" cx="227.6" cy="476.5" r="3.45"/><circle class="s" cx="228.5" cy="477.5" r="3.45"/><circle class="s" cx="229.3" cy="477.0" r="3.45"/><circle cx="230.0" cy="475.5" r="3.45"/><circle class="s" cx="230.8" cy="473.6" r="3.45"/><circle class="s" cx="231.6" cy="473.5" r="3.45"/><circle class="s" cx="232.4" cy="473.2" r="3.45"/><circle class="s" cx="233.2" cy="474.5" r="3.45"/><circle class="s" cx="234.0" cy="473.3" r="3.45"/><circle class="s" cx="234.8" cy="471.4" r="3.45"/><circle class="s" cx="235.6" cy="470.5" r="3.45"/><circle class="s" cx="236.4" cy="471.2" r="3.45"/><circle class="s" cx="237.2" cy="471.0" r="3.45"/><circle class="s" cx="238.0" cy="470.7" r="3.45"/><circle class="s" cx="238.8" cy="468.5" r="3.45"/><circle class="s" cx="239.6" cy="469.4" r="3.45"/><circle class="s" cx="240.4" cy="468.2" r="3.45"/><circle class="s" cx="241.2" cy="467.1" r="3.45"/><circle class="s" cx="242.0" cy="467.9" r="3.45"/><circle class="s" cx="242.8" cy="465.2" r="3.45"/><circle class="s" cx="243.6" cy="465.9" r="3.45"/><circle class="s" cx="244.4" cy="463.5" r="3.45"/><circle cx="245.0" cy="464.2" r="3.45"/><circle class="s" cx="245.9" cy="462.9" r="3.45"/><circle class="s" cx="246.8" cy="464.6" r="3.45"/><circle class="s" cx="247.7" cy="462.2" r="3.45"/><circle class="s" cx="248.6" cy="463.3" r="3.45"/><circle class="s" cx="249.6" cy="462.5" r="3.45"/><circle class="s" cx="250.5" cy="462.7" r="3.45"/><circle class="s" cx="251.4" cy="461.0" r="3.45"/><circle class="s" cx="252.3" cy="460.5" r="3.45"/><circle class="s" cx="253.2" cy="460.0" r="3.45"/><circle class="s" cx="254.1" cy="461.2" r="3.45"/><circle class="s" cx="255.0" cy="460.0" r="3.45"/><circle class="s" cx="255.9" cy="460.6" r="3.45"/><circle class="s" cx="256.9" cy="460.0" r="3.45"/><circle class="s" cx="257.8" cy="457.5" r="3.45"/><circle class="s" cx="258.7" cy="458.2" r="3.45"/><circle class="s" cx="259.6" cy="456.6" r="3.45"/><circle cx="260.0" cy="457.5" r="3.45"/><circle class="s" cx="260.9" cy="456.7" r="3.45"/><circle class="s" cx="261.8" cy="457.2" r="3.45"/><circle class="s" cx="262.6" cy="459.9" r="3.45"/><circle class="s" cx="263.5" cy="460.2" r="3.45"/><circle class="s" cx="264.4" cy="460.8" r="3.45"/><circle class="s" cx="265.3" cy="459.9" r="3.45"/><circle class="s" cx="266.2" cy="461.1" r="3.45"/><circle class="s" cx="267.1" cy="462.1" r="3.45"/><circle class="s" cx="267.9" cy="461.4" r="3.45"/><circle class="s" cx="268.8" cy="462.4" r="3.45"/><circle class="s" cx="269.7" cy="461.9" r="3.45"/><circle class="s" cx="270.6" cy="462.0" r="3.45"/><circle class="s" cx="271.5" cy="463.0" r="3.45"/><circle class="s" cx="272.4" cy="465.2" r="3.45"/><circle class="s" cx="273.2" cy="464.7" r="3.45"/><circle class="s" cx="274.1" cy="466.2" r="3.45"/><circle cx="275.0" cy="465.5" r="3.45"/><circle class="s" cx="276.0" cy="465.6" r="3.45"/><circle class="s" cx="276.9" cy="465.3" r="3.45"/><circle class="s" cx="277.9" cy="467.0" r="3.45"/><circle class="s" cx="278.9" cy="467.3" r="3.45"/><circle class="s" cx="279.9" cy="465.3" r="3.45"/><circle class="s" cx="280.8" cy="467.3" r="3.45"/><circle class="s" cx="281.8" cy="465.9" r="3.45"/><circle class="s" cx="282.8" cy="466.2" r="3.45"/><circle class="s" cx="283.8" cy="468.6" r="3.45"/><circle class="s" cx="284.7" cy="466.5" r="3.45"/><circle class="s" cx="285.7" cy="467.2" r="3.45"/><circle class="s" cx="286.7" cy="469.6" r="3.45"/><circle class="s" cx="287.7" cy="468.2" r="3.45"/><circle class="s" cx="288.6" cy="467.6" r="3.45"/><circle class="s" cx="289.6" cy="467.9" r="3.45"/><circle class="s" cx="290.6" cy="468.4" r="3.45"/><circle class="s" cx="291.6" cy="470.0" r="3.45"/><circle class="s" cx="292.5" cy="468.4" r="3.45"/><circle class="s" cx="293.5" cy="470.9" r="3.45"/><circle class="s" cx="294.5" cy="469.6" r="3.45"/><circle class="s" cx="295.5" cy="471.5" r="3.45"/><circle class="s" cx="296.4" cy="471.6" r="3.45"/><circle class="s" cx="297.4" cy="470.1" r="3.45"/><circle class="s" cx="298.4" cy="470.2" r="3.45"/><circle class="s" cx="299.4" cy="471.0" r="3.45"/><circle cx="300.0" cy="471.2" r="3.45"/><circle class="s" cx="301.0" cy="470.3" r="3.45"/><circle class="s" cx="302.0" cy="472.1" r="3.45"/><circle class="s" cx="302.9" cy="470.6" r="3.45"/><circle class="s" cx="303.9" cy="470.7" r="3.45"/><circle class="s" cx="304.9" cy="473.7" r="3.45"/><circle class="s" cx="305.9" cy="472.0" r="3.45"/><circle class="s" cx="306.8" cy="473.0" r="3.45"/><circle class="s" cx="307.8" cy="472.8" r="3.45"/><circle class="s" cx="308.8" cy="472.7" r="3.45"/><circle class="s" cx="309.8" cy="472.2" r="3.45"/><circle class="s" cx="310.7" cy="474.8" r="3.45"/><circle class="s" cx="311.7" cy="475.1" r="3.45"/><circle class="s" cx="312.7" cy="475.4" r="3.45"/><circle class="s" cx="313.7" cy="473.2" r="3.45"/><circle class="s" cx="314.6" cy="473.7" r="3.45"/><circle class="s" cx="315.6" cy="475.0" r="3.45"/><circle class="s" cx="316.6" cy="476.2" r="3.45"/><circle class="s" cx="317.6" cy="475.2" r="3.45"/><circle class="s" cx="318.6" cy="475.9" r="3.45"/><circle class="s" cx="319.5" cy="476.0" r="3.45"/><circle class="s" cx="320.5" cy="475.1" r="3.45"/><circle class="s" cx="321.5" cy="476.1" r="3.45"/><circle class="s" cx="322.5" cy="475.7" r="3.45"/><circle class="s" cx="323.4" cy="475.7" r="3.45"/><circle class="s" cx="324.4" cy="475.4" r="3.45"/><circle cx="325.0" cy="476.8" r="3.45"/><circle class="s" cx="326.0" cy="476.2" r="3.45"/><circle class="s" cx="327.0" cy="478.3" r="3.45"/><circle class="s" cx="328.0" cy="476.9" r="3.45"/><circle class="s" cx="329.0" cy="477.6" r="3.45"/><circle class="s" cx="330.0" cy="477.6" r="3.45"/><circle class="s" cx="331.0" cy="478.6" r="3.45"/><circle class="s" cx="332.0" cy="477.1" r="3.45"/><circle class="s" cx="333.0" cy="477.0" r="3.45"/><circle class="s" cx="334.0" cy="477.2" r="3.45"/><circle class="s" cx="335.0" cy="477.2" r="3.45"/><circle class="s" cx="335.9" cy="478.8" r="3.45"/><circle class="s" cx="336.9" cy="479.0" r="3.45"/><circle class="s" cx="337.9" cy="477.5" r="3.45"/><circle class="s" cx="338.9" cy="477.7" r="3.45"/><circle class="s" cx="339.9" cy="478.4" r="3.45"/><circle class="s" cx="340.9" cy="478.6" r="3.45"/><circle class="s" cx="341.9" cy="478.7" r="3.45"/><circle class="s" cx="342.9" cy="477.8" r="3.45"/><circle class="s" cx="343.9" cy="477.3" r="3.45"/><circle class="s" cx="344.9" cy="478.0" r="3.45"/><circle cx="345.0" cy="478.8" r="3.45"/><circle class="s" cx="346.0" cy="477.6" r="3.45"/><circle class="s" cx="347.0" cy="479.0" r="3.45"/><circle class="s" cx="348.0" cy="477.7" r="3.45"/><circle class="s" cx="349.0" cy="477.8" r="3.45"/><circle class="s" cx="350.0" cy="479.4" r="3.45"/><circle class="s" cx="351.0" cy="478.5" r="3.45"/><circle class="s" cx="352.0" cy="480.0" r="3.45"/><circle class="s" cx="353.0" cy="479.2" r="3.45"/><circle class="s" cx="354.0" cy="480.3" r="3.45"/><circle class="s" cx="355.0" cy="478.4" r="3.45"/><circle class="s" cx="356.0" cy="479.4" r="3.45"/><circle class="s" cx="357.0" cy="480.3" r="3.45"/><circle class="s" cx="358.0" cy="478.4" r="3.45"/><circle class="s" cx="359.0" cy="480.9" r="3.45"/><circle class="s" cx="360.0" cy="478.8" r="3.45"/><circle class="s" cx="361.0" cy="480.5" r="3.45"/><circle class="s" cx="362.0" cy="481.2" r="3.45"/><circle class="s" cx="363.0" cy="480.8" r="3.45"/><circle class="s" cx="364.0" cy="479.4" r="3.45"/><circle class="s" cx="365.0" cy="478.9" r="3.45"/><circle cx="365.0" cy="480.0" r="3.45"/><circle class="s" cx="366.0" cy="480.1" r="3.45"/><circle class="s" cx="367.0" cy="481.3" r="3.45"/><circle class="s" cx="368.0" cy="479.7" r="3.45"/><circle class="s" cx="369.0" cy="481.4" r="3.45"/><circle class="s" cx="370.0" cy="479.4" r="3.45"/><circle class="s" cx="371.0" cy="481.6" r="3.45"/><circle class="s" cx="372.0" cy="479.2" r="3.45"/><circle class="s" cx="373.0" cy="480.1" r="3.45"/><circle class="s" cx="374.0" cy="481.8" r="3.45"/><circle class="s" cx="375.0" cy="481.6" r="3.45"/><circle class="s" cx="376.0" cy="482.0" r="3.45"/><circle class="s" cx="377.0" cy="481.9" r="3.45"/><circle class="s" cx="378.0" cy="481.7" r="3.45"/><circle class="s" cx="379.0" cy="481.6" r="3.45"/><circle class="s" cx="380.0" cy="480.3" r="3.45"/><circle class="s" cx="381.0" cy="481.1" r="3.45"/><circle class="s" cx="381.9" cy="480.4" r="3.45"/><circle class="s" cx="382.9" cy="482.0" r="3.45"/><circle class="s" cx="383.9" cy="481.9" r="3.45"/><circle class="s" cx="384.9" cy="480.9" r="3.45"/><circle class="s" cx="385.9" cy="480.4" r="3.45"/><circle class="s" cx="386.9" cy="483.0" r="3.45"/><circle cx="387.5" cy="481.8" r="3.45"/><circle class="s" cx="388.3" cy="482.1" r="3.45"/><circle class="s" cx="389.2" cy="480.8" r="3.45"/><circle class="s" cx="390.0" cy="480.2" r="3.45"/><circle class="s" cx="390.9" cy="480.6" r="3.45"/><circle class="s" cx="391.7" cy="478.9" r="3.45"/><circle class="s" cx="392.6" cy="478.2" r="3.45"/><circle class="s" cx="393.4" cy="477.5" r="3.45"/><circle class="s" cx="394.2" cy="476.8" r="3.45"/><circle class="s" cx="395.1" cy="475.6" r="3.45"/><circle class="s" cx="395.9" cy="476.8" r="3.45"/><circle class="s" cx="396.8" cy="475.6" r="3.45"/><circle class="s" cx="397.6" cy="475.5" r="3.45"/><circle class="s" cx="398.4" cy="473.5" r="3.45"/><circle class="s" cx="399.3" cy="473.8" r="3.45"/><circle cx="400.0" cy="473.8" r="3.45"/><circle class="s" cx="400.8" cy="472.2" r="3.45"/><circle class="s" cx="401.6" cy="471.6" r="3.45"/><circle class="s" cx="402.5" cy="471.4" r="3.45"/><circle class="s" cx="403.3" cy="472.4" r="3.45"/><circle class="s" cx="404.1" cy="470.6" r="3.45"/><circle class="s" cx="404.9" cy="470.0" r="3.45"/><circle class="s" cx="405.7" cy="470.1" r="3.45"/><circle class="s" cx="406.6" cy="468.4" r="3.45"/><circle class="s" cx="407.4" cy="467.2" r="3.45"/><circle class="s" cx="408.2" cy="468.1" r="3.45"/><circle class="s" cx="409.0" cy="467.4" r="3.45"/><circle class="s" cx="409.8" cy="467.3" r="3.45"/><circle cx="410.0" cy="466.8" r="3.45"/><circle class="s" cx="410.9" cy="466.2" r="3.45"/><circle class="s" cx="411.9" cy="466.6" r="3.45"/><circle class="s" cx="412.8" cy="466.3" r="3.45"/><circle class="s" cx="413.7" cy="464.6" r="3.45"/><circle class="s" cx="414.7" cy="465.0" r="3.45"/><circle class="s" cx="415.6" cy="464.6" r="3.45"/><circle class="s" cx="416.6" cy="463.5" r="3.45"/><circle class="s" cx="417.5" cy="463.7" r="3.45"/><circle class="s" cx="418.4" cy="463.8" r="3.45"/><circle class="s" cx="419.4" cy="464.4" r="3.45"/><circle cx="420.0" cy="463.0" r="3.45"/><circle class="s" cx="420.8" cy="463.5" r="3.45"/><circle class="s" cx="421.6" cy="461.1" r="3.45"/><circle class="s" cx="422.3" cy="461.5" r="3.45"/><circle class="s" cx="423.1" cy="459.2" r="3.45"/><circle class="s" cx="423.9" cy="458.7" r="3.45"/><circle class="s" cx="424.7" cy="459.3" r="3.45"/><circle class="s" cx="425.5" cy="459.7" r="3.45"/><circle class="s" cx="426.2" cy="457.0" r="3.45"/><circle class="s" cx="427.0" cy="458.1" r="3.45"/><circle class="s" cx="427.8" cy="457.8" r="3.45"/><circle class="s" cx="428.6" cy="455.6" r="3.45"/><circle class="s" cx="429.4" cy="456.0" r="3.45"/><circle cx="430.0" cy="455.0" r="3.45"/><circle cx="430.0" cy="432.5" r="3.45"/><circle cx="429.5" cy="376.2" r="3.45"/><circle cx="429.5" cy="352.5" r="3.45"/><circle cx="429.7" cy="347.5" r="3.45"/><circle cx="429.9" cy="342.5" r="3.45"/><circle cx="430.2" cy="337.5" r="3.45"/><circle cx="430.4" cy="332.5" r="3.45"/><circle cx="430.5" cy="330.0" r="3.45"/><circle cx="430.8" cy="325.0" r="3.45"/><circle cx="431.1" cy="320.0" r="3.45"/><circle cx="431.4" cy="315.0" r="3.45"/><circle cx="431.7" cy="310.0" r="3.45"/><circle cx="432.0" cy="305.0" r="3.45"/><circle cx="432.0" cy="305.0" r="3.45"/><circle cx="432.9" cy="300.1" r="3.45"/><circle cx="433.8" cy="295.2" r="3.45"/><circle cx="434.0" cy="294.0" r="3.45"/><circle cx="435.6" cy="289.3" r="3.45"/><circle cx="436.0" cy="288.0" r="3.45"/><circle cx="437.5" cy="283.5" r="3.45"/><circle cx="438.1" cy="278.5" r="3.45"/><circle cx="438.2" cy="277.0" r="3.45"/><circle cx="438.8" cy="272.0" r="3.45"/><circle cx="439.3" cy="267.1" r="3.45"/><circle cx="439.3" cy="267.0" r="3.45"/><circle cx="438.8" cy="398.8" r="3.45"/><circle cx="440.0" cy="440.0" r="3.45"/><circle cx="440.0" cy="445.0" r="3.45"/><circle cx="440.0" cy="450.0" r="3.45"/><circle cx="440.0" cy="452.5" r="3.45"/><circle class="s" cx="440.6" cy="454.3" r="3.45"/><circle class="s" cx="441.1" cy="453.8" r="3.45"/><circle class="s" cx="441.7" cy="455.6" r="3.45"/><circle class="s" cx="442.2" cy="456.5" r="3.45"/><circle class="s" cx="442.8" cy="456.9" r="3.45"/><circle class="s" cx="443.3" cy="458.5" r="3.45"/><circle class="s" cx="443.9" cy="459.4" r="3.45"/><circle class="s" cx="444.4" cy="460.4" r="3.45"/><circle class="s" cx="445.0" cy="460.2" r="3.45"/><circle cx="445.0" cy="460.0" r="3.45"/><circle class="s" cx="445.8" cy="459.7" r="3.45"/><circle class="s" cx="446.5" cy="460.6" r="3.45"/><circle class="s" cx="447.3" cy="461.2" r="3.45"/><circle class="s" cx="448.0" cy="462.8" r="3.45"/><circle class="s" cx="448.8" cy="464.0" r="3.45"/><circle class="s" cx="449.6" cy="462.6" r="3.45"/><circle cx="450.0" cy="464.2" r="3.45"/><circle class="s" cx="451.0" cy="465.0" r="3.45"/><circle class="s" cx="451.9" cy="465.3" r="3.45"/><circle class="s" cx="452.9" cy="464.6" r="3.45"/><circle class="s" cx="453.9" cy="465.3" r="3.45"/><circle class="s" cx="454.9" cy="464.5" r="3.45"/><circle class="s" cx="455.8" cy="466.3" r="3.45"/><circle class="s" cx="456.8" cy="464.7" r="3.45"/><circle class="s" cx="457.8" cy="467.5" r="3.45"/><circle class="s" cx="458.7" cy="467.3" r="3.45"/><circle class="s" cx="459.7" cy="467.0" r="3.45"/><circle class="s" cx="460.7" cy="466.3" r="3.45"/><circle class="s" cx="461.6" cy="468.3" r="3.45"/><circle class="s" cx="462.6" cy="468.7" r="3.45"/><circle class="s" cx="463.6" cy="466.6" r="3.45"/><circle class="s" cx="464.6" cy="468.7" r="3.45"/><circle class="s" cx="465.5" cy="469.1" r="3.45"/><circle class="s" cx="466.5" cy="468.8" r="3.45"/><circle class="s" cx="467.5" cy="469.2" r="3.45"/><circle class="s" cx="468.4" cy="468.7" r="3.45"/><circle class="s" cx="469.4" cy="470.3" r="3.45"/><circle cx="470.0" cy="469.2" r="3.45"/><circle class="s" cx="471.0" cy="470.8" r="3.45"/><circle class="s" cx="472.0" cy="469.3" r="3.45"/><circle class="s" cx="472.9" cy="470.7" r="3.45"/><circle class="s" cx="473.9" cy="469.8" r="3.45"/><circle class="s" cx="474.9" cy="469.3" r="3.45"/><circle class="s" cx="475.9" cy="469.9" r="3.45"/><circle class="s" cx="476.9" cy="469.6" r="3.45"/><circle class="s" cx="477.8" cy="472.0" r="3.45"/><circle class="s" cx="478.8" cy="472.3" r="3.45"/><circle class="s" cx="479.8" cy="470.1" r="3.45"/><circle class="s" cx="480.8" cy="471.7" r="3.45"/><circle class="s" cx="481.8" cy="471.3" r="3.45"/><circle class="s" cx="482.7" cy="470.7" r="3.45"/><circle class="s" cx="483.7" cy="471.4" r="3.45"/><circle class="s" cx="484.7" cy="471.5" r="3.45"/><circle class="s" cx="485.7" cy="473.1" r="3.45"/><circle class="s" cx="486.7" cy="471.2" r="3.45"/><circle class="s" cx="487.7" cy="471.9" r="3.45"/><circle class="s" cx="488.6" cy="472.8" r="3.45"/><circle class="s" cx="489.6" cy="471.8" r="3.45"/><circle class="s" cx="490.6" cy="473.7" r="3.45"/><circle class="s" cx="491.6" cy="473.9" r="3.45"/><circle class="s" cx="492.6" cy="474.7" r="3.45"/><circle class="s" cx="493.5" cy="473.1" r="3.45"/><circle class="s" cx="494.5" cy="473.6" r="3.45"/><circle cx="495.0" cy="474.2" r="3.45"/><circle class="s" cx="496.0" cy="474.5" r="3.45"/><circle class="s" cx="497.0" cy="473.9" r="3.45"/><circle class="s" cx="498.0" cy="474.9" r="3.45"/><circle class="s" cx="499.0" cy="474.1" r="3.45"/><circle class="s" cx="500.0" cy="475.4" r="3.45"/><circle class="s" cx="500.9" cy="475.8" r="3.45"/><circle class="s" cx="501.9" cy="476.0" r="3.45"/><circle class="s" cx="502.9" cy="476.6" r="3.45"/><circle class="s" cx="503.9" cy="475.5" r="3.45"/><circle class="s" cx="504.9" cy="475.5" r="3.45"/><circle class="s" cx="505.9" cy="476.7" r="3.45"/><circle class="s" cx="506.9" cy="476.6" r="3.45"/><circle class="s" cx="507.9" cy="476.1" r="3.45"/><circle class="s" cx="508.9" cy="475.7" r="3.45"/><circle class="s" cx="509.9" cy="475.6" r="3.45"/><circle class="s" cx="510.9" cy="475.2" r="3.45"/><circle class="s" cx="511.9" cy="477.3" r="3.45"/><circle class="s" cx="512.8" cy="475.5" r="3.45"/><circle class="s" cx="513.8" cy="477.4" r="3.45"/><circle class="s" cx="514.8" cy="477.0" r="3.45"/><circle class="s" cx="515.8" cy="478.3" r="3.45"/><circle class="s" cx="516.8" cy="477.8" r="3.45"/><circle class="s" cx="517.8" cy="478.5" r="3.45"/><circle class="s" cx="518.8" cy="476.3" r="3.45"/><circle class="s" cx="519.8" cy="477.5" r="3.45"/><circle cx="520.0" cy="477.5" r="3.45"/><circle class="s" cx="521.0" cy="477.8" r="3.45"/><circle class="s" cx="522.0" cy="477.2" r="3.45"/><circle class="s" cx="523.0" cy="477.8" r="3.45"/><circle class="s" cx="524.0" cy="477.5" r="3.45"/><circle class="s" cx="525.0" cy="478.1" r="3.45"/><circle class="s" cx="526.0" cy="476.7" r="3.45"/><circle class="s" cx="527.0" cy="478.0" r="3.45"/><circle class="s" cx="528.0" cy="478.2" r="3.45"/><circle class="s" cx="529.0" cy="477.8" r="3.45"/><circle class="s" cx="530.0" cy="478.2" r="3.45"/><circle class="s" cx="530.9" cy="479.4" r="3.45"/><circle class="s" cx="531.9" cy="479.2" r="3.45"/><circle class="s" cx="532.9" cy="478.8" r="3.45"/><circle class="s" cx="533.9" cy="479.3" r="3.45"/><circle class="s" cx="534.9" cy="478.6" r="3.45"/><circle class="s" cx="535.9" cy="478.3" r="3.45"/><circle class="s" cx="536.9" cy="477.8" r="3.45"/><circle class="s" cx="537.9" cy="478.7" r="3.45"/><circle class="s" cx="538.9" cy="479.7" r="3.45"/><circle class="s" cx="539.9" cy="480.6" r="3.45"/><circle class="s" cx="540.9" cy="480.5" r="3.45"/><circle class="s" cx="541.9" cy="479.7" r="3.45"/><circle class="s" cx="542.9" cy="481.2" r="3.45"/><circle class="s" cx="543.9" cy="479.8" r="3.45"/><circle class="s" cx="544.9" cy="480.9" r="3.45"/><circle cx="545.0" cy="480.0" r="3.45"/><circle class="s" cx="545.9" cy="480.1" r="3.45"/><circle class="s" cx="546.9" cy="481.3" r="3.45"/><circle class="s" cx="547.8" cy="482.3" r="3.45"/><circle class="s" cx="548.8" cy="480.7" r="3.45"/><circle class="s" cx="549.7" cy="480.7" r="3.45"/><circle class="s" cx="550.7" cy="482.2" r="3.45"/><circle class="s" cx="551.6" cy="482.3" r="3.45"/><circle class="s" cx="552.6" cy="482.1" r="3.45"/><circle class="s" cx="553.5" cy="481.5" r="3.45"/><circle class="s" cx="554.5" cy="482.9" r="3.45"/><circle class="s" cx="555.4" cy="483.3" r="3.45"/><circle cx="556.2" cy="483.8" r="3.45"/><circle cx="556.2" cy="468.8" r="3.45"/><circle cx="557.0" cy="395.0" r="3.45"/><circle cx="557.5" cy="367.5" r="3.45"/><circle cx="557.5" cy="350.0" r="3.45"/><circle cx="557.0" cy="325.0" r="3.45"/><circle cx="556.8" cy="320.0" r="3.45"/><circle cx="556.8" cy="318.5" r="3.45"/><circle cx="557.1" cy="313.5" r="3.45"/><circle cx="557.5" cy="308.5" r="3.45"/><circle cx="557.5" cy="308.0" r="3.45"/><circle cx="557.9" cy="303.0" r="3.45"/><circle cx="558.2" cy="299.0" r="3.45"/><circle cx="559.5" cy="294.1" r="3.45"/><circle cx="559.8" cy="293.0" r="3.45"/><circle cx="561.2" cy="288.2" r="3.45"/><circle cx="562.0" cy="285.5" r="3.45"/><circle cx="563.2" cy="280.6" r="3.45"/><circle cx="563.5" cy="279.5" r="3.45"/><circle cx="563.5" cy="275.0" r="3.45"/><circle cx="563.0" cy="450.6" r="3.45"/><circle cx="566.0" cy="468.0" r="3.45"/><circle cx="570.0" cy="450.6" r="3.45"/><circle cx="568.0" cy="460.0" r="3.45"/><circle cx="567.8" cy="463.0" r="3.45"/><circle cx="567.5" cy="466.0" r="3.45"/><circle cx="567.5" cy="466.0" r="3.45"/><circle cx="567.3" cy="469.0" r="3.45"/><circle cx="567.0" cy="472.0" r="3.45"/><circle cx="567.0" cy="472.0" r="3.45"/><circle cx="567.9" cy="473.8" r="3.45"/><circle cx="568.8" cy="475.6" r="3.45"/><circle cx="569.7" cy="477.4" r="3.45"/><circle cx="570.0" cy="478.0" r="3.45"/><circle class="s" cx="570.7" cy="478.4" r="3.45"/><circle class="s" cx="571.4" cy="480.4" r="3.45"/><circle class="s" cx="572.1" cy="480.4" r="3.45"/><circle class="s" cx="572.8" cy="481.5" r="3.45"/><circle class="s" cx="573.5" cy="482.6" r="3.45"/><circle cx="574.0" cy="482.0" r="3.45"/><circle class="s" cx="574.9" cy="483.1" r="3.45"/><circle class="s" cx="575.9" cy="482.7" r="3.45"/><circle class="s" cx="576.8" cy="483.8" r="3.45"/><circle class="s" cx="577.7" cy="483.9" r="3.45"/><circle class="s" cx="578.6" cy="484.3" r="3.45"/><circle cx="579.0" cy="484.0" r="3.45"/><circle class="s" cx="579.8" cy="483.8" r="3.45"/><circle class="s" cx="580.7" cy="482.7" r="3.45"/><circle class="s" cx="581.5" cy="482.7" r="3.45"/><circle class="s" cx="582.4" cy="482.2" r="3.45"/><circle class="s" cx="583.2" cy="482.5" r="3.45"/><circle class="s" cx="584.1" cy="481.6" r="3.45"/><circle class="s" cx="584.9" cy="481.2" r="3.45"/><circle class="s" cx="585.7" cy="480.4" r="3.45"/><circle class="s" cx="586.6" cy="480.0" r="3.45"/><circle class="s" cx="587.4" cy="478.9" r="3.45"/><circle class="s" cx="588.3" cy="477.6" r="3.45"/><circle class="s" cx="589.1" cy="476.9" r="3.45"/><circle class="s" cx="589.9" cy="477.6" r="3.45"/><circle class="s" cx="590.8" cy="477.5" r="3.45"/><circle class="s" cx="591.6" cy="476.0" r="3.45"/><circle class="s" cx="592.5" cy="474.4" r="3.45"/><circle class="s" cx="593.3" cy="475.8" r="3.45"/><circle class="s" cx="594.2" cy="474.2" r="3.45"/><circle class="s" cx="595.0" cy="473.7" r="3.45"/><circle cx="595.0" cy="473.8" r="3.45"/><circle class="s" cx="595.8" cy="471.8" r="3.45"/><circle class="s" cx="596.5" cy="472.5" r="3.45"/><circle class="s" cx="597.3" cy="472.5" r="3.45"/><circle class="s" cx="598.1" cy="471.0" r="3.45"/><circle class="s" cx="598.9" cy="470.2" r="3.45"/><circle class="s" cx="599.6" cy="470.4" r="3.45"/><circle class="s" cx="600.4" cy="468.0" r="3.45"/><circle class="s" cx="601.2" cy="468.7" r="3.45"/><circle class="s" cx="601.9" cy="469.3" r="3.45"/><circle class="s" cx="602.7" cy="467.9" r="3.45"/><circle class="s" cx="603.5" cy="466.5" r="3.45"/><circle class="s" cx="604.3" cy="466.6" r="3.45"/><circle cx="605.0" cy="465.5" r="3.45"/><circle class="s" cx="605.9" cy="465.3" r="3.45"/><circle class="s" cx="606.7" cy="463.7" r="3.45"/><circle class="s" cx="607.6" cy="463.1" r="3.45"/><circle class="s" cx="608.4" cy="464.5" r="3.45"/><circle class="s" cx="609.3" cy="462.3" r="3.45"/><circle class="s" cx="610.1" cy="461.2" r="3.45"/><circle class="s" cx="611.0" cy="462.8" r="3.45"/><circle class="s" cx="611.9" cy="461.4" r="3.45"/><circle class="s" cx="612.7" cy="460.5" r="3.45"/><circle class="s" cx="613.6" cy="460.4" r="3.45"/><circle class="s" cx="614.4" cy="460.5" r="3.45"/><circle class="s" cx="615.3" cy="458.4" r="3.45"/><circle class="s" cx="616.1" cy="459.2" r="3.45"/><circle class="s" cx="617.0" cy="458.9" r="3.45"/><circle cx="617.5" cy="458.0" r="3.45"/><circle class="s" cx="618.3" cy="459.4" r="3.45"/><circle class="s" cx="619.2" cy="458.4" r="3.45"/><circle class="s" cx="620.0" cy="459.9" r="3.45"/><circle class="s" cx="620.9" cy="459.4" r="3.45"/><circle class="s" cx="621.7" cy="460.8" r="3.45"/><circle class="s" cx="622.6" cy="460.3" r="3.45"/><circle class="s" cx="623.4" cy="462.6" r="3.45"/><circle class="s" cx="624.3" cy="463.3" r="3.45"/><circle class="s" cx="625.1" cy="462.3" r="3.45"/><circle class="s" cx="625.9" cy="462.6" r="3.45"/><circle class="s" cx="626.8" cy="465.2" r="3.45"/><circle class="s" cx="627.6" cy="465.0" r="3.45"/><circle class="s" cx="628.5" cy="465.9" r="3.45"/><circle class="s" cx="629.3" cy="464.2" r="3.45"/><circle class="s" cx="630.2" cy="467.1" r="3.45"/><circle class="s" cx="631.0" cy="466.9" r="3.45"/><circle class="s" cx="631.9" cy="466.6" r="3.45"/><circle cx="632.5" cy="467.5" r="3.45"/><circle class="s" cx="633.5" cy="467.4" r="3.45"/><circle class="s" cx="634.5" cy="468.5" r="3.45"/><circle class="s" cx="635.5" cy="468.7" r="3.45"/><circle class="s" cx="636.5" cy="467.2" r="3.45"/><circle class="s" cx="637.5" cy="468.5" r="3.45"/><circle class="s" cx="638.4" cy="467.4" r="3.45"/><circle class="s" cx="639.4" cy="469.8" r="3.45"/><circle class="s" cx="640.4" cy="468.5" r="3.45"/><circle class="s" cx="641.4" cy="469.9" r="3.45"/><circle class="s" cx="642.4" cy="469.5" r="3.45"/><circle class="s" cx="643.4" cy="469.3" r="3.45"/><circle class="s" cx="644.4" cy="468.5" r="3.45"/><circle cx="645.0" cy="469.2" r="3.45"/><circle class="s" cx="646.0" cy="469.3" r="3.45"/><circle class="s" cx="647.0" cy="468.2" r="3.45"/><circle class="s" cx="648.0" cy="468.2" r="3.45"/><circle class="s" cx="649.0" cy="469.8" r="3.45"/><circle class="s" cx="650.0" cy="468.7" r="3.45"/><circle class="s" cx="651.0" cy="469.8" r="3.45"/><circle class="s" cx="652.0" cy="468.3" r="3.45"/><circle class="s" cx="653.0" cy="469.7" r="3.45"/><circle class="s" cx="654.0" cy="469.6" r="3.45"/><circle class="s" cx="655.0" cy="468.5" r="3.45"/><circle cx="655.0" cy="469.0" r="3.45"/><circle cx="659.4" cy="456.2" r="3.45"/><circle cx="662.0" cy="470.0" r="3.45"/><circle class="s" cx="663.0" cy="469.1" r="3.45"/><circle class="s" cx="663.9" cy="470.2" r="3.45"/><circle class="s" cx="664.9" cy="470.7" r="3.45"/><circle class="s" cx="665.9" cy="469.9" r="3.45"/><circle cx="666.0" cy="471.0" r="3.45"/><circle class="s" cx="666.9" cy="470.4" r="3.45"/><circle class="s" cx="667.9" cy="470.4" r="3.45"/><circle class="s" cx="668.8" cy="472.2" r="3.45"/><circle class="s" cx="669.8" cy="473.4" r="3.45"/><circle class="s" cx="670.7" cy="471.8" r="3.45"/><circle class="s" cx="671.7" cy="471.6" r="3.45"/><circle cx="672.0" cy="473.0" r="3.45"/><circle cx="675.0" cy="463.1" r="3.45"/><circle cx="678.0" cy="475.0" r="3.45"/><circle class="s" cx="679.0" cy="475.7" r="3.45"/><circle class="s" cx="680.0" cy="476.2" r="3.45"/><circle class="s" cx="681.0" cy="476.8" r="3.45"/><circle class="s" cx="681.9" cy="476.0" r="3.45"/><circle class="s" cx="682.9" cy="475.4" r="3.45"/><circle class="s" cx="683.9" cy="476.9" r="3.45"/><circle class="s" cx="684.9" cy="475.1" r="3.45"/><circle class="s" cx="685.9" cy="476.9" r="3.45"/><circle class="s" cx="686.9" cy="475.3" r="3.45"/><circle class="s" cx="687.9" cy="476.4" r="3.45"/><circle class="s" cx="688.9" cy="476.8" r="3.45"/><circle class="s" cx="689.8" cy="476.6" r="3.45"/><circle cx="690.0" cy="477.0" r="3.45"/><circle class="s" cx="691.0" cy="476.1" r="3.45"/><circle class="s" cx="692.0" cy="476.4" r="3.45"/><circle class="s" cx="693.0" cy="478.1" r="3.45"/><circle class="s" cx="694.0" cy="477.2" r="3.45"/><circle class="s" cx="695.0" cy="477.6" r="3.45"/><circle class="s" cx="696.0" cy="476.6" r="3.45"/><circle class="s" cx="697.0" cy="478.1" r="3.45"/><circle class="s" cx="698.0" cy="477.1" r="3.45"/><circle class="s" cx="699.0" cy="477.9" r="3.45"/><circle class="s" cx="700.0" cy="478.8" r="3.45"/><circle class="s" cx="701.0" cy="479.2" r="3.45"/><circle class="s" cx="702.0" cy="476.6" r="3.45"/><circle class="s" cx="703.0" cy="478.7" r="3.45"/><circle class="s" cx="704.0" cy="479.0" r="3.45"/><circle class="s" cx="705.0" cy="477.5" r="3.45"/><circle class="s" cx="706.0" cy="477.8" r="3.45"/><circle class="s" cx="707.0" cy="478.4" r="3.45"/><circle class="s" cx="708.0" cy="479.4" r="3.45"/><circle class="s" cx="709.0" cy="478.0" r="3.45"/><circle class="s" cx="710.0" cy="479.5" r="3.45"/><circle class="s" cx="710.9" cy="479.2" r="3.45"/><circle class="s" cx="711.9" cy="477.6" r="3.45"/><circle class="s" cx="712.9" cy="479.8" r="3.45"/><circle class="s" cx="713.9" cy="477.3" r="3.45"/><circle class="s" cx="714.9" cy="477.8" r="3.45"/><circle cx="715.0" cy="478.8" r="3.45"/><circle class="s" cx="715.9" cy="479.7" r="3.45"/><circle class="s" cx="716.7" cy="478.5" r="3.45"/><circle class="s" cx="717.6" cy="480.0" r="3.45"/><circle class="s" cx="718.4" cy="479.8" r="3.45"/><circle class="s" cx="719.3" cy="481.2" r="3.45"/><circle class="s" cx="720.1" cy="482.8" r="3.45"/><circle class="s" cx="721.0" cy="483.5" r="3.45"/><circle class="s" cx="721.8" cy="481.6" r="3.45"/><circle cx="722.0" cy="483.0" r="3.45"/><circle cx="722.0" cy="451.2" r="3.45"/><circle cx="722.0" cy="386.2" r="3.45"/><circle cx="722.0" cy="362.0" r="3.45"/><circle cx="722.0" cy="330.0" r="3.45"/><circle cx="721.9" cy="325.0" r="3.45"/><circle cx="721.8" cy="320.0" r="3.45"/><circle cx="721.8" cy="320.0" r="3.45"/><circle cx="722.0" cy="315.0" r="3.45"/><circle cx="722.2" cy="310.0" r="3.45"/><circle cx="722.5" cy="305.0" r="3.45"/><circle cx="722.5" cy="305.0" r="3.45"/><circle cx="723.1" cy="300.0" r="3.45"/><circle cx="723.7" cy="295.1" r="3.45"/><circle cx="724.0" cy="293.0" r="3.45"/><circle cx="725.2" cy="288.1" r="3.45"/><circle cx="725.5" cy="287.0" r="3.45"/><circle cx="726.7" cy="282.1" r="3.45"/><circle cx="727.0" cy="281.0" r="3.45"/><circle cx="727.6" cy="276.0" r="3.45"/><circle cx="727.8" cy="275.0" r="3.45"/><circle cx="728.2" cy="270.0" r="3.45"/><circle cx="728.5" cy="267.5" r="3.45"/><circle cx="729.5" cy="463.8" r="3.45"/><circle cx="729.5" cy="473.0" r="3.45"/><circle cx="732.0" cy="479.0" r="3.45"/><circle class="s" cx="732.9" cy="478.1" r="3.45"/><circle class="s" cx="733.9" cy="480.6" r="3.45"/><circle class="s" cx="734.8" cy="478.7" r="3.45"/><circle class="s" cx="735.8" cy="479.7" r="3.45"/><circle class="s" cx="736.7" cy="479.6" r="3.45"/><circle class="s" cx="737.7" cy="479.8" r="3.45"/><circle class="s" cx="738.6" cy="480.0" r="3.45"/><circle class="s" cx="739.6" cy="482.0" r="3.45"/><circle cx="740.0" cy="481.8" r="3.45"/><circle class="s" cx="741.0" cy="482.5" r="3.45"/><circle class="s" cx="742.0" cy="482.4" r="3.45"/><circle class="s" cx="743.0" cy="482.9" r="3.45"/><circle class="s" cx="744.0" cy="482.5" r="3.45"/><circle class="s" cx="745.0" cy="481.8" r="3.45"/><circle class="s" cx="746.0" cy="482.5" r="3.45"/><circle class="s" cx="747.0" cy="483.6" r="3.45"/><circle class="s" cx="748.0" cy="482.7" r="3.45"/><circle class="s" cx="749.0" cy="481.7" r="3.45"/><circle class="s" cx="750.0" cy="481.2" r="3.45"/><circle class="s" cx="751.0" cy="483.8" r="3.45"/><circle class="s" cx="752.0" cy="482.9" r="3.45"/><circle class="s" cx="753.0" cy="482.3" r="3.45"/><circle class="s" cx="754.0" cy="483.0" r="3.45"/><circle class="s" cx="755.0" cy="483.0" r="3.45"/><circle class="s" cx="756.0" cy="483.0" r="3.45"/><circle class="s" cx="757.0" cy="481.7" r="3.45"/><circle cx="757.5" cy="483.0" r="3.45"/><circle class="s" cx="758.3" cy="482.0" r="3.45"/><circle class="s" cx="759.1" cy="481.6" r="3.45"/><circle class="s" cx="759.9" cy="480.4" r="3.45"/><circle class="s" cx="760.7" cy="481.7" r="3.45"/><circle class="s" cx="761.5" cy="479.8" r="3.45"/><circle class="s" cx="762.3" cy="479.9" r="3.45"/><circle class="s" cx="763.1" cy="479.4" r="3.45"/><circle class="s" cx="763.9" cy="478.9" r="3.45"/><circle class="s" cx="764.7" cy="478.3" r="3.45"/><circle class="s" cx="765.5" cy="477.8" r="3.45"/><circle class="s" cx="766.3" cy="475.8" r="3.45"/><circle class="s" cx="767.1" cy="477.2" r="3.45"/><circle class="s" cx="767.9" cy="474.3" r="3.45"/><circle class="s" cx="768.8" cy="475.8" r="3.45"/><circle class="s" cx="769.6" cy="475.1" r="3.45"/><circle cx="770.0" cy="473.8" r="3.45"/><circle class="s" cx="770.8" cy="474.2" r="3.45"/><circle class="s" cx="771.7" cy="471.4" r="3.45"/><circle class="s" cx="772.5" cy="471.0" r="3.45"/><circle class="s" cx="773.3" cy="472.4" r="3.45"/><circle class="s" cx="774.2" cy="470.9" r="3.45"/><circle class="s" cx="775.0" cy="470.1" r="3.45"/><circle class="s" cx="775.8" cy="471.3" r="3.45"/><circle class="s" cx="776.7" cy="468.1" r="3.45"/><circle class="s" cx="777.5" cy="468.9" r="3.45"/><circle class="s" cx="778.3" cy="468.1" r="3.45"/><circle class="s" cx="779.2" cy="466.6" r="3.45"/><circle class="s" cx="780.0" cy="466.8" r="3.45"/><circle class="s" cx="780.8" cy="467.2" r="3.45"/><circle class="s" cx="781.7" cy="467.1" r="3.45"/><circle cx="782.5" cy="465.5" r="3.45"/><circle class="s" cx="783.4" cy="463.7" r="3.45"/><circle class="s" cx="784.2" cy="464.6" r="3.45"/><circle class="s" cx="785.1" cy="462.9" r="3.45"/><circle class="s" cx="786.0" cy="464.4" r="3.45"/><circle class="s" cx="786.8" cy="461.9" r="3.45"/><circle class="s" cx="787.7" cy="461.2" r="3.45"/><circle class="s" cx="788.6" cy="461.7" r="3.45"/><circle class="s" cx="789.5" cy="462.2" r="3.45"/><circle class="s" cx="790.3" cy="460.5" r="3.45"/><circle class="s" cx="791.2" cy="459.5" r="3.45"/><circle class="s" cx="792.1" cy="460.9" r="3.45"/><circle class="s" cx="792.9" cy="460.4" r="3.45"/><circle class="s" cx="793.8" cy="460.1" r="3.45"/><circle class="s" cx="794.7" cy="458.0" r="3.45"/><circle class="s" cx="795.5" cy="457.9" r="3.45"/><circle class="s" cx="796.4" cy="456.9" r="3.45"/><circle class="s" cx="797.3" cy="457.3" r="3.45"/><circle class="s" cx="798.1" cy="456.1" r="3.45"/><circle cx="798.8" cy="456.2" r="3.45"/><circle class="s" cx="799.6" cy="456.3" r="3.45"/><circle class="s" cx="800.5" cy="458.1" r="3.45"/><circle class="s" cx="801.3" cy="459.1" r="3.45"/><circle class="s" cx="802.2" cy="458.6" r="3.45"/><circle class="s" cx="803.0" cy="457.8" r="3.45"/><circle class="s" cx="803.9" cy="459.8" r="3.45"/><circle class="s" cx="804.7" cy="459.8" r="3.45"/><circle class="s" cx="805.6" cy="461.8" r="3.45"/><circle class="s" cx="806.4" cy="461.6" r="3.45"/><circle class="s" cx="807.3" cy="462.4" r="3.45"/><circle class="s" cx="808.1" cy="462.6" r="3.45"/><circle class="s" cx="809.0" cy="462.6" r="3.45"/><circle class="s" cx="809.8" cy="464.2" r="3.45"/><circle class="s" cx="810.7" cy="464.5" r="3.45"/><circle class="s" cx="811.5" cy="463.5" r="3.45"/><circle class="s" cx="812.4" cy="463.7" r="3.45"/><circle class="s" cx="813.2" cy="464.8" r="3.45"/><circle class="s" cx="814.1" cy="465.7" r="3.45"/><circle class="s" cx="814.9" cy="465.1" r="3.45"/><circle cx="815.0" cy="466.2" r="3.45"/><circle class="s" cx="816.0" cy="466.0" r="3.45"/><circle class="s" cx="817.0" cy="466.9" r="3.45"/><circle class="s" cx="817.9" cy="465.6" r="3.45"/><circle class="s" cx="818.9" cy="468.0" r="3.45"/><circle class="s" cx="819.9" cy="467.7" r="3.45"/><circle class="s" cx="820.9" cy="467.0" r="3.45"/><circle class="s" cx="821.8" cy="467.2" r="3.45"/><circle class="s" cx="822.8" cy="467.6" r="3.45"/><circle class="s" cx="823.8" cy="467.7" r="3.45"/><circle class="s" cx="824.8" cy="469.1" r="3.45"/><circle class="s" cx="825.7" cy="468.6" r="3.45"/><circle class="s" cx="826.7" cy="468.9" r="3.45"/><circle class="s" cx="827.7" cy="468.1" r="3.45"/><circle class="s" cx="828.7" cy="470.4" r="3.45"/><circle class="s" cx="829.6" cy="469.0" r="3.45"/><circle class="s" cx="830.6" cy="469.2" r="3.45"/><circle class="s" cx="831.6" cy="468.7" r="3.45"/><circle class="s" cx="832.6" cy="471.5" r="3.45"/><circle class="s" cx="833.6" cy="470.3" r="3.45"/><circle class="s" cx="834.5" cy="471.7" r="3.45"/><circle class="s" cx="835.5" cy="472.0" r="3.45"/><circle class="s" cx="836.5" cy="472.3" r="3.45"/><circle class="s" cx="837.5" cy="472.1" r="3.45"/><circle class="s" cx="838.4" cy="472.6" r="3.45"/><circle class="s" cx="839.4" cy="472.8" r="3.45"/><circle cx="840.0" cy="471.8" r="3.45"/><circle class="s" cx="841.0" cy="472.8" r="3.45"/><circle class="s" cx="842.0" cy="471.1" r="3.45"/><circle class="s" cx="843.0" cy="472.3" r="3.45"/><circle class="s" cx="843.9" cy="472.7" r="3.45"/><circle class="s" cx="844.9" cy="474.0" r="3.45"/><circle class="s" cx="845.9" cy="473.6" r="3.45"/><circle class="s" cx="846.9" cy="473.6" r="3.45"/><circle class="s" cx="847.9" cy="473.9" r="3.45"/><circle class="s" cx="848.9" cy="473.0" r="3.45"/><circle class="s" cx="849.8" cy="474.8" r="3.45"/><circle class="s" cx="850.8" cy="474.1" r="3.45"/><circle class="s" cx="851.8" cy="473.6" r="3.45"/><circle class="s" cx="852.8" cy="474.0" r="3.45"/><circle class="s" cx="853.8" cy="475.6" r="3.45"/><circle class="s" cx="854.8" cy="474.5" r="3.45"/><circle class="s" cx="855.7" cy="473.7" r="3.45"/><circle class="s" cx="856.7" cy="473.8" r="3.45"/><circle class="s" cx="857.7" cy="475.5" r="3.45"/><circle class="s" cx="858.7" cy="475.3" r="3.45"/><circle class="s" cx="859.7" cy="476.4" r="3.45"/><circle class="s" cx="860.7" cy="474.6" r="3.45"/><circle class="s" cx="861.7" cy="475.4" r="3.45"/><circle class="s" cx="862.6" cy="476.5" r="3.45"/><circle class="s" cx="863.6" cy="474.7" r="3.45"/><circle class="s" cx="864.6" cy="475.1" r="3.45"/><circle cx="865.0" cy="476.2" r="3.45"/><circle class="s" cx="866.0" cy="476.5" r="3.45"/><circle class="s" cx="867.0" cy="475.8" r="3.45"/><circle class="s" cx="868.0" cy="475.5" r="3.45"/><circle class="s" cx="869.0" cy="476.1" r="3.45"/><circle class="s" cx="870.0" cy="477.2" r="3.45"/><circle class="s" cx="871.0" cy="477.0" r="3.45"/><circle class="s" cx="872.0" cy="475.9" r="3.45"/><circle class="s" cx="872.9" cy="476.0" r="3.45"/><circle class="s" cx="873.9" cy="478.3" r="3.45"/><circle class="s" cx="874.9" cy="477.8" r="3.45"/><circle class="s" cx="875.9" cy="476.6" r="3.45"/><circle class="s" cx="876.9" cy="478.7" r="3.45"/><circle class="s" cx="877.9" cy="476.5" r="3.45"/><circle class="s" cx="878.9" cy="477.5" r="3.45"/><circle class="s" cx="879.9" cy="479.0" r="3.45"/><circle class="s" cx="880.9" cy="478.7" r="3.45"/><circle class="s" cx="881.9" cy="477.7" r="3.45"/><circle class="s" cx="882.9" cy="479.5" r="3.45"/><circle class="s" cx="883.9" cy="478.8" r="3.45"/><circle class="s" cx="884.9" cy="479.7" r="3.45"/><circle class="s" cx="885.9" cy="479.9" r="3.45"/><circle class="s" cx="886.8" cy="478.7" r="3.45"/><circle class="s" cx="887.8" cy="479.5" r="3.45"/><circle class="s" cx="888.8" cy="479.2" r="3.45"/><circle class="s" cx="889.8" cy="480.5" r="3.45"/><circle cx="890.0" cy="479.2" r="3.45"/><circle class="s" cx="891.0" cy="480.2" r="3.45"/><circle class="s" cx="892.0" cy="480.0" r="3.45"/><circle class="s" cx="893.0" cy="480.4" r="3.45"/><circle class="s" cx="894.0" cy="481.0" r="3.45"/><circle class="s" cx="895.0" cy="479.0" r="3.45"/><circle class="s" cx="896.0" cy="478.9" r="3.45"/><circle class="s" cx="897.0" cy="480.5" r="3.45"/><circle class="s" cx="898.0" cy="480.6" r="3.45"/><circle class="s" cx="899.0" cy="480.0" r="3.45"/><circle cx="899.5" cy="480.0" r="3.45"/><circle cx="899.5" cy="442.5" r="3.45"/><circle cx="900.0" cy="380.0" r="3.45"/><circle cx="900.0" cy="347.5" r="3.45"/><circle cx="899.8" cy="343.5" r="3.45"/><circle cx="899.6" cy="339.5" r="3.45"/><circle cx="899.4" cy="335.5" r="3.45"/><circle cx="899.3" cy="331.5" r="3.45"/><circle cx="899.1" cy="327.5" r="3.45"/><circle cx="899.0" cy="326.0" r="3.45"/><circle cx="898.8" cy="322.0" r="3.45"/><circle cx="898.7" cy="318.0" r="3.45"/><circle cx="898.5" cy="314.0" r="3.45"/><circle cx="898.5" cy="314.0" r="3.45"/><circle cx="898.3" cy="310.0" r="3.45"/><circle cx="898.2" cy="306.0" r="3.45"/><circle cx="898.0" cy="302.0" r="3.45"/><circle cx="898.0" cy="302.0" r="3.45"/><circle cx="898.2" cy="298.0" r="3.45"/><circle cx="898.3" cy="294.0" r="3.45"/><circle cx="898.5" cy="290.0" r="3.45"/><circle cx="898.5" cy="290.0" r="3.45"/><circle cx="898.7" cy="286.0" r="3.45"/><circle cx="898.8" cy="282.0" r="3.45"/><circle cx="899.0" cy="278.0" r="3.45"/><circle cx="899.0" cy="278.0" r="3.45"/><circle cx="899.3" cy="274.0" r="3.45"/><circle cx="899.7" cy="270.0" r="3.45"/><circle cx="900.0" cy="266.0" r="3.45"/><circle cx="900.0" cy="266.0" r="3.45"/><circle cx="900.2" cy="262.0" r="3.45"/><circle cx="900.3" cy="258.0" r="3.45"/><circle cx="900.5" cy="254.0" r="3.45"/><circle cx="900.5" cy="254.0" r="3.45"/><circle cx="900.8" cy="250.0" r="3.45"/><circle cx="901.1" cy="246.0" r="3.45"/><circle cx="901.4" cy="242.0" r="3.45"/><circle cx="901.6" cy="240.0" r="3.45"/><circle cx="904.5" cy="238.0" r="3.45"/><circle cx="905.0" cy="236.6" r="3.45"/><circle cx="905.6" cy="235.2" r="3.45"/><circle cx="906.1" cy="233.8" r="3.45"/><circle cx="906.6" cy="232.4" r="3.45"/><circle cx="907.1" cy="231.0" r="3.45"/><circle cx="907.7" cy="229.6" r="3.45"/><circle cx="908.2" cy="228.2" r="3.45"/><circle cx="908.7" cy="226.8" r="3.45"/><circle cx="909.0" cy="226.0" r="3.45"/><circle cx="909.4" cy="224.6" r="3.45"/><circle cx="909.9" cy="223.1" r="3.45"/><circle cx="910.3" cy="221.7" r="3.45"/><circle cx="910.8" cy="220.3" r="3.45"/><circle cx="911.2" cy="218.8" r="3.45"/><circle cx="911.6" cy="217.4" r="3.45"/><circle cx="912.1" cy="216.0" r="3.45"/><circle cx="912.5" cy="214.5" r="3.45"/><circle cx="912.9" cy="213.1" r="3.45"/><circle cx="913.4" cy="211.7" r="3.45"/><circle cx="913.8" cy="210.2" r="3.45"/><circle cx="914.3" cy="208.8" r="3.45"/><circle cx="914.5" cy="208.0" r="3.45"/><circle cx="914.9" cy="206.6" r="3.45"/><circle cx="915.4" cy="205.1" r="3.45"/><circle cx="915.8" cy="203.7" r="3.45"/><circle cx="916.3" cy="202.3" r="3.45"/><circle cx="916.7" cy="200.8" r="3.45"/><circle cx="917.2" cy="199.4" r="3.45"/><circle cx="917.6" cy="198.0" r="3.45"/><circle cx="918.1" cy="196.5" r="3.45"/><circle cx="918.5" cy="195.1" r="3.45"/><circle cx="919.0" cy="193.7" r="3.45"/><circle cx="919.4" cy="192.3" r="3.45"/><circle cx="919.5" cy="192.0" r="3.45"/><circle cx="919.9" cy="190.5" r="3.45"/><circle cx="920.2" cy="189.1" r="3.45"/><circle cx="920.6" cy="187.6" r="3.45"/><circle cx="921.0" cy="186.2" r="3.45"/><circle cx="921.3" cy="184.7" r="3.45"/><circle cx="921.7" cy="183.3" r="3.45"/><circle cx="922.0" cy="181.8" r="3.45"/><circle cx="922.4" cy="180.4" r="3.45"/><circle cx="922.8" cy="178.9" r="3.45"/><circle cx="923.1" cy="177.4" r="3.45"/><circle cx="923.5" cy="176.0" r="3.45"/><circle cx="923.9" cy="174.5" r="3.45"/><circle cx="924.2" cy="173.1" r="3.45"/><circle cx="924.6" cy="171.6" r="3.45"/><circle cx="925.0" cy="170.2" r="3.45"/><circle cx="925.3" cy="168.7" r="3.45"/><circle cx="925.7" cy="167.3" r="3.45"/><circle cx="926.0" cy="165.8" r="3.45"/><circle cx="926.4" cy="164.4" r="3.45"/><circle cx="926.8" cy="162.9" r="3.45"/><circle cx="927.0" cy="162.0" r="3.45"/><circle cx="927.8" cy="252.8" r="3.45"/><circle cx="928.0" cy="455.0" r="3.45"/><circle cx="928.0" cy="463.0" r="3.45"/><circle cx="928.0" cy="471.0" r="3.45"/><circle cx="930.0" cy="478.0" r="3.45"/><circle cx="931.6" cy="479.2" r="3.45"/><circle cx="933.2" cy="480.4" r="3.45"/><circle cx="934.0" cy="481.0" r="3.45"/><circle class="s" cx="935.0" cy="481.1" r="3.45"/><circle class="s" cx="936.0" cy="481.0" r="3.45"/><circle class="s" cx="937.0" cy="482.5" r="3.45"/><circle class="s" cx="938.0" cy="482.4" r="3.45"/><circle class="s" cx="939.0" cy="481.9" r="3.45"/><circle class="s" cx="939.9" cy="480.5" r="3.45"/><circle class="s" cx="940.9" cy="482.9" r="3.45"/><circle class="s" cx="941.9" cy="482.0" r="3.45"/><circle class="s" cx="942.9" cy="481.3" r="3.45"/><circle class="s" cx="943.9" cy="481.8" r="3.45"/><circle class="s" cx="944.9" cy="483.0" r="3.45"/><circle cx="945.0" cy="482.5" r="3.45"/><circle class="s" cx="945.9" cy="480.6" r="3.45"/><circle class="s" cx="946.7" cy="480.5" r="3.45"/><circle class="s" cx="947.6" cy="480.5" r="3.45"/><circle class="s" cx="948.5" cy="481.6" r="3.45"/><circle class="s" cx="949.4" cy="480.7" r="3.45"/><circle class="s" cx="950.2" cy="480.9" r="3.45"/><circle class="s" cx="951.1" cy="479.2" r="3.45"/><circle class="s" cx="952.0" cy="478.8" r="3.45"/><circle class="s" cx="952.8" cy="478.2" r="3.45"/><circle class="s" cx="953.7" cy="477.7" r="3.45"/><circle class="s" cx="954.6" cy="477.2" r="3.45"/><circle class="s" cx="955.5" cy="477.5" r="3.45"/><circle class="s" cx="956.3" cy="477.4" r="3.45"/><circle class="s" cx="957.2" cy="475.4" r="3.45"/><circle class="s" cx="958.1" cy="475.5" r="3.45"/><circle class="s" cx="958.9" cy="474.1" r="3.45"/><circle class="s" cx="959.8" cy="473.6" r="3.45"/><circle class="s" cx="960.7" cy="473.7" r="3.45"/><circle class="s" cx="961.6" cy="473.4" r="3.45"/><circle class="s" cx="962.4" cy="472.8" r="3.45"/><circle class="s" cx="963.3" cy="473.5" r="3.45"/><circle class="s" cx="964.2" cy="470.8" r="3.45"/><circle cx="965.0" cy="471.2" r="3.45"/><circle class="s" cx="965.6" cy="470.8" r="3.45"/><circle class="s" cx="966.2" cy="471.1" r="3.45"/><circle class="s" cx="966.9" cy="469.6" r="3.45"/><circle class="s" cx="967.5" cy="468.3" r="3.45"/><circle class="s" cx="968.1" cy="467.0" r="3.45"/><circle class="s" cx="968.7" cy="466.3" r="3.45"/><circle class="s" cx="969.3" cy="467.0" r="3.45"/><circle class="s" cx="970.0" cy="466.1" r="3.45"/><circle class="s" cx="970.6" cy="464.7" r="3.45"/><circle class="s" cx="971.2" cy="464.5" r="3.45"/><circle class="s" cx="971.8" cy="463.8" r="3.45"/><circle class="s" cx="972.4" cy="462.8" r="3.45"/><circle cx="972.5" cy="461.8" r="3.45"/><circle class="s" cx="973.4" cy="461.0" r="3.45"/><circle class="s" cx="974.3" cy="460.7" r="3.45"/><circle class="s" cx="975.2" cy="461.2" r="3.45"/><circle class="s" cx="976.1" cy="459.6" r="3.45"/><circle class="s" cx="976.9" cy="460.2" r="3.45"/><circle class="s" cx="977.8" cy="458.9" r="3.45"/><circle class="s" cx="978.7" cy="458.1" r="3.45"/><circle class="s" cx="979.6" cy="458.0" r="3.45"/><circle class="s" cx="980.5" cy="456.5" r="3.45"/><circle class="s" cx="981.4" cy="456.7" r="3.45"/><circle class="s" cx="982.3" cy="456.5" r="3.45"/><circle class="s" cx="983.2" cy="454.9" r="3.45"/><circle class="s" cx="984.0" cy="454.9" r="3.45"/><circle class="s" cx="984.9" cy="454.6" r="3.45"/><circle class="s" cx="985.8" cy="455.9" r="3.45"/><circle class="s" cx="986.7" cy="454.7" r="3.45"/><circle cx="987.0" cy="454.2" r="3.45"/><circle class="s" cx="987.8" cy="454.2" r="3.45"/><circle class="s" cx="988.6" cy="456.8" r="3.45"/><circle class="s" cx="989.4" cy="455.3" r="3.45"/><circle class="s" cx="990.2" cy="456.6" r="3.45"/><circle class="s" cx="991.0" cy="457.9" r="3.45"/><circle class="s" cx="991.8" cy="458.3" r="3.45"/><circle class="s" cx="992.7" cy="458.2" r="3.45"/><circle class="s" cx="993.5" cy="459.7" r="3.45"/><circle class="s" cx="994.3" cy="459.5" r="3.45"/><circle class="s" cx="995.1" cy="460.8" r="3.45"/><circle class="s" cx="995.9" cy="460.7" r="3.45"/><circle class="s" cx="996.7" cy="462.7" r="3.45"/><circle class="s" cx="997.5" cy="462.5" r="3.45"/><circle class="s" cx="998.3" cy="461.4" r="3.45"/><circle class="s" cx="999.1" cy="462.1" r="3.45"/><circle class="s" cx="999.9" cy="465.0" r="3.45"/><circle cx="1000.0" cy="463.8" r="3.45"/><circle class="s" cx="1000.9" cy="463.3" r="3.45"/><circle class="s" cx="1001.9" cy="463.1" r="3.45"/><circle class="s" cx="1002.8" cy="464.0" r="3.45"/><circle class="s" cx="1003.8" cy="465.0" r="3.45"/><circle class="s" cx="1004.7" cy="466.6" r="3.45"/><circle class="s" cx="1005.7" cy="465.4" r="3.45"/><circle class="s" cx="1006.6" cy="466.6" r="3.45"/><circle class="s" cx="1007.6" cy="467.2" r="3.45"/><circle class="s" cx="1008.5" cy="465.4" r="3.45"/><circle class="s" cx="1009.5" cy="467.2" r="3.45"/><circle class="s" cx="1010.4" cy="468.6" r="3.45"/><circle class="s" cx="1011.4" cy="467.7" r="3.45"/><circle class="s" cx="1012.3" cy="468.0" r="3.45"/><circle class="s" cx="1013.3" cy="467.7" r="3.45"/><circle class="s" cx="1014.2" cy="469.7" r="3.45"/><circle cx="1015.0" cy="468.8" r="3.45"/><circle class="s" cx="1016.0" cy="470.3" r="3.45"/><circle class="s" cx="1017.0" cy="468.1" r="3.45"/><circle class="s" cx="1017.9" cy="469.5" r="3.45"/><circle class="s" cx="1018.9" cy="469.4" r="3.45"/><circle class="s" cx="1019.9" cy="470.3" r="3.45"/><circle class="s" cx="1020.9" cy="468.9" r="3.45"/><circle class="s" cx="1021.8" cy="469.5" r="3.45"/><circle class="s" cx="1022.8" cy="469.8" r="3.45"/><circle class="s" cx="1023.8" cy="470.6" r="3.45"/><circle class="s" cx="1024.8" cy="471.6" r="3.45"/><circle class="s" cx="1025.8" cy="472.0" r="3.45"/><circle class="s" cx="1026.7" cy="472.0" r="3.45"/><circle class="s" cx="1027.7" cy="471.9" r="3.45"/><circle class="s" cx="1028.7" cy="470.5" r="3.45"/><circle class="s" cx="1029.7" cy="471.6" r="3.45"/><circle class="s" cx="1030.7" cy="472.5" r="3.45"/><circle class="s" cx="1031.6" cy="471.7" r="3.45"/><circle class="s" cx="1032.6" cy="472.5" r="3.45"/><circle class="s" cx="1033.6" cy="473.8" r="3.45"/><circle class="s" cx="1034.6" cy="471.8" r="3.45"/><circle cx="1035.0" cy="473.0" r="3.45"/><circle class="s" cx="1036.0" cy="474.2" r="3.45"/><circle class="s" cx="1037.0" cy="472.3" r="3.45"/><circle class="s" cx="1038.0" cy="473.2" r="3.45"/><circle class="s" cx="1038.9" cy="474.8" r="3.45"/><circle class="s" cx="1039.9" cy="473.0" r="3.45"/><circle class="s" cx="1040.9" cy="474.1" r="3.45"/><circle class="s" cx="1041.9" cy="474.0" r="3.45"/><circle class="s" cx="1042.9" cy="475.5" r="3.45"/><circle class="s" cx="1043.9" cy="476.0" r="3.45"/><circle class="s" cx="1044.8" cy="474.2" r="3.45"/><circle class="s" cx="1045.8" cy="474.9" r="3.45"/><circle class="s" cx="1046.8" cy="476.2" r="3.45"/><circle class="s" cx="1047.8" cy="475.4" r="3.45"/><circle class="s" cx="1048.8" cy="474.7" r="3.45"/><circle class="s" cx="1049.8" cy="476.4" r="3.45"/><circle class="s" cx="1050.7" cy="475.4" r="3.45"/><circle class="s" cx="1051.7" cy="476.0" r="3.45"/><circle class="s" cx="1052.7" cy="474.8" r="3.45"/><circle class="s" cx="1053.7" cy="477.7" r="3.45"/><circle class="s" cx="1054.7" cy="477.0" r="3.45"/><circle class="s" cx="1055.7" cy="477.9" r="3.45"/><circle class="s" cx="1056.7" cy="478.2" r="3.45"/><circle class="s" cx="1057.6" cy="476.4" r="3.45"/><circle class="s" cx="1058.6" cy="477.4" r="3.45"/><circle class="s" cx="1059.6" cy="477.3" r="3.45"/><circle cx="1060.0" cy="477.5" r="3.45"/><circle class="s" cx="1061.0" cy="478.4" r="3.45"/><circle class="s" cx="1062.0" cy="478.8" r="3.45"/><circle class="s" cx="1063.0" cy="477.2" r="3.45"/><circle class="s" cx="1064.0" cy="477.5" r="3.45"/><circle class="s" cx="1064.9" cy="478.8" r="3.45"/><circle class="s" cx="1065.9" cy="478.1" r="3.45"/><circle class="s" cx="1066.9" cy="477.5" r="3.45"/><circle class="s" cx="1067.9" cy="477.8" r="3.45"/><circle class="s" cx="1068.9" cy="479.0" r="3.45"/><circle class="s" cx="1069.9" cy="479.3" r="3.45"/><circle class="s" cx="1070.9" cy="480.4" r="3.45"/><circle class="s" cx="1071.9" cy="479.4" r="3.45"/><circle class="s" cx="1072.9" cy="479.7" r="3.45"/><circle class="s" cx="1073.8" cy="478.6" r="3.45"/><circle class="s" cx="1074.8" cy="479.5" r="3.45"/><circle class="s" cx="1075.8" cy="479.3" r="3.45"/><circle class="s" cx="1076.8" cy="480.6" r="3.45"/><circle class="s" cx="1077.8" cy="479.5" r="3.45"/><circle class="s" cx="1078.8" cy="479.5" r="3.45"/><circle class="s" cx="1079.8" cy="480.1" r="3.45"/><circle class="s" cx="1080.8" cy="480.5" r="3.45"/><circle class="s" cx="1081.8" cy="480.3" r="3.45"/><circle class="s" cx="1082.7" cy="481.2" r="3.45"/><circle class="s" cx="1083.7" cy="480.2" r="3.45"/><circle class="s" cx="1084.7" cy="482.3" r="3.45"/><circle cx="1085.0" cy="481.2" r="3.45"/><circle class="s" cx="1086.0" cy="481.9" r="3.45"/><circle class="s" cx="1087.0" cy="481.5" r="3.45"/><circle class="s" cx="1088.0" cy="480.2" r="3.45"/><circle class="s" cx="1089.0" cy="481.0" r="3.45"/><circle class="s" cx="1090.0" cy="482.1" r="3.45"/><circle class="s" cx="1091.0" cy="482.1" r="3.45"/><circle class="s" cx="1092.0" cy="482.6" r="3.45"/><circle class="s" cx="1093.0" cy="482.9" r="3.45"/><circle class="s" cx="1094.0" cy="481.4" r="3.45"/><circle class="s" cx="1095.0" cy="481.9" r="3.45"/><circle class="s" cx="1096.0" cy="481.6" r="3.45"/><circle class="s" cx="1097.0" cy="481.1" r="3.45"/><circle class="s" cx="1098.0" cy="481.2" r="3.45"/><circle class="s" cx="1099.0" cy="481.6" r="3.45"/><circle class="s" cx="1100.0" cy="481.2" r="3.45"/><circle class="s" cx="1101.0" cy="482.5" r="3.45"/><circle class="s" cx="1102.0" cy="483.0" r="3.45"/><circle cx="1102.5" cy="482.5" r="3.45"/><circle class="s" cx="1103.2" cy="482.0" r="3.45"/><circle class="s" cx="1104.0" cy="481.7" r="3.45"/><circle class="s" cx="1104.7" cy="479.7" r="3.45"/><circle class="s" cx="1105.5" cy="479.0" r="3.45"/><circle class="s" cx="1106.2" cy="479.3" r="3.45"/><circle class="s" cx="1107.0" cy="479.6" r="3.45"/><circle class="s" cx="1107.7" cy="477.6" r="3.45"/><circle class="s" cx="1108.4" cy="475.8" r="3.45"/><circle class="s" cx="1109.2" cy="475.1" r="3.45"/><circle class="s" cx="1109.9" cy="475.3" r="3.45"/><circle class="s" cx="1110.7" cy="475.5" r="3.45"/><circle class="s" cx="1111.4" cy="473.3" r="3.45"/><circle class="s" cx="1112.2" cy="473.0" r="3.45"/><circle class="s" cx="1112.9" cy="473.6" r="3.45"/><circle class="s" cx="1113.6" cy="473.8" r="3.45"/><circle class="s" cx="1114.4" cy="471.4" r="3.45"/><circle cx="1115.0" cy="471.2" r="3.45"/><circle class="s" cx="1115.8" cy="470.9" r="3.45"/><circle class="s" cx="1116.5" cy="470.0" r="3.45"/><circle class="s" cx="1117.3" cy="467.9" r="3.45"/><circle class="s" cx="1118.0" cy="468.1" r="3.45"/><circle class="s" cx="1118.8" cy="466.9" r="3.45"/><circle class="s" cx="1119.5" cy="466.6" r="3.45"/><circle class="s" cx="1120.3" cy="467.4" r="3.45"/><circle class="s" cx="1121.0" cy="466.5" r="3.45"/><circle class="s" cx="1121.8" cy="464.0" r="3.45"/><circle class="s" cx="1122.5" cy="463.5" r="3.45"/><circle class="s" cx="1123.3" cy="464.6" r="3.45"/><circle class="s" cx="1124.0" cy="462.2" r="3.45"/><circle class="s" cx="1124.8" cy="462.2" r="3.45"/><circle cx="1125.0" cy="462.5" r="3.45"/><circle class="s" cx="1125.9" cy="461.4" r="3.45"/><circle class="s" cx="1126.7" cy="460.3" r="3.45"/><circle class="s" cx="1127.6" cy="459.7" r="3.45"/><circle class="s" cx="1128.5" cy="459.5" r="3.45"/><circle class="s" cx="1129.3" cy="459.7" r="3.45"/><circle class="s" cx="1130.2" cy="460.8" r="3.45"/><circle class="s" cx="1131.1" cy="459.4" r="3.45"/><circle class="s" cx="1132.0" cy="457.8" r="3.45"/><circle class="s" cx="1132.8" cy="458.6" r="3.45"/><circle class="s" cx="1133.7" cy="456.9" r="3.45"/><circle class="s" cx="1134.6" cy="457.1" r="3.45"/><circle class="s" cx="1135.4" cy="456.1" r="3.45"/><circle cx="1136.0" cy="456.2" r="3.45"/><circle class="s" cx="1136.9" cy="458.0" r="3.45"/><circle class="s" cx="1137.7" cy="456.8" r="3.45"/><circle class="s" cx="1138.6" cy="458.6" r="3.45"/><circle class="s" cx="1139.5" cy="458.6" r="3.45"/><circle class="s" cx="1140.3" cy="459.7" r="3.45"/><circle class="s" cx="1141.2" cy="459.5" r="3.45"/><circle class="s" cx="1142.1" cy="460.8" r="3.45"/><circle class="s" cx="1142.9" cy="460.0" r="3.45"/><circle class="s" cx="1143.8" cy="461.2" r="3.45"/><circle class="s" cx="1144.7" cy="461.5" r="3.45"/><circle class="s" cx="1145.6" cy="461.8" r="3.45"/><circle class="s" cx="1146.4" cy="462.4" r="3.45"/><circle class="s" cx="1147.3" cy="462.8" r="3.45"/><circle class="s" cx="1148.2" cy="462.9" r="3.45"/><circle class="s" cx="1149.0" cy="464.8" r="3.45"/><circle class="s" cx="1149.9" cy="464.6" r="3.45"/><circle cx="1150.0" cy="464.2" r="3.45"/><circle class="s" cx="1151.0" cy="464.7" r="3.45"/><circle class="s" cx="1151.9" cy="463.5" r="3.45"/><circle class="s" cx="1152.9" cy="465.1" r="3.45"/><circle class="s" cx="1153.9" cy="464.4" r="3.45"/><circle class="s" cx="1154.8" cy="464.8" r="3.45"/><circle class="s" cx="1155.8" cy="465.7" r="3.45"/><circle class="s" cx="1156.7" cy="466.3" r="3.45"/><circle class="s" cx="1157.7" cy="465.7" r="3.45"/><circle class="s" cx="1158.7" cy="466.0" r="3.45"/><circle class="s" cx="1159.6" cy="467.0" r="3.45"/><circle class="s" cx="1160.6" cy="467.1" r="3.45"/><circle class="s" cx="1161.6" cy="467.2" r="3.45"/><circle class="s" cx="1162.5" cy="466.6" r="3.45"/><circle class="s" cx="1163.5" cy="467.6" r="3.45"/><circle class="s" cx="1164.5" cy="468.7" r="3.45"/><circle class="s" cx="1165.4" cy="468.7" r="3.45"/><circle class="s" cx="1166.4" cy="468.9" r="3.45"/><circle class="s" cx="1167.3" cy="470.0" r="3.45"/><circle class="s" cx="1168.3" cy="470.0" r="3.45"/><circle class="s" cx="1169.3" cy="470.1" r="3.45"/><circle class="s" cx="1170.2" cy="468.6" r="3.45"/><circle class="s" cx="1171.2" cy="469.6" r="3.45"/><circle class="s" cx="1172.2" cy="470.9" r="3.45"/><circle cx="1172.5" cy="470.5" r="3.45"/><circle class="s" cx="1173.5" cy="469.7" r="3.45"/><circle class="s" cx="1174.5" cy="472.0" r="3.45"/><circle class="s" cx="1175.4" cy="470.1" r="3.45"/><circle class="s" cx="1176.4" cy="472.3" r="3.45"/><circle class="s" cx="1177.4" cy="470.7" r="3.45"/><circle class="s" cx="1178.4" cy="472.6" r="3.45"/><circle class="s" cx="1179.4" cy="472.8" r="3.45"/><circle class="s" cx="1180.3" cy="471.6" r="3.45"/><circle class="s" cx="1181.3" cy="473.4" r="3.45"/><circle class="s" cx="1182.3" cy="471.5" r="3.45"/><circle class="s" cx="1183.3" cy="473.6" r="3.45"/><circle class="s" cx="1184.3" cy="472.5" r="3.45"/><circle class="s" cx="1185.2" cy="472.9" r="3.45"/><circle class="s" cx="1186.2" cy="472.2" r="3.45"/><circle class="s" cx="1187.2" cy="473.7" r="3.45"/><circle class="s" cx="1188.2" cy="473.0" r="3.45"/><circle class="s" cx="1189.2" cy="474.3" r="3.45"/><circle class="s" cx="1190.2" cy="474.9" r="3.45"/><circle class="s" cx="1191.1" cy="474.5" r="3.45"/><circle class="s" cx="1192.1" cy="473.0" r="3.45"/><circle class="s" cx="1193.1" cy="475.9" r="3.45"/><circle class="s" cx="1194.1" cy="476.0" r="3.45"/><circle class="s" cx="1195.1" cy="475.4" r="3.45"/><circle class="s" cx="1196.0" cy="474.9" r="3.45"/><circle class="s" cx="1197.0" cy="475.6" r="3.45"/><circle cx="1197.5" cy="475.5" r="3.45"/><circle class="s" cx="1198.5" cy="476.7" r="3.45"/><circle class="s" cx="1199.5" cy="475.7" r="3.45"/><circle class="s" cx="1200.5" cy="476.7" r="3.45"/><circle class="s" cx="1201.5" cy="476.4" r="3.45"/><circle class="s" cx="1202.4" cy="476.0" r="3.45"/><circle class="s" cx="1203.4" cy="477.6" r="3.45"/><circle class="s" cx="1204.4" cy="476.3" r="3.45"/><circle class="s" cx="1205.4" cy="477.0" r="3.45"/><circle class="s" cx="1206.4" cy="475.6" r="3.45"/><circle class="s" cx="1207.4" cy="476.9" r="3.45"/><circle class="s" cx="1208.4" cy="475.8" r="3.45"/><circle class="s" cx="1209.4" cy="477.9" r="3.45"/><circle class="s" cx="1210.4" cy="476.0" r="3.45"/><circle class="s" cx="1211.3" cy="476.3" r="3.45"/><circle class="s" cx="1212.3" cy="476.6" r="3.45"/><circle class="s" cx="1213.3" cy="476.9" r="3.45"/><circle class="s" cx="1214.3" cy="478.0" r="3.45"/><circle class="s" cx="1215.3" cy="477.8" r="3.45"/><circle class="s" cx="1216.3" cy="477.7" r="3.45"/><circle class="s" cx="1217.3" cy="479.8" r="3.45"/><circle class="s" cx="1218.3" cy="479.8" r="3.45"/><circle class="s" cx="1219.3" cy="479.2" r="3.45"/><circle class="s" cx="1220.2" cy="479.8" r="3.45"/><circle class="s" cx="1221.2" cy="480.0" r="3.45"/><circle class="s" cx="1222.2" cy="478.5" r="3.45"/><circle cx="1222.5" cy="479.2" r="3.45"/><circle class="s" cx="1223.5" cy="480.3" r="3.45"/><circle class="s" cx="1224.5" cy="478.8" r="3.45"/><circle class="s" cx="1225.5" cy="479.8" r="3.45"/><circle class="s" cx="1226.5" cy="479.4" r="3.45"/><circle class="s" cx="1227.4" cy="479.0" r="3.45"/><circle class="s" cx="1228.4" cy="480.9" r="3.45"/><circle class="s" cx="1229.4" cy="481.4" r="3.45"/><circle class="s" cx="1230.4" cy="479.9" r="3.45"/><circle class="s" cx="1231.4" cy="481.6" r="3.45"/><circle class="s" cx="1232.4" cy="480.2" r="3.45"/><circle class="s" cx="1233.4" cy="481.2" r="3.45"/><circle class="s" cx="1234.4" cy="482.3" r="3.45"/><circle class="s" cx="1235.4" cy="481.9" r="3.45"/><circle class="s" cx="1236.4" cy="480.0" r="3.45"/><circle class="s" cx="1237.3" cy="481.2" r="3.45"/><circle class="s" cx="1238.3" cy="481.2" r="3.45"/><circle class="s" cx="1239.3" cy="481.1" r="3.45"/><circle class="s" cx="1240.3" cy="482.7" r="3.45"/><circle class="s" cx="1241.3" cy="481.8" r="3.45"/><circle class="s" cx="1242.3" cy="482.6" r="3.45"/><circle class="s" cx="1243.3" cy="482.6" r="3.45"/><circle class="s" cx="1244.3" cy="482.4" r="3.45"/><circle class="s" cx="1245.3" cy="481.3" r="3.45"/><circle class="s" cx="1246.3" cy="483.1" r="3.45"/><circle class="s" cx="1247.2" cy="483.9" r="3.45"/><circle class="s" cx="1248.2" cy="482.0" r="3.45"/><circle cx="1248.8" cy="483.0" r="3.45"/></g>
<g fill="#ffffff" stroke="#ff00ff" stroke-width="2.4" style="--c:#ff00ff"><circle cx="31.2" cy="638.0" r="3.45"/><circle class="s" cx="32.2" cy="637.3" r="3.45"/><circle class="s" cx="33.2" cy="639.2" r="3.45"/><circle class="s" cx="34.2" cy="639.2" r="3.45"/><circle class="s" cx="35.2" cy="638.2" r="3.45"/><circle class="s" cx="36.2" cy="639.0" r="3.45"/><circle class="s" cx="37.1" cy="639.1" r="3.45"/><circle class="s" cx="38.1" cy="639.7" r="3.45"/><circle class="s" cx="39.1" cy="640.3" r="3.45"/><circle cx="40.0" cy="639.8" r="3.45"/><circle class="s" cx="40.9" cy="639.1" r="3.45"/><circle class="s" cx="41.9" cy="639.3" r="3.45"/><circle class="s" cx="42.8" cy="641.6" r="3.45"/><circle class="s" cx="43.7" cy="641.0" r="3.45"/><circle class="s" cx="44.7" cy="642.1" r="3.45"/><circle class="s" cx="45.6" cy="640.7" r="3.45"/><circle class="s" cx="46.6" cy="642.1" r="3.45"/><circle class="s" cx="47.5" cy="643.1" r="3.45"/><circle class="s" cx="48.4" cy="642.3" r="3.45"/><circle class="s" cx="49.4" cy="644.3" r="3.45"/><circle cx="50.0" cy="643.5" r="3.45"/><circle class="s" cx="51.0" cy="644.4" r="3.45"/><circle class="s" cx="52.0" cy="642.3" r="3.45"/><circle class="s" cx="53.0" cy="642.2" r="3.45"/><circle class="s" cx="54.0" cy="643.4" r="3.45"/><circle class="s" cx="55.0" cy="644.3" r="3.45"/><circle class="s" cx="56.0" cy="642.9" r="3.45"/><circle class="s" cx="57.0" cy="642.5" r="3.45"/><circle class="s" cx="58.0" cy="642.9" r="3.45"/><circle class="s" cx="59.0" cy="641.9" r="3.45"/><circle class="s" cx="60.0" cy="642.3" r="3.45"/><circle cx="60.0" cy="643.0" r="3.45"/><circle class="s" cx="61.0" cy="642.8" r="3.45"/><circle class="s" cx="62.0" cy="642.9" r="3.45"/><circle class="s" cx="63.0" cy="642.3" r="3.45"/><circle class="s" cx="64.0" cy="642.3" r="3.45"/><circle class="s" cx="65.0" cy="642.2" r="3.45"/><circle class="s" cx="66.0" cy="642.8" r="3.45"/><circle class="s" cx="67.0" cy="642.3" r="3.45"/><circle class="s" cx="68.0" cy="641.7" r="3.45"/><circle class="s" cx="69.0" cy="643.6" r="3.45"/><circle class="s" cx="70.0" cy="642.9" r="3.45"/><circle cx="70.0" cy="642.8" r="3.45"/><circle class="s" cx="71.0" cy="643.2" r="3.45"/><circle class="s" cx="72.0" cy="642.1" r="3.45"/><circle class="s" cx="73.0" cy="644.2" r="3.45"/><circle class="s" cx="74.0" cy="643.9" r="3.45"/><circle class="s" cx="75.0" cy="642.2" r="3.45"/><circle class="s" cx="76.0" cy="642.8" r="3.45"/><circle class="s" cx="77.0" cy="643.8" r="3.45"/><circle class="s" cx="78.0" cy="643.9" r="3.45"/><circle class="s" cx="79.0" cy="644.5" r="3.45"/><circle class="s" cx="80.0" cy="643.3" r="3.45"/><circle cx="80.0" cy="643.5" r="3.45"/><circle class="s" cx="81.0" cy="644.4" r="3.45"/><circle class="s" cx="82.0" cy="644.0" r="3.45"/><circle class="s" cx="83.0" cy="643.2" r="3.45"/><circle class="s" cx="84.0" cy="644.0" r="3.45"/><circle class="s" cx="85.0" cy="644.8" r="3.45"/><circle class="s" cx="86.0" cy="644.7" r="3.45"/><circle class="s" cx="87.0" cy="644.0" r="3.45"/><circle cx="87.5" cy="644.0" r="3.45"/><circle class="s" cx="88.5" cy="644.0" r="3.45"/><circle class="s" cx="89.4" cy="642.4" r="3.45"/><circle class="s" cx="90.4" cy="642.7" r="3.45"/><circle class="s" cx="91.4" cy="643.8" r="3.45"/><circle class="s" cx="92.4" cy="642.7" r="3.45"/><circle class="s" cx="93.3" cy="641.9" r="3.45"/><circle class="s" cx="94.3" cy="642.5" r="3.45"/><circle cx="95.0" cy="642.2" r="3.45"/><circle class="s" cx="95.9" cy="643.2" r="3.45"/><circle class="s" cx="96.8" cy="643.6" r="3.45"/><circle class="s" cx="97.7" cy="643.3" r="3.45"/><circle class="s" cx="98.6" cy="643.9" r="3.45"/><circle class="s" cx="99.5" cy="644.5" r="3.45"/><circle cx="100.0" cy="644.8" r="3.45"/><circle class="s" cx="100.7" cy="646.1" r="3.45"/><circle class="s" cx="101.4" cy="646.2" r="3.45"/><circle class="s" cx="102.1" cy="646.6" r="3.45"/><circle class="s" cx="102.8" cy="647.6" r="3.45"/><circle class="s" cx="103.5" cy="647.2" r="3.45"/><circle class="s" cx="104.2" cy="647.9" r="3.45"/><circle class="s" cx="104.9" cy="650.2" r="3.45"/><circle cx="105.0" cy="649.8" r="3.45"/><circle class="s" cx="105.9" cy="651.4" r="3.45"/><circle class="s" cx="106.8" cy="650.9" r="3.45"/><circle class="s" cx="107.7" cy="650.8" r="3.45"/><circle class="s" cx="108.6" cy="650.7" r="3.45"/><circle class="s" cx="109.5" cy="652.0" r="3.45"/><circle class="s" cx="110.4" cy="653.6" r="3.45"/><circle class="s" cx="111.3" cy="653.5" r="3.45"/><circle class="s" cx="112.2" cy="653.4" r="3.45"/><circle cx="112.5" cy="653.5" r="3.45"/><circle class="s" cx="113.4" cy="654.7" r="3.45"/><circle class="s" cx="114.4" cy="653.6" r="3.45"/><circle class="s" cx="115.3" cy="654.6" r="3.45"/><circle class="s" cx="116.2" cy="656.1" r="3.45"/><circle class="s" cx="117.1" cy="655.5" r="3.45"/><circle class="s" cx="118.1" cy="655.6" r="3.45"/><circle class="s" cx="119.0" cy="655.5" r="3.45"/><circle class="s" cx="119.9" cy="656.6" r="3.45"/><circle cx="120.0" cy="656.5" r="3.45"/><circle class="s" cx="120.9" cy="657.1" r="3.45"/><circle class="s" cx="121.7" cy="654.3" r="3.45"/><circle class="s" cx="122.6" cy="655.7" r="3.45"/><circle class="s" cx="123.5" cy="655.3" r="3.45"/><circle class="s" cx="124.4" cy="655.0" r="3.45"/><circle class="s" cx="125.2" cy="654.1" r="3.45"/><circle class="s" cx="126.1" cy="653.8" r="3.45"/><circle class="s" cx="127.0" cy="652.6" r="3.45"/><circle cx="127.5" cy="652.2" r="3.45"/><circle class="s" cx="128.4" cy="652.8" r="3.45"/><circle class="s" cx="129.3" cy="653.0" r="3.45"/><circle class="s" cx="130.2" cy="652.5" r="3.45"/><circle class="s" cx="131.1" cy="654.9" r="3.45"/><circle class="s" cx="132.0" cy="654.7" r="3.45"/><circle class="s" cx="132.9" cy="654.2" r="3.45"/><circle class="s" cx="133.8" cy="655.4" r="3.45"/><circle class="s" cx="134.7" cy="655.8" r="3.45"/><circle cx="135.0" cy="656.0" r="3.45"/><circle class="s" cx="135.9" cy="656.2" r="3.45"/><circle class="s" cx="136.7" cy="656.7" r="3.45"/><circle class="s" cx="137.6" cy="657.6" r="3.45"/><circle class="s" cx="138.4" cy="658.4" r="3.45"/><circle class="s" cx="139.3" cy="658.8" r="3.45"/><circle class="s" cx="140.1" cy="659.0" r="3.45"/><circle class="s" cx="141.0" cy="658.5" r="3.45"/><circle class="s" cx="141.9" cy="659.5" r="3.45"/><circle cx="142.5" cy="660.5" r="3.45"/><circle class="s" cx="143.4" cy="659.2" r="3.45"/><circle class="s" cx="144.2" cy="659.7" r="3.45"/><circle class="s" cx="145.1" cy="659.8" r="3.45"/><circle class="s" cx="145.9" cy="659.2" r="3.45"/><circle class="s" cx="146.8" cy="658.6" r="3.45"/><circle class="s" cx="147.6" cy="658.2" r="3.45"/><circle class="s" cx="148.5" cy="656.3" r="3.45"/><circle class="s" cx="149.4" cy="657.2" r="3.45"/><circle cx="150.0" cy="656.0" r="3.45"/><circle class="s" cx="150.9" cy="656.0" r="3.45"/><circle class="s" cx="151.8" cy="654.2" r="3.45"/><circle class="s" cx="152.7" cy="653.6" r="3.45"/><circle class="s" cx="153.6" cy="653.1" r="3.45"/><circle class="s" cx="154.5" cy="654.5" r="3.45"/><circle class="s" cx="155.4" cy="652.9" r="3.45"/><circle class="s" cx="156.3" cy="652.1" r="3.45"/><circle class="s" cx="157.2" cy="652.9" r="3.45"/><circle cx="157.5" cy="652.5" r="3.45"/><circle class="s" cx="158.4" cy="651.8" r="3.45"/><circle class="s" cx="159.4" cy="650.7" r="3.45"/><circle cx="160.0" cy="651.5" r="3.45"/><circle class="s" cx="161.0" cy="650.5" r="3.45"/><circle class="s" cx="162.0" cy="651.2" r="3.45"/><circle class="s" cx="162.9" cy="650.1" r="3.45"/><circle class="s" cx="163.9" cy="650.2" r="3.45"/><circle class="s" cx="164.9" cy="651.0" r="3.45"/><circle cx="165.0" cy="650.5" r="3.45"/><circle class="s" cx="166.0" cy="650.3" r="3.45"/><circle class="s" cx="167.0" cy="649.9" r="3.45"/><circle class="s" cx="168.0" cy="650.1" r="3.45"/><circle class="s" cx="169.0" cy="649.0" r="3.45"/><circle class="s" cx="170.0" cy="649.7" r="3.45"/><circle class="s" cx="171.0" cy="649.7" r="3.45"/><circle class="s" cx="172.0" cy="649.1" r="3.45"/><circle class="s" cx="173.0" cy="648.8" r="3.45"/><circle class="s" cx="174.0" cy="650.6" r="3.45"/><circle class="s" cx="175.0" cy="649.5" r="3.45"/><circle cx="175.0" cy="649.5" r="3.45"/><circle class="s" cx="176.0" cy="648.5" r="3.45"/><circle class="s" cx="176.9" cy="649.2" r="3.45"/><circle class="s" cx="177.9" cy="649.4" r="3.45"/><circle class="s" cx="178.8" cy="647.2" r="3.45"/><circle class="s" cx="179.8" cy="646.9" r="3.45"/><circle class="s" cx="180.7" cy="646.9" r="3.45"/><circle class="s" cx="181.7" cy="648.0" r="3.45"/><circle class="s" cx="182.7" cy="646.4" r="3.45"/><circle class="s" cx="183.6" cy="647.4" r="3.45"/><circle class="s" cx="184.6" cy="647.1" r="3.45"/><circle cx="185.0" cy="646.5" r="3.45"/><circle class="s" cx="186.0" cy="646.4" r="3.45"/><circle class="s" cx="187.0" cy="645.4" r="3.45"/><circle class="s" cx="187.9" cy="647.1" r="3.45"/><circle class="s" cx="188.9" cy="646.4" r="3.45"/><circle class="s" cx="189.9" cy="645.6" r="3.45"/><circle cx="190.0" cy="645.5" r="3.45"/><circle class="s" cx="191.0" cy="644.6" r="3.45"/><circle class="s" cx="192.0" cy="645.5" r="3.45"/><circle class="s" cx="192.9" cy="644.7" r="3.45"/><circle class="s" cx="193.9" cy="644.9" r="3.45"/><circle class="s" cx="194.9" cy="644.1" r="3.45"/><circle cx="195.0" cy="644.5" r="3.45"/><circle class="s" cx="196.0" cy="644.7" r="3.45"/><circle class="s" cx="197.0" cy="643.2" r="3.45"/><circle class="s" cx="198.0" cy="643.6" r="3.45"/><circle class="s" cx="199.0" cy="645.1" r="3.45"/><circle class="s" cx="200.0" cy="644.8" r="3.45"/><circle class="s" cx="200.9" cy="643.3" r="3.45"/><circle class="s" cx="201.9" cy="644.5" r="3.45"/><circle class="s" cx="202.9" cy="643.0" r="3.45"/><circle class="s" cx="203.9" cy="644.4" r="3.45"/><circle class="s" cx="204.9" cy="643.8" r="3.45"/><circle cx="205.0" cy="643.2" r="3.45"/><circle class="s" cx="206.0" cy="642.9" r="3.45"/><circle class="s" cx="207.0" cy="642.5" r="3.45"/><circle class="s" cx="208.0" cy="641.8" r="3.45"/><circle class="s" cx="209.0" cy="643.8" r="3.45"/><circle class="s" cx="210.0" cy="641.7" r="3.45"/><circle class="s" cx="211.0" cy="643.5" r="3.45"/><circle class="s" cx="212.0" cy="643.8" r="3.45"/><circle class="s" cx="213.0" cy="642.8" r="3.45"/><circle class="s" cx="214.0" cy="641.8" r="3.45"/><circle class="s" cx="215.0" cy="643.4" r="3.45"/><circle cx="215.0" cy="642.5" r="3.45"/><circle class="s" cx="216.0" cy="643.7" r="3.45"/><circle class="s" cx="217.0" cy="643.1" r="3.45"/><circle class="s" cx="218.0" cy="642.7" r="3.45"/><circle class="s" cx="219.0" cy="642.4" r="3.45"/><circle class="s" cx="220.0" cy="642.4" r="3.45"/><circle cx="220.0" cy="642.8" r="3.45"/><circle class="s" cx="221.0" cy="642.0" r="3.45"/><circle class="s" cx="222.0" cy="643.1" r="3.45"/><circle class="s" cx="223.0" cy="642.4" r="3.45"/><circle class="s" cx="224.0" cy="641.8" r="3.45"/><circle class="s" cx="225.0" cy="641.6" r="3.45"/><circle cx="225.0" cy="642.5" r="3.45"/><circle class="s" cx="226.0" cy="642.9" r="3.45"/><circle class="s" cx="227.0" cy="642.0" r="3.45"/><circle class="s" cx="228.0" cy="642.4" r="3.45"/><circle class="s" cx="229.0" cy="642.0" r="3.45"/><circle class="s" cx="230.0" cy="643.3" r="3.45"/><circle class="s" cx="231.0" cy="643.3" r="3.45"/><circle class="s" cx="232.0" cy="641.2" r="3.45"/><circle class="s" cx="233.0" cy="641.6" r="3.45"/><circle class="s" cx="234.0" cy="641.9" r="3.45"/><circle class="s" cx="235.0" cy="643.4" r="3.45"/><circle cx="235.0" cy="642.2" r="3.45"/><circle class="s" cx="236.0" cy="642.9" r="3.45"/><circle class="s" cx="237.0" cy="641.8" r="3.45"/><circle class="s" cx="238.0" cy="641.4" r="3.45"/><circle class="s" cx="239.0" cy="642.5" r="3.45"/><circle class="s" cx="240.0" cy="642.8" r="3.45"/><circle class="s" cx="241.0" cy="643.0" r="3.45"/><circle class="s" cx="242.0" cy="641.5" r="3.45"/><circle class="s" cx="243.0" cy="642.8" r="3.45"/><circle class="s" cx="244.0" cy="642.2" r="3.45"/><circle class="s" cx="245.0" cy="641.7" r="3.45"/><circle cx="245.0" cy="641.8" r="3.45"/><circle class="s" cx="246.0" cy="642.9" r="3.45"/><circle class="s" cx="247.0" cy="641.1" r="3.45"/><circle class="s" cx="248.0" cy="642.3" r="3.45"/><circle class="s" cx="249.0" cy="640.8" r="3.45"/><circle class="s" cx="250.0" cy="641.0" r="3.45"/><circle class="s" cx="251.0" cy="642.7" r="3.45"/><circle class="s" cx="252.0" cy="641.1" r="3.45"/><circle class="s" cx="253.0" cy="642.4" r="3.45"/><circle class="s" cx="254.0" cy="642.0" r="3.45"/><circle cx="255.0" cy="641.8" r="3.45"/><circle class="s" cx="256.0" cy="642.6" r="3.45"/><circle class="s" cx="257.0" cy="641.4" r="3.45"/><circle class="s" cx="258.0" cy="641.4" r="3.45"/><circle class="s" cx="259.0" cy="641.2" r="3.45"/><circle class="s" cx="260.0" cy="642.6" r="3.45"/><circle class="s" cx="261.0" cy="642.0" r="3.45"/><circle class="s" cx="262.0" cy="642.8" r="3.45"/><circle class="s" cx="263.0" cy="642.7" r="3.45"/><circle class="s" cx="264.0" cy="640.9" r="3.45"/><circle cx="265.0" cy="641.8" r="3.45"/><circle class="s" cx="266.0" cy="641.9" r="3.45"/><circle class="s" cx="267.0" cy="640.8" r="3.45"/><circle class="s" cx="268.0" cy="640.6" r="3.45"/><circle class="s" cx="269.0" cy="640.7" r="3.45"/><circle class="s" cx="270.0" cy="642.6" r="3.45"/><circle class="s" cx="271.0" cy="642.4" r="3.45"/><circle class="s" cx="272.0" cy="642.5" r="3.45"/><circle class="s" cx="273.0" cy="641.4" r="3.45"/><circle class="s" cx="274.0" cy="642.0" r="3.45"/><circle cx="275.0" cy="641.8" r="3.45"/><circle class="s" cx="276.0" cy="642.3" r="3.45"/><circle class="s" cx="277.0" cy="641.2" r="3.45"/><circle class="s" cx="278.0" cy="641.5" r="3.45"/><circle class="s" cx="279.0" cy="640.6" r="3.45"/><circle class="s" cx="280.0" cy="640.1" r="3.45"/><circle class="s" cx="281.0" cy="640.4" r="3.45"/><circle class="s" cx="281.9" cy="641.8" r="3.45"/><circle class="s" cx="282.9" cy="640.9" r="3.45"/><circle class="s" cx="283.9" cy="641.7" r="3.45"/><circle class="s" cx="284.9" cy="640.4" r="3.45"/><circle cx="285.0" cy="640.5" r="3.45"/><circle class="s" cx="286.0" cy="640.0" r="3.45"/><circle class="s" cx="287.0" cy="641.3" r="3.45"/><circle class="s" cx="288.0" cy="641.4" r="3.45"/><circle class="s" cx="289.0" cy="639.5" r="3.45"/><circle class="s" cx="290.0" cy="641.2" r="3.45"/><circle class="s" cx="291.0" cy="639.8" r="3.45"/><circle class="s" cx="292.0" cy="639.9" r="3.45"/><circle class="s" cx="293.0" cy="641.8" r="3.45"/><circle class="s" cx="294.0" cy="639.8" r="3.45"/><circle class="s" cx="295.0" cy="640.4" r="3.45"/><circle cx="295.0" cy="641.0" r="3.45"/><circle class="s" cx="296.0" cy="642.2" r="3.45"/><circle class="s" cx="297.0" cy="640.8" r="3.45"/><circle class="s" cx="298.0" cy="640.1" r="3.45"/><circle class="s" cx="299.0" cy="640.2" r="3.45"/><circle class="s" cx="300.0" cy="640.4" r="3.45"/><circle class="s" cx="301.0" cy="641.6" r="3.45"/><circle class="s" cx="302.0" cy="640.0" r="3.45"/><circle class="s" cx="303.0" cy="642.0" r="3.45"/><circle class="s" cx="304.0" cy="640.7" r="3.45"/><circle cx="305.0" cy="641.0" r="3.45"/><circle class="s" cx="306.0" cy="642.1" r="3.45"/><circle class="s" cx="307.0" cy="642.0" r="3.45"/><circle class="s" cx="308.0" cy="640.5" r="3.45"/><circle class="s" cx="309.0" cy="640.4" r="3.45"/><circle class="s" cx="310.0" cy="640.9" r="3.45"/><circle class="s" cx="311.0" cy="640.0" r="3.45"/><circle class="s" cx="312.0" cy="641.4" r="3.45"/><circle class="s" cx="313.0" cy="639.9" r="3.45"/><circle class="s" cx="314.0" cy="639.8" r="3.45"/><circle class="s" cx="315.0" cy="642.2" r="3.45"/><circle class="s" cx="316.0" cy="640.5" r="3.45"/><circle class="s" cx="317.0" cy="641.2" r="3.45"/><circle class="s" cx="318.0" cy="640.9" r="3.45"/><circle class="s" cx="319.0" cy="640.6" r="3.45"/><circle cx="320.0" cy="641.0" r="3.45"/><circle class="s" cx="321.0" cy="640.0" r="3.45"/><circle class="s" cx="322.0" cy="642.0" r="3.45"/><circle class="s" cx="323.0" cy="642.1" r="3.45"/><circle class="s" cx="324.0" cy="642.1" r="3.45"/><circle class="s" cx="325.0" cy="640.1" r="3.45"/><circle class="s" cx="326.0" cy="640.3" r="3.45"/><circle class="s" cx="327.0" cy="641.3" r="3.45"/><circle class="s" cx="328.0" cy="642.2" r="3.45"/><circle class="s" cx="329.0" cy="641.1" r="3.45"/><circle class="s" cx="330.0" cy="641.5" r="3.45"/><circle class="s" cx="331.0" cy="641.4" r="3.45"/><circle class="s" cx="332.0" cy="640.4" r="3.45"/><circle class="s" cx="333.0" cy="641.1" r="3.45"/><circle class="s" cx="334.0" cy="640.5" r="3.45"/><circle class="s" cx="335.0" cy="640.4" r="3.45"/><circle class="s" cx="336.0" cy="640.0" r="3.45"/><circle class="s" cx="337.0" cy="640.5" r="3.45"/><circle class="s" cx="338.0" cy="642.2" r="3.45"/><circle class="s" cx="339.0" cy="640.9" r="3.45"/><circle class="s" cx="340.0" cy="641.4" r="3.45"/><circle class="s" cx="341.0" cy="641.3" r="3.45"/><circle class="s" cx="342.0" cy="642.1" r="3.45"/><circle class="s" cx="343.0" cy="640.7" r="3.45"/><circle class="s" cx="344.0" cy="640.5" r="3.45"/><circle cx="345.0" cy="641.0" r="3.45"/><circle class="s" cx="346.0" cy="640.6" r="3.45"/><circle class="s" cx="347.0" cy="640.6" r="3.45"/><circle class="s" cx="348.0" cy="641.8" r="3.45"/><circle class="s" cx="349.0" cy="641.9" r="3.45"/><circle class="s" cx="350.0" cy="640.5" r="3.45"/><circle class="s" cx="351.0" cy="640.6" r="3.45"/><circle class="s" cx="352.0" cy="641.1" r="3.45"/><circle class="s" cx="353.0" cy="641.2" r="3.45"/><circle class="s" cx="354.0" cy="641.2" r="3.45"/><circle class="s" cx="355.0" cy="640.4" r="3.45"/><circle class="s" cx="356.0" cy="639.8" r="3.45"/><circle class="s" cx="357.0" cy="640.4" r="3.45"/><circle class="s" cx="358.0" cy="640.0" r="3.45"/><circle class="s" cx="359.0" cy="641.1" r="3.45"/><circle cx="360.0" cy="641.0" r="3.45"/><circle class="s" cx="361.0" cy="639.8" r="3.45"/><circle class="s" cx="362.0" cy="639.7" r="3.45"/><circle class="s" cx="363.0" cy="641.0" r="3.45"/><circle class="s" cx="364.0" cy="640.0" r="3.45"/><circle class="s" cx="365.0" cy="641.1" r="3.45"/><circle class="s" cx="366.0" cy="640.2" r="3.45"/><circle class="s" cx="366.9" cy="641.0" r="3.45"/><circle class="s" cx="367.9" cy="639.2" r="3.45"/><circle class="s" cx="368.9" cy="639.9" r="3.45"/><circle class="s" cx="369.9" cy="640.5" r="3.45"/><circle class="s" cx="370.9" cy="638.6" r="3.45"/><circle class="s" cx="371.9" cy="640.6" r="3.45"/><circle class="s" cx="372.9" cy="638.6" r="3.45"/><circle class="s" cx="373.9" cy="639.9" r="3.45"/><circle class="s" cx="374.9" cy="640.3" r="3.45"/><circle class="s" cx="375.9" cy="639.8" r="3.45"/><circle class="s" cx="376.9" cy="638.5" r="3.45"/><circle class="s" cx="377.9" cy="637.8" r="3.45"/><circle class="s" cx="378.9" cy="638.7" r="3.45"/><circle class="s" cx="379.8" cy="639.5" r="3.45"/><circle cx="380.0" cy="638.5" r="3.45"/><circle class="s" cx="381.0" cy="638.0" r="3.45"/><circle class="s" cx="382.0" cy="639.5" r="3.45"/><circle class="s" cx="383.0" cy="637.7" r="3.45"/><circle class="s" cx="384.0" cy="639.6" r="3.45"/><circle class="s" cx="385.0" cy="637.5" r="3.45"/><circle class="s" cx="386.0" cy="638.3" r="3.45"/><circle class="s" cx="387.0" cy="639.7" r="3.45"/><circle class="s" cx="388.0" cy="639.5" r="3.45"/><circle class="s" cx="389.0" cy="639.8" r="3.45"/><circle class="s" cx="390.0" cy="639.7" r="3.45"/><circle class="s" cx="391.0" cy="639.5" r="3.45"/><circle class="s" cx="392.0" cy="639.4" r="3.45"/><circle class="s" cx="393.0" cy="638.2" r="3.45"/><circle class="s" cx="394.0" cy="638.8" r="3.45"/><circle class="s" cx="395.0" cy="638.2" r="3.45"/><circle cx="395.0" cy="639.0" r="3.45"/><circle class="s" cx="396.0" cy="639.8" r="3.45"/><circle class="s" cx="396.9" cy="640.0" r="3.45"/><circle class="s" cx="397.9" cy="639.3" r="3.45"/><circle class="s" cx="398.8" cy="639.2" r="3.45"/><circle class="s" cx="399.8" cy="641.7" r="3.45"/><circle class="s" cx="400.7" cy="641.6" r="3.45"/><circle class="s" cx="401.7" cy="641.3" r="3.45"/><circle class="s" cx="402.6" cy="641.6" r="3.45"/><circle class="s" cx="403.6" cy="642.6" r="3.45"/><circle class="s" cx="404.5" cy="642.0" r="3.45"/><circle cx="405.0" cy="642.2" r="3.45"/><circle class="s" cx="406.0" cy="642.0" r="3.45"/><circle class="s" cx="407.0" cy="641.9" r="3.45"/><circle class="s" cx="408.0" cy="641.8" r="3.45"/><circle class="s" cx="409.0" cy="641.2" r="3.45"/><circle class="s" cx="410.0" cy="642.8" r="3.45"/><circle class="s" cx="411.0" cy="642.2" r="3.45"/><circle class="s" cx="412.0" cy="642.6" r="3.45"/><circle class="s" cx="413.0" cy="641.4" r="3.45"/><circle class="s" cx="414.0" cy="642.2" r="3.45"/><circle class="s" cx="415.0" cy="641.7" r="3.45"/><circle class="s" cx="416.0" cy="641.7" r="3.45"/><circle class="s" cx="417.0" cy="642.0" r="3.45"/><circle class="s" cx="418.0" cy="643.4" r="3.45"/><circle class="s" cx="419.0" cy="642.4" r="3.45"/><circle class="s" cx="420.0" cy="642.5" r="3.45"/><circle class="s" cx="421.0" cy="643.0" r="3.45"/><circle class="s" cx="422.0" cy="642.1" r="3.45"/><circle class="s" cx="423.0" cy="641.6" r="3.45"/><circle class="s" cx="424.0" cy="642.9" r="3.45"/><circle class="s" cx="425.0" cy="642.9" r="3.45"/><circle class="s" cx="426.0" cy="643.2" r="3.45"/><circle class="s" cx="427.0" cy="642.8" r="3.45"/><circle class="s" cx="428.0" cy="643.4" r="3.45"/><circle class="s" cx="429.0" cy="643.5" r="3.45"/><circle class="s" cx="430.0" cy="642.4" r="3.45"/><circle cx="430.0" cy="643.0" r="3.45"/><circle class="s" cx="431.0" cy="643.0" r="3.45"/><circle class="s" cx="432.0" cy="642.9" r="3.45"/><circle class="s" cx="433.0" cy="642.3" r="3.45"/><circle class="s" cx="434.0" cy="642.7" r="3.45"/><circle class="s" cx="435.0" cy="643.0" r="3.45"/><circle class="s" cx="436.0" cy="643.8" r="3.45"/><circle class="s" cx="437.0" cy="643.8" r="3.45"/><circle class="s" cx="438.0" cy="642.2" r="3.45"/><circle class="s" cx="439.0" cy="643.1" r="3.45"/><circle class="s" cx="440.0" cy="641.6" r="3.45"/><circle class="s" cx="441.0" cy="641.6" r="3.45"/><circle class="s" cx="442.0" cy="642.7" r="3.45"/><circle class="s" cx="443.0" cy="643.5" r="3.45"/><circle class="s" cx="444.0" cy="641.8" r="3.45"/><circle class="s" cx="445.0" cy="643.2" r="3.45"/><circle class="s" cx="446.0" cy="643.4" r="3.45"/><circle class="s" cx="447.0" cy="642.0" r="3.45"/><circle class="s" cx="448.0" cy="642.9" r="3.45"/><circle class="s" cx="449.0" cy="643.3" r="3.45"/><circle class="s" cx="450.0" cy="642.1" r="3.45"/><circle class="s" cx="451.0" cy="642.9" r="3.45"/><circle class="s" cx="452.0" cy="642.9" r="3.45"/><circle class="s" cx="453.0" cy="642.5" r="3.45"/><circle class="s" cx="454.0" cy="643.1" r="3.45"/><circle class="s" cx="455.0" cy="643.2" r="3.45"/><circle cx="455.0" cy="642.2" r="3.45"/><circle class="s" cx="456.0" cy="643.5" r="3.45"/><circle class="s" cx="457.0" cy="642.6" r="3.45"/><circle class="s" cx="458.0" cy="641.8" r="3.45"/><circle class="s" cx="459.0" cy="642.0" r="3.45"/><circle class="s" cx="460.0" cy="642.1" r="3.45"/><circle class="s" cx="461.0" cy="643.0" r="3.45"/><circle class="s" cx="462.0" cy="643.6" r="3.45"/><circle class="s" cx="463.0" cy="642.0" r="3.45"/><circle class="s" cx="464.0" cy="643.6" r="3.45"/><circle class="s" cx="465.0" cy="643.8" r="3.45"/><circle class="s" cx="465.9" cy="643.0" r="3.45"/><circle class="s" cx="466.9" cy="643.5" r="3.45"/><circle cx="467.5" cy="643.5" r="3.45"/><circle class="s" cx="468.5" cy="642.5" r="3.45"/><circle class="s" cx="469.5" cy="643.7" r="3.45"/><circle class="s" cx="470.5" cy="641.9" r="3.45"/><circle class="s" cx="471.4" cy="644.0" r="3.45"/><circle class="s" cx="472.4" cy="643.4" r="3.45"/><circle class="s" cx="473.4" cy="642.9" r="3.45"/><circle class="s" cx="474.4" cy="641.8" r="3.45"/><circle class="s" cx="475.4" cy="643.2" r="3.45"/><circle class="s" cx="476.4" cy="643.2" r="3.45"/><circle class="s" cx="477.4" cy="641.1" r="3.45"/><circle class="s" cx="478.4" cy="642.4" r="3.45"/><circle class="s" cx="479.3" cy="642.4" r="3.45"/><circle cx="480.0" cy="641.5" r="3.45"/><circle class="s" cx="481.0" cy="641.7" r="3.45"/><circle class="s" cx="482.0" cy="641.7" r="3.45"/><circle class="s" cx="483.0" cy="641.0" r="3.45"/><circle class="s" cx="484.0" cy="642.0" r="3.45"/><circle class="s" cx="485.0" cy="641.9" r="3.45"/><circle class="s" cx="485.9" cy="640.4" r="3.45"/><circle class="s" cx="486.9" cy="641.3" r="3.45"/><circle class="s" cx="487.9" cy="640.2" r="3.45"/><circle class="s" cx="488.9" cy="639.4" r="3.45"/><circle class="s" cx="489.9" cy="639.7" r="3.45"/><circle class="s" cx="490.9" cy="639.1" r="3.45"/><circle class="s" cx="491.9" cy="640.8" r="3.45"/><circle cx="492.5" cy="639.8" r="3.45"/><circle class="s" cx="493.5" cy="640.9" r="3.45"/><circle class="s" cx="494.5" cy="638.8" r="3.45"/><circle class="s" cx="495.5" cy="640.0" r="3.45"/><circle class="s" cx="496.5" cy="639.5" r="3.45"/><circle class="s" cx="497.5" cy="638.8" r="3.45"/><circle class="s" cx="498.5" cy="639.3" r="3.45"/><circle class="s" cx="499.5" cy="639.1" r="3.45"/><circle class="s" cx="500.5" cy="640.3" r="3.45"/><circle class="s" cx="501.5" cy="638.6" r="3.45"/><circle class="s" cx="502.5" cy="639.0" r="3.45"/><circle class="s" cx="503.5" cy="639.6" r="3.45"/><circle class="s" cx="504.5" cy="638.6" r="3.45"/><circle cx="505.0" cy="639.8" r="3.45"/><circle class="s" cx="506.0" cy="640.0" r="3.45"/><circle class="s" cx="507.0" cy="639.9" r="3.45"/><circle class="s" cx="508.0" cy="640.4" r="3.45"/><circle class="s" cx="509.0" cy="638.9" r="3.45"/><circle class="s" cx="510.0" cy="639.0" r="3.45"/><circle class="s" cx="511.0" cy="639.6" r="3.45"/><circle class="s" cx="512.0" cy="638.9" r="3.45"/><circle class="s" cx="513.0" cy="639.6" r="3.45"/><circle class="s" cx="514.0" cy="638.8" r="3.45"/><circle class="s" cx="515.0" cy="639.8" r="3.45"/><circle class="s" cx="516.0" cy="640.0" r="3.45"/><circle class="s" cx="517.0" cy="640.0" r="3.45"/><circle class="s" cx="518.0" cy="640.3" r="3.45"/><circle class="s" cx="519.0" cy="639.3" r="3.45"/><circle class="s" cx="520.0" cy="639.1" r="3.45"/><circle cx="520.0" cy="639.1" r="3.45"/><circle class="s" cx="521.0" cy="639.7" r="3.45"/><circle class="s" cx="522.0" cy="639.3" r="3.45"/><circle class="s" cx="522.9" cy="638.7" r="3.45"/><circle class="s" cx="523.9" cy="638.0" r="3.45"/><circle class="s" cx="524.9" cy="637.6" r="3.45"/><circle class="s" cx="525.9" cy="636.9" r="3.45"/><circle class="s" cx="526.9" cy="638.4" r="3.45"/><circle class="s" cx="527.8" cy="636.5" r="3.45"/><circle class="s" cx="528.8" cy="637.8" r="3.45"/><circle class="s" cx="529.8" cy="637.2" r="3.45"/><circle cx="530.0" cy="637.0" r="3.45"/><circle class="s" cx="531.0" cy="637.9" r="3.45"/><circle class="s" cx="531.9" cy="637.1" r="3.45"/><circle class="s" cx="532.9" cy="637.4" r="3.45"/><circle class="s" cx="533.9" cy="635.2" r="3.45"/><circle class="s" cx="534.9" cy="635.8" r="3.45"/><circle class="s" cx="535.8" cy="635.7" r="3.45"/><circle class="s" cx="536.8" cy="634.8" r="3.45"/><circle class="s" cx="537.8" cy="635.1" r="3.45"/><circle class="s" cx="538.7" cy="634.5" r="3.45"/><circle class="s" cx="539.7" cy="634.6" r="3.45"/><circle cx="540.0" cy="634.5" r="3.45"/><circle class="s" cx="541.0" cy="633.0" r="3.45"/><circle class="s" cx="541.9" cy="633.8" r="3.45"/><circle class="s" cx="542.9" cy="633.5" r="3.45"/><circle class="s" cx="543.8" cy="632.9" r="3.45"/><circle class="s" cx="544.8" cy="632.8" r="3.45"/><circle class="s" cx="545.7" cy="633.5" r="3.45"/><circle class="s" cx="546.7" cy="632.9" r="3.45"/><circle class="s" cx="547.7" cy="632.2" r="3.45"/><circle class="s" cx="548.6" cy="632.3" r="3.45"/><circle class="s" cx="549.6" cy="631.3" r="3.45"/><circle cx="550.0" cy="631.5" r="3.45"/><circle class="s" cx="551.0" cy="630.5" r="3.45"/><circle class="s" cx="551.9" cy="629.8" r="3.45"/><circle class="s" cx="552.9" cy="630.2" r="3.45"/><circle class="s" cx="553.9" cy="630.7" r="3.45"/><circle class="s" cx="554.8" cy="631.1" r="3.45"/><circle class="s" cx="555.8" cy="630.7" r="3.45"/><circle class="s" cx="556.8" cy="629.7" r="3.45"/><circle class="s" cx="557.7" cy="630.6" r="3.45"/><circle class="s" cx="558.7" cy="629.0" r="3.45"/><circle class="s" cx="559.6" cy="629.7" r="3.45"/><circle cx="560.6" cy="628.6" r="3.45"/><circle class="s" cx="561.6" cy="628.2" r="3.45"/><circle class="s" cx="562.6" cy="628.9" r="3.45"/><circle class="s" cx="563.6" cy="629.3" r="3.45"/><circle class="s" cx="564.5" cy="627.5" r="3.45"/><circle class="s" cx="565.5" cy="627.0" r="3.45"/><circle class="s" cx="566.5" cy="627.9" r="3.45"/><circle class="s" cx="567.5" cy="627.5" r="3.45"/><circle class="s" cx="568.5" cy="626.9" r="3.45"/><circle class="s" cx="569.5" cy="625.9" r="3.45"/><circle cx="570.0" cy="627.0" r="3.45"/><circle class="s" cx="571.0" cy="626.5" r="3.45"/><circle class="s" cx="572.0" cy="626.4" r="3.45"/><circle class="s" cx="572.9" cy="626.2" r="3.45"/><circle class="s" cx="573.9" cy="627.1" r="3.45"/><circle class="s" cx="574.9" cy="626.2" r="3.45"/><circle class="s" cx="575.9" cy="626.4" r="3.45"/><circle class="s" cx="576.9" cy="626.6" r="3.45"/><circle class="s" cx="577.8" cy="626.0" r="3.45"/><circle cx="578.0" cy="625.4" r="3.45"/><circle class="s" cx="578.9" cy="625.0" r="3.45"/><circle class="s" cx="579.9" cy="625.3" r="3.45"/><circle class="s" cx="580.8" cy="624.6" r="3.45"/><circle class="s" cx="581.7" cy="624.3" r="3.45"/><circle class="s" cx="582.7" cy="623.9" r="3.45"/><circle class="s" cx="583.6" cy="623.0" r="3.45"/><circle class="s" cx="584.5" cy="623.2" r="3.45"/><circle class="s" cx="585.4" cy="622.8" r="3.45"/><circle class="s" cx="586.4" cy="623.2" r="3.45"/><circle class="s" cx="587.3" cy="622.4" r="3.45"/><circle class="s" cx="588.2" cy="622.2" r="3.45"/><circle class="s" cx="589.2" cy="621.7" r="3.45"/><circle class="s" cx="590.1" cy="621.4" r="3.45"/><circle cx="591.0" cy="620.3" r="3.45"/><circle class="s" cx="591.9" cy="620.2" r="3.45"/><circle class="s" cx="592.9" cy="619.3" r="3.45"/><circle class="s" cx="593.8" cy="618.7" r="3.45"/><circle class="s" cx="594.8" cy="619.4" r="3.45"/><circle class="s" cx="595.7" cy="619.5" r="3.45"/><circle class="s" cx="596.6" cy="618.3" r="3.45"/><circle class="s" cx="597.6" cy="617.1" r="3.45"/><circle class="s" cx="598.5" cy="618.3" r="3.45"/><circle class="s" cx="599.4" cy="617.2" r="3.45"/><circle cx="600.0" cy="617.0" r="3.45"/><circle class="s" cx="601.0" cy="616.7" r="3.45"/><circle class="s" cx="602.0" cy="615.5" r="3.45"/><circle class="s" cx="602.9" cy="616.4" r="3.45"/><circle class="s" cx="603.9" cy="616.7" r="3.45"/><circle class="s" cx="604.9" cy="615.8" r="3.45"/><circle class="s" cx="605.9" cy="615.4" r="3.45"/><circle class="s" cx="606.8" cy="615.9" r="3.45"/><circle class="s" cx="607.8" cy="614.2" r="3.45"/><circle cx="608.3" cy="615.2" r="3.45"/><circle class="s" cx="609.2" cy="615.6" r="3.45"/><circle class="s" cx="610.1" cy="617.1" r="3.45"/><circle class="s" cx="611.0" cy="616.9" r="3.45"/><circle class="s" cx="612.0" cy="616.6" r="3.45"/><circle class="s" cx="612.9" cy="617.7" r="3.45"/><circle class="s" cx="613.8" cy="617.9" r="3.45"/><circle class="s" cx="614.7" cy="617.3" r="3.45"/><circle class="s" cx="615.6" cy="617.7" r="3.45"/><circle cx="616.4" cy="618.8" r="3.45"/><circle class="s" cx="617.4" cy="619.8" r="3.45"/><circle class="s" cx="618.4" cy="618.5" r="3.45"/><circle class="s" cx="619.4" cy="618.1" r="3.45"/><circle class="s" cx="620.4" cy="620.1" r="3.45"/><circle class="s" cx="621.4" cy="619.4" r="3.45"/><circle class="s" cx="622.4" cy="619.2" r="3.45"/><circle class="s" cx="623.4" cy="619.6" r="3.45"/><circle class="s" cx="624.3" cy="620.3" r="3.45"/><circle class="s" cx="625.3" cy="619.1" r="3.45"/><circle class="s" cx="626.3" cy="620.3" r="3.45"/><circle cx="626.6" cy="620.0" r="3.45"/><circle class="s" cx="627.6" cy="620.6" r="3.45"/><circle class="s" cx="628.6" cy="620.9" r="3.45"/><circle class="s" cx="629.6" cy="619.7" r="3.45"/><circle class="s" cx="630.6" cy="620.6" r="3.45"/><circle class="s" cx="631.6" cy="619.8" r="3.45"/><circle class="s" cx="632.6" cy="620.7" r="3.45"/><circle class="s" cx="633.6" cy="619.8" r="3.45"/><circle class="s" cx="634.6" cy="621.4" r="3.45"/><circle class="s" cx="635.6" cy="621.6" r="3.45"/><circle class="s" cx="636.6" cy="620.4" r="3.45"/><circle class="s" cx="637.6" cy="620.3" r="3.45"/><circle class="s" cx="638.6" cy="622.1" r="3.45"/><circle class="s" cx="639.6" cy="621.6" r="3.45"/><circle class="s" cx="640.5" cy="622.0" r="3.45"/><circle class="s" cx="641.5" cy="620.2" r="3.45"/><circle cx="641.8" cy="621.3" r="3.45"/><circle class="s" cx="642.8" cy="622.3" r="3.45"/><circle class="s" cx="643.8" cy="621.6" r="3.45"/><circle class="s" cx="644.8" cy="620.9" r="3.45"/><circle class="s" cx="645.8" cy="621.2" r="3.45"/><circle class="s" cx="646.8" cy="622.0" r="3.45"/><circle class="s" cx="647.8" cy="622.1" r="3.45"/><circle class="s" cx="648.8" cy="620.7" r="3.45"/><circle class="s" cx="649.8" cy="621.8" r="3.45"/><circle cx="650.0" cy="621.5" r="3.45"/><circle class="s" cx="651.0" cy="620.8" r="3.45"/><circle class="s" cx="652.0" cy="622.9" r="3.45"/><circle class="s" cx="653.0" cy="621.8" r="3.45"/><circle class="s" cx="654.0" cy="623.0" r="3.45"/><circle class="s" cx="655.0" cy="622.7" r="3.45"/><circle class="s" cx="655.9" cy="622.5" r="3.45"/><circle class="s" cx="656.9" cy="621.9" r="3.45"/><circle class="s" cx="657.9" cy="622.6" r="3.45"/><circle class="s" cx="658.9" cy="621.8" r="3.45"/><circle class="s" cx="659.9" cy="622.0" r="3.45"/><circle class="s" cx="660.9" cy="623.5" r="3.45"/><circle class="s" cx="661.9" cy="622.8" r="3.45"/><circle class="s" cx="662.9" cy="623.8" r="3.45"/><circle class="s" cx="663.9" cy="622.7" r="3.45"/><circle class="s" cx="664.9" cy="624.0" r="3.45"/><circle cx="665.0" cy="623.5" r="3.45"/><circle class="s" cx="665.9" cy="624.4" r="3.45"/><circle class="s" cx="666.9" cy="623.7" r="3.45"/><circle class="s" cx="667.8" cy="623.6" r="3.45"/><circle class="s" cx="668.8" cy="624.6" r="3.45"/><circle class="s" cx="669.7" cy="625.2" r="3.45"/><circle class="s" cx="670.6" cy="624.6" r="3.45"/><circle class="s" cx="671.6" cy="625.1" r="3.45"/><circle class="s" cx="672.5" cy="625.1" r="3.45"/><circle class="s" cx="673.5" cy="626.8" r="3.45"/><circle class="s" cx="674.4" cy="627.8" r="3.45"/><circle class="s" cx="675.3" cy="626.5" r="3.45"/><circle class="s" cx="676.3" cy="626.4" r="3.45"/><circle class="s" cx="677.2" cy="628.4" r="3.45"/><circle cx="677.5" cy="628.0" r="3.45"/><circle class="s" cx="678.5" cy="628.8" r="3.45"/><circle class="s" cx="679.5" cy="629.1" r="3.45"/><circle class="s" cx="680.5" cy="628.3" r="3.45"/><circle class="s" cx="681.5" cy="627.6" r="3.45"/><circle class="s" cx="682.5" cy="628.8" r="3.45"/><circle class="s" cx="683.5" cy="627.1" r="3.45"/><circle class="s" cx="684.5" cy="628.5" r="3.45"/><circle class="s" cx="685.5" cy="627.0" r="3.45"/><circle class="s" cx="686.5" cy="627.8" r="3.45"/><circle class="s" cx="687.5" cy="628.0" r="3.45"/><circle class="s" cx="688.5" cy="627.7" r="3.45"/><circle class="s" cx="689.5" cy="627.2" r="3.45"/><circle cx="690.0" cy="628.0" r="3.45"/><circle class="s" cx="691.0" cy="627.6" r="3.45"/><circle class="s" cx="691.9" cy="629.2" r="3.45"/><circle class="s" cx="692.9" cy="628.6" r="3.45"/><circle class="s" cx="693.9" cy="629.1" r="3.45"/><circle class="s" cx="694.9" cy="628.4" r="3.45"/><circle class="s" cx="695.8" cy="629.9" r="3.45"/><circle class="s" cx="696.8" cy="629.2" r="3.45"/><circle class="s" cx="697.8" cy="630.0" r="3.45"/><circle class="s" cx="698.8" cy="631.0" r="3.45"/><circle class="s" cx="699.7" cy="631.5" r="3.45"/><circle class="s" cx="700.7" cy="629.4" r="3.45"/><circle class="s" cx="701.7" cy="631.4" r="3.45"/><circle class="s" cx="702.7" cy="631.8" r="3.45"/><circle class="s" cx="703.6" cy="630.7" r="3.45"/><circle class="s" cx="704.6" cy="631.1" r="3.45"/><circle cx="705.0" cy="631.5" r="3.45"/><circle class="s" cx="706.0" cy="631.9" r="3.45"/><circle class="s" cx="707.0" cy="632.9" r="3.45"/><circle class="s" cx="707.9" cy="631.8" r="3.45"/><circle class="s" cx="708.9" cy="633.2" r="3.45"/><circle class="s" cx="709.9" cy="633.1" r="3.45"/><circle class="s" cx="710.9" cy="631.8" r="3.45"/><circle class="s" cx="711.9" cy="633.9" r="3.45"/><circle class="s" cx="712.8" cy="631.9" r="3.45"/><circle class="s" cx="713.8" cy="632.4" r="3.45"/><circle class="s" cx="714.8" cy="633.9" r="3.45"/><circle cx="715.0" cy="633.5" r="3.45"/><circle class="s" cx="716.0" cy="632.6" r="3.45"/><circle class="s" cx="717.0" cy="633.6" r="3.45"/><circle class="s" cx="717.9" cy="633.2" r="3.45"/><circle class="s" cx="718.9" cy="634.2" r="3.45"/><circle class="s" cx="719.9" cy="635.3" r="3.45"/><circle class="s" cx="720.9" cy="635.7" r="3.45"/><circle class="s" cx="721.9" cy="633.8" r="3.45"/><circle class="s" cx="722.8" cy="634.0" r="3.45"/><circle class="s" cx="723.8" cy="636.1" r="3.45"/><circle class="s" cx="724.8" cy="634.4" r="3.45"/><circle class="s" cx="725.8" cy="635.1" r="3.45"/><circle class="s" cx="726.8" cy="634.9" r="3.45"/><circle class="s" cx="727.7" cy="635.1" r="3.45"/><circle class="s" cx="728.7" cy="635.1" r="3.45"/><circle class="s" cx="729.7" cy="636.8" r="3.45"/><circle cx="730.0" cy="636.5" r="3.45"/><circle class="s" cx="730.8" cy="637.7" r="3.45"/><circle class="s" cx="731.6" cy="638.1" r="3.45"/><circle class="s" cx="732.5" cy="639.0" r="3.45"/><circle class="s" cx="733.3" cy="639.2" r="3.45"/><circle class="s" cx="734.1" cy="639.1" r="3.45"/><circle class="s" cx="734.9" cy="640.3" r="3.45"/><circle class="s" cx="735.7" cy="641.6" r="3.45"/><circle class="s" cx="736.6" cy="641.4" r="3.45"/><circle class="s" cx="737.4" cy="641.0" r="3.45"/><circle class="s" cx="738.2" cy="641.2" r="3.45"/><circle class="s" cx="739.0" cy="643.9" r="3.45"/><circle class="s" cx="739.8" cy="643.6" r="3.45"/><circle cx="740.0" cy="643.5" r="3.45"/><circle class="s" cx="740.8" cy="643.7" r="3.45"/><circle class="s" cx="741.7" cy="644.8" r="3.45"/><circle class="s" cx="742.5" cy="645.2" r="3.45"/><circle class="s" cx="743.4" cy="645.7" r="3.45"/><circle class="s" cx="744.2" cy="645.1" r="3.45"/><circle class="s" cx="745.1" cy="646.3" r="3.45"/><circle class="s" cx="745.9" cy="647.0" r="3.45"/><circle class="s" cx="746.8" cy="647.0" r="3.45"/><circle class="s" cx="747.6" cy="649.2" r="3.45"/><circle class="s" cx="748.5" cy="648.6" r="3.45"/><circle class="s" cx="749.3" cy="649.7" r="3.45"/><circle cx="750.0" cy="649.8" r="3.45"/><circle class="s" cx="750.9" cy="650.7" r="3.45"/><circle class="s" cx="751.8" cy="651.2" r="3.45"/><circle class="s" cx="752.7" cy="651.5" r="3.45"/><circle class="s" cx="753.6" cy="652.0" r="3.45"/><circle class="s" cx="754.6" cy="651.2" r="3.45"/><circle class="s" cx="755.5" cy="653.4" r="3.45"/><circle class="s" cx="756.4" cy="651.8" r="3.45"/><circle class="s" cx="757.3" cy="654.0" r="3.45"/><circle class="s" cx="758.2" cy="654.3" r="3.45"/><circle class="s" cx="759.1" cy="654.7" r="3.45"/><circle class="s" cx="760.0" cy="653.2" r="3.45"/><circle class="s" cx="760.9" cy="653.7" r="3.45"/><circle class="s" cx="761.9" cy="655.8" r="3.45"/><circle class="s" cx="762.8" cy="655.4" r="3.45"/><circle class="s" cx="763.7" cy="655.6" r="3.45"/><circle class="s" cx="764.6" cy="657.5" r="3.45"/><circle cx="765.0" cy="656.5" r="3.45"/><circle class="s" cx="766.0" cy="655.6" r="3.45"/><circle class="s" cx="767.0" cy="657.0" r="3.45"/><circle class="s" cx="767.9" cy="657.0" r="3.45"/><circle class="s" cx="768.9" cy="656.5" r="3.45"/><circle class="s" cx="769.9" cy="657.3" r="3.45"/><circle class="s" cx="770.9" cy="658.3" r="3.45"/><circle class="s" cx="771.8" cy="658.9" r="3.45"/><circle class="s" cx="772.8" cy="657.1" r="3.45"/><circle class="s" cx="773.8" cy="658.5" r="3.45"/><circle class="s" cx="774.8" cy="657.6" r="3.45"/><circle class="s" cx="775.8" cy="659.6" r="3.45"/><circle class="s" cx="776.7" cy="658.0" r="3.45"/><circle class="s" cx="777.7" cy="658.1" r="3.45"/><circle class="s" cx="778.7" cy="659.2" r="3.45"/><circle class="s" cx="779.7" cy="660.2" r="3.45"/><circle cx="780.0" cy="659.8" r="3.45"/><circle class="s" cx="781.0" cy="659.3" r="3.45"/><circle class="s" cx="782.0" cy="658.9" r="3.45"/><circle class="s" cx="783.0" cy="660.5" r="3.45"/><circle class="s" cx="784.0" cy="660.5" r="3.45"/><circle class="s" cx="785.0" cy="660.6" r="3.45"/><circle class="s" cx="786.0" cy="659.3" r="3.45"/><circle class="s" cx="787.0" cy="659.6" r="3.45"/><circle cx="787.5" cy="659.8" r="3.45"/><circle class="s" cx="788.4" cy="658.7" r="3.45"/><circle class="s" cx="789.3" cy="659.1" r="3.45"/><circle class="s" cx="790.3" cy="658.1" r="3.45"/><circle class="s" cx="791.2" cy="657.8" r="3.45"/><circle class="s" cx="792.1" cy="658.4" r="3.45"/><circle class="s" cx="793.0" cy="658.5" r="3.45"/><circle class="s" cx="793.9" cy="657.2" r="3.45"/><circle class="s" cx="794.8" cy="655.6" r="3.45"/><circle cx="795.0" cy="656.5" r="3.45"/><circle class="s" cx="796.0" cy="656.6" r="3.45"/><circle class="s" cx="796.9" cy="655.9" r="3.45"/><circle class="s" cx="797.9" cy="657.0" r="3.45"/><circle class="s" cx="798.9" cy="656.1" r="3.45"/><circle class="s" cx="799.9" cy="656.2" r="3.45"/><circle class="s" cx="800.8" cy="655.6" r="3.45"/><circle class="s" cx="801.8" cy="655.0" r="3.45"/><circle class="s" cx="802.8" cy="655.6" r="3.45"/><circle class="s" cx="803.8" cy="655.3" r="3.45"/><circle class="s" cx="804.7" cy="653.7" r="3.45"/><circle class="s" cx="805.7" cy="653.2" r="3.45"/><circle class="s" cx="806.7" cy="653.5" r="3.45"/><circle class="s" cx="807.7" cy="653.6" r="3.45"/><circle class="s" cx="808.6" cy="652.4" r="3.45"/><circle class="s" cx="809.6" cy="652.7" r="3.45"/><circle cx="810.0" cy="653.0" r="3.45"/><circle class="s" cx="811.0" cy="653.1" r="3.45"/><circle class="s" cx="812.0" cy="651.8" r="3.45"/><circle class="s" cx="813.0" cy="653.6" r="3.45"/><circle class="s" cx="814.0" cy="653.2" r="3.45"/><circle class="s" cx="815.0" cy="652.3" r="3.45"/><circle class="s" cx="816.0" cy="652.2" r="3.45"/><circle class="s" cx="817.0" cy="652.3" r="3.45"/><circle class="s" cx="818.0" cy="652.2" r="3.45"/><circle class="s" cx="819.0" cy="653.1" r="3.45"/><circle class="s" cx="820.0" cy="652.5" r="3.45"/><circle class="s" cx="821.0" cy="652.5" r="3.45"/><circle class="s" cx="822.0" cy="651.6" r="3.45"/><circle class="s" cx="823.0" cy="653.3" r="3.45"/><circle class="s" cx="824.0" cy="651.9" r="3.45"/><circle class="s" cx="825.0" cy="651.8" r="3.45"/><circle cx="825.0" cy="652.2" r="3.45"/><circle class="s" cx="826.0" cy="651.3" r="3.45"/><circle class="s" cx="827.0" cy="653.6" r="3.45"/><circle class="s" cx="828.0" cy="652.5" r="3.45"/><circle class="s" cx="829.0" cy="653.7" r="3.45"/><circle class="s" cx="830.0" cy="653.9" r="3.45"/><circle class="s" cx="831.0" cy="654.1" r="3.45"/><circle class="s" cx="832.0" cy="653.8" r="3.45"/><circle class="s" cx="832.9" cy="654.2" r="3.45"/><circle class="s" cx="833.9" cy="654.3" r="3.45"/><circle class="s" cx="834.9" cy="654.1" r="3.45"/><circle class="s" cx="835.9" cy="652.6" r="3.45"/><circle class="s" cx="836.9" cy="653.7" r="3.45"/><circle class="s" cx="837.9" cy="653.9" r="3.45"/><circle class="s" cx="838.9" cy="655.1" r="3.45"/><circle class="s" cx="839.9" cy="654.7" r="3.45"/><circle cx="840.0" cy="654.0" r="3.45"/><circle class="s" cx="841.0" cy="654.7" r="3.45"/><circle class="s" cx="841.9" cy="655.1" r="3.45"/><circle class="s" cx="842.9" cy="654.4" r="3.45"/><circle class="s" cx="843.9" cy="656.1" r="3.45"/><circle class="s" cx="844.8" cy="655.6" r="3.45"/><circle class="s" cx="845.8" cy="655.3" r="3.45"/><circle class="s" cx="846.8" cy="655.7" r="3.45"/><circle class="s" cx="847.7" cy="657.2" r="3.45"/><circle class="s" cx="848.7" cy="656.4" r="3.45"/><circle class="s" cx="849.7" cy="655.8" r="3.45"/><circle class="s" cx="850.6" cy="656.0" r="3.45"/><circle class="s" cx="851.6" cy="657.5" r="3.45"/><circle class="s" cx="852.6" cy="657.5" r="3.45"/><circle class="s" cx="853.5" cy="658.6" r="3.45"/><circle class="s" cx="854.5" cy="657.1" r="3.45"/><circle cx="855.0" cy="658.0" r="3.45"/><circle class="s" cx="855.9" cy="658.2" r="3.45"/><circle class="s" cx="856.8" cy="659.4" r="3.45"/><circle class="s" cx="857.7" cy="658.2" r="3.45"/><circle class="s" cx="858.6" cy="658.7" r="3.45"/><circle class="s" cx="859.6" cy="660.2" r="3.45"/><circle class="s" cx="860.5" cy="659.9" r="3.45"/><circle class="s" cx="861.4" cy="659.9" r="3.45"/><circle class="s" cx="862.3" cy="660.7" r="3.45"/><circle class="s" cx="863.2" cy="662.0" r="3.45"/><circle class="s" cx="864.1" cy="662.2" r="3.45"/><circle class="s" cx="865.0" cy="661.5" r="3.45"/><circle class="s" cx="865.9" cy="661.9" r="3.45"/><circle class="s" cx="866.9" cy="664.2" r="3.45"/><circle class="s" cx="867.8" cy="664.1" r="3.45"/><circle class="s" cx="868.7" cy="663.4" r="3.45"/><circle class="s" cx="869.6" cy="665.4" r="3.45"/><circle cx="870.0" cy="664.8" r="3.45"/><circle class="s" cx="870.9" cy="664.1" r="3.45"/><circle class="s" cx="871.7" cy="665.4" r="3.45"/><circle class="s" cx="872.6" cy="667.1" r="3.45"/><circle class="s" cx="873.5" cy="667.2" r="3.45"/><circle class="s" cx="874.3" cy="666.7" r="3.45"/><circle class="s" cx="875.2" cy="668.7" r="3.45"/><circle class="s" cx="876.1" cy="668.5" r="3.45"/><circle class="s" cx="876.9" cy="669.6" r="3.45"/><circle class="s" cx="877.8" cy="670.2" r="3.45"/><circle class="s" cx="878.7" cy="669.6" r="3.45"/><circle class="s" cx="879.5" cy="670.7" r="3.45"/><circle cx="880.0" cy="670.5" r="3.45"/><circle class="s" cx="881.0" cy="670.7" r="3.45"/><circle class="s" cx="882.0" cy="671.8" r="3.45"/><circle class="s" cx="883.0" cy="671.5" r="3.45"/><circle class="s" cx="884.0" cy="671.4" r="3.45"/><circle class="s" cx="885.0" cy="671.8" r="3.45"/><circle class="s" cx="886.0" cy="672.3" r="3.45"/><circle class="s" cx="887.0" cy="670.6" r="3.45"/><circle class="s" cx="888.0" cy="670.6" r="3.45"/><circle class="s" cx="889.0" cy="672.0" r="3.45"/><circle class="s" cx="890.0" cy="672.1" r="3.45"/><circle cx="890.0" cy="671.5" r="3.45"/><circle class="s" cx="891.0" cy="671.4" r="3.45"/><circle class="s" cx="892.0" cy="671.3" r="3.45"/><circle class="s" cx="893.0" cy="671.0" r="3.45"/><circle class="s" cx="894.0" cy="672.0" r="3.45"/><circle class="s" cx="895.0" cy="671.7" r="3.45"/><circle class="s" cx="896.0" cy="671.1" r="3.45"/><circle class="s" cx="897.0" cy="669.7" r="3.45"/><circle class="s" cx="898.0" cy="671.5" r="3.45"/><circle class="s" cx="899.0" cy="670.5" r="3.45"/><circle class="s" cx="900.0" cy="669.8" r="3.45"/><circle cx="900.0" cy="670.5" r="3.45"/><circle class="s" cx="900.8" cy="669.4" r="3.45"/><circle class="s" cx="901.5" cy="669.7" r="3.45"/><circle class="s" cx="902.3" cy="667.4" r="3.45"/><circle class="s" cx="903.1" cy="667.0" r="3.45"/><circle class="s" cx="903.9" cy="666.8" r="3.45"/><circle class="s" cx="904.6" cy="667.6" r="3.45"/><circle class="s" cx="905.4" cy="666.6" r="3.45"/><circle class="s" cx="906.2" cy="666.5" r="3.45"/><circle class="s" cx="906.9" cy="664.9" r="3.45"/><circle class="s" cx="907.7" cy="664.3" r="3.45"/><circle class="s" cx="908.5" cy="663.6" r="3.45"/><circle class="s" cx="909.3" cy="662.9" r="3.45"/><circle cx="910.0" cy="662.2" r="3.45"/><circle class="s" cx="911.0" cy="662.1" r="3.45"/><circle class="s" cx="911.9" cy="662.5" r="3.45"/><circle class="s" cx="912.9" cy="662.6" r="3.45"/><circle class="s" cx="913.9" cy="661.1" r="3.45"/><circle class="s" cx="914.9" cy="661.3" r="3.45"/><circle class="s" cx="915.8" cy="660.3" r="3.45"/><circle class="s" cx="916.8" cy="660.1" r="3.45"/><circle class="s" cx="917.8" cy="660.3" r="3.45"/><circle class="s" cx="918.7" cy="660.3" r="3.45"/><circle class="s" cx="919.7" cy="659.9" r="3.45"/><circle cx="920.0" cy="659.8" r="3.45"/><circle class="s" cx="921.0" cy="661.0" r="3.45"/><circle class="s" cx="922.0" cy="659.1" r="3.45"/><circle class="s" cx="923.0" cy="660.3" r="3.45"/><circle class="s" cx="924.0" cy="661.2" r="3.45"/><circle class="s" cx="925.0" cy="660.6" r="3.45"/><circle class="s" cx="926.0" cy="660.3" r="3.45"/><circle class="s" cx="927.0" cy="659.9" r="3.45"/><circle class="s" cx="928.0" cy="660.0" r="3.45"/><circle class="s" cx="929.0" cy="661.4" r="3.45"/><circle class="s" cx="930.0" cy="661.3" r="3.45"/><circle class="s" cx="931.0" cy="660.8" r="3.45"/><circle class="s" cx="932.0" cy="661.5" r="3.45"/><circle class="s" cx="933.0" cy="661.6" r="3.45"/><circle class="s" cx="934.0" cy="661.5" r="3.45"/><circle class="s" cx="935.0" cy="660.4" r="3.45"/><circle class="s" cx="936.0" cy="660.7" r="3.45"/><circle class="s" cx="937.0" cy="661.5" r="3.45"/><circle class="s" cx="938.0" cy="660.6" r="3.45"/><circle class="s" cx="939.0" cy="661.5" r="3.45"/><circle class="s" cx="940.0" cy="661.0" r="3.45"/><circle cx="940.0" cy="661.0" r="3.45"/><circle class="s" cx="941.0" cy="660.6" r="3.45"/><circle class="s" cx="942.0" cy="660.9" r="3.45"/><circle class="s" cx="943.0" cy="660.1" r="3.45"/><circle class="s" cx="944.0" cy="660.7" r="3.45"/><circle class="s" cx="945.0" cy="660.8" r="3.45"/><circle class="s" cx="946.0" cy="659.8" r="3.45"/><circle class="s" cx="947.0" cy="660.2" r="3.45"/><circle class="s" cx="948.0" cy="660.4" r="3.45"/><circle class="s" cx="949.0" cy="661.9" r="3.45"/><circle cx="950.0" cy="661.0" r="3.45"/><circle class="s" cx="951.0" cy="661.1" r="3.45"/><circle class="s" cx="952.0" cy="660.3" r="3.45"/><circle class="s" cx="953.0" cy="661.9" r="3.45"/><circle class="s" cx="954.0" cy="660.1" r="3.45"/><circle class="s" cx="955.0" cy="660.6" r="3.45"/><circle class="s" cx="956.0" cy="661.1" r="3.45"/><circle class="s" cx="957.0" cy="660.9" r="3.45"/><circle class="s" cx="958.0" cy="660.2" r="3.45"/><circle class="s" cx="959.0" cy="660.9" r="3.45"/><circle class="s" cx="960.0" cy="660.1" r="3.45"/><circle class="s" cx="961.0" cy="660.6" r="3.45"/><circle class="s" cx="962.0" cy="660.0" r="3.45"/><circle class="s" cx="963.0" cy="661.1" r="3.45"/><circle class="s" cx="964.0" cy="660.4" r="3.45"/><circle class="s" cx="964.9" cy="658.8" r="3.45"/><circle cx="965.0" cy="659.8" r="3.45"/><circle class="s" cx="966.0" cy="658.6" r="3.45"/><circle class="s" cx="966.9" cy="660.4" r="3.45"/><circle class="s" cx="967.9" cy="658.4" r="3.45"/><circle class="s" cx="968.9" cy="657.6" r="3.45"/><circle class="s" cx="969.9" cy="657.9" r="3.45"/><circle class="s" cx="970.8" cy="658.2" r="3.45"/><circle class="s" cx="971.8" cy="659.1" r="3.45"/><circle class="s" cx="972.8" cy="657.6" r="3.45"/><circle class="s" cx="973.7" cy="658.1" r="3.45"/><circle class="s" cx="974.7" cy="658.1" r="3.45"/><circle cx="975.0" cy="657.2" r="3.45"/><circle class="s" cx="976.0" cy="656.0" r="3.45"/><circle class="s" cx="976.9" cy="657.0" r="3.45"/><circle class="s" cx="977.9" cy="657.7" r="3.45"/><circle class="s" cx="978.9" cy="656.4" r="3.45"/><circle class="s" cx="979.9" cy="656.1" r="3.45"/><circle class="s" cx="980.8" cy="655.4" r="3.45"/><circle class="s" cx="981.8" cy="656.6" r="3.45"/><circle class="s" cx="982.8" cy="656.4" r="3.45"/><circle class="s" cx="983.7" cy="654.1" r="3.45"/><circle class="s" cx="984.7" cy="655.0" r="3.45"/><circle cx="985.0" cy="654.8" r="3.45"/><circle class="s" cx="986.0" cy="654.6" r="3.45"/><circle class="s" cx="987.0" cy="655.3" r="3.45"/><circle class="s" cx="988.0" cy="654.0" r="3.45"/><circle class="s" cx="989.0" cy="654.4" r="3.45"/><circle class="s" cx="990.0" cy="654.5" r="3.45"/><circle class="s" cx="991.0" cy="655.0" r="3.45"/><circle class="s" cx="992.0" cy="655.8" r="3.45"/><circle class="s" cx="993.0" cy="656.0" r="3.45"/><circle class="s" cx="994.0" cy="655.9" r="3.45"/><circle class="s" cx="995.0" cy="655.7" r="3.45"/><circle class="s" cx="996.0" cy="654.3" r="3.45"/><circle class="s" cx="997.0" cy="655.1" r="3.45"/><circle class="s" cx="998.0" cy="655.8" r="3.45"/><circle class="s" cx="999.0" cy="655.0" r="3.45"/><circle class="s" cx="1000.0" cy="655.5" r="3.45"/><circle cx="1000.0" cy="655.5" r="3.45"/><circle class="s" cx="1000.9" cy="656.1" r="3.45"/><circle class="s" cx="1001.8" cy="653.8" r="3.45"/><circle class="s" cx="1002.7" cy="655.1" r="3.45"/><circle class="s" cx="1003.6" cy="652.9" r="3.45"/><circle class="s" cx="1004.6" cy="653.2" r="3.45"/><circle class="s" cx="1005.5" cy="654.0" r="3.45"/><circle class="s" cx="1006.4" cy="651.9" r="3.45"/><circle class="s" cx="1007.3" cy="652.3" r="3.45"/><circle class="s" cx="1008.2" cy="651.6" r="3.45"/><circle class="s" cx="1009.1" cy="652.3" r="3.45"/><circle cx="1010.0" cy="651.0" r="3.45"/><circle class="s" cx="1011.0" cy="652.1" r="3.45"/><circle class="s" cx="1012.0" cy="650.3" r="3.45"/><circle class="s" cx="1013.0" cy="650.7" r="3.45"/><circle class="s" cx="1014.0" cy="651.6" r="3.45"/><circle class="s" cx="1015.0" cy="650.7" r="3.45"/><circle class="s" cx="1016.0" cy="649.8" r="3.45"/><circle class="s" cx="1017.0" cy="651.1" r="3.45"/><circle class="s" cx="1018.0" cy="650.0" r="3.45"/><circle class="s" cx="1019.0" cy="650.2" r="3.45"/><circle class="s" cx="1020.0" cy="649.0" r="3.45"/><circle cx="1020.0" cy="650.2" r="3.45"/><circle class="s" cx="1021.0" cy="651.4" r="3.45"/><circle class="s" cx="1022.0" cy="650.6" r="3.45"/><circle class="s" cx="1023.0" cy="651.2" r="3.45"/><circle class="s" cx="1024.0" cy="651.3" r="3.45"/><circle class="s" cx="1025.0" cy="649.6" r="3.45"/><circle class="s" cx="1026.0" cy="650.3" r="3.45"/><circle class="s" cx="1027.0" cy="650.1" r="3.45"/><circle class="s" cx="1028.0" cy="650.8" r="3.45"/><circle class="s" cx="1029.0" cy="651.0" r="3.45"/><circle class="s" cx="1030.0" cy="649.5" r="3.45"/><circle class="s" cx="1031.0" cy="649.7" r="3.45"/><circle class="s" cx="1032.0" cy="650.7" r="3.45"/><circle class="s" cx="1033.0" cy="650.0" r="3.45"/><circle class="s" cx="1034.0" cy="649.3" r="3.45"/><circle class="s" cx="1035.0" cy="649.5" r="3.45"/><circle class="s" cx="1036.0" cy="650.3" r="3.45"/><circle class="s" cx="1037.0" cy="650.4" r="3.45"/><circle class="s" cx="1038.0" cy="651.3" r="3.45"/><circle class="s" cx="1039.0" cy="650.3" r="3.45"/><circle cx="1040.0" cy="650.2" r="3.45"/><circle class="s" cx="1041.0" cy="650.5" r="3.45"/><circle class="s" cx="1042.0" cy="649.4" r="3.45"/><circle class="s" cx="1043.0" cy="650.1" r="3.45"/><circle class="s" cx="1044.0" cy="649.8" r="3.45"/><circle class="s" cx="1045.0" cy="650.8" r="3.45"/><circle class="s" cx="1046.0" cy="649.8" r="3.45"/><circle class="s" cx="1047.0" cy="649.7" r="3.45"/><circle class="s" cx="1048.0" cy="650.1" r="3.45"/><circle class="s" cx="1049.0" cy="650.4" r="3.45"/><circle class="s" cx="1050.0" cy="650.1" r="3.45"/><circle cx="1050.0" cy="650.5" r="3.45"/><circle class="s" cx="1051.0" cy="650.8" r="3.45"/><circle class="s" cx="1052.0" cy="649.9" r="3.45"/><circle class="s" cx="1053.0" cy="651.7" r="3.45"/><circle class="s" cx="1054.0" cy="651.3" r="3.45"/><circle class="s" cx="1055.0" cy="651.0" r="3.45"/><circle class="s" cx="1056.0" cy="649.9" r="3.45"/><circle class="s" cx="1057.0" cy="650.7" r="3.45"/><circle class="s" cx="1058.0" cy="651.6" r="3.45"/><circle cx="1058.6" cy="651.2" r="3.45"/><circle class="s" cx="1059.6" cy="651.4" r="3.45"/><circle class="s" cx="1060.6" cy="651.7" r="3.45"/><circle class="s" cx="1061.6" cy="651.8" r="3.45"/><circle class="s" cx="1062.6" cy="650.3" r="3.45"/><circle class="s" cx="1063.6" cy="650.6" r="3.45"/><circle class="s" cx="1064.6" cy="650.1" r="3.45"/><circle class="s" cx="1065.6" cy="649.5" r="3.45"/><circle class="s" cx="1066.5" cy="649.4" r="3.45"/><circle class="s" cx="1067.5" cy="649.6" r="3.45"/><circle class="s" cx="1068.5" cy="649.0" r="3.45"/><circle cx="1068.7" cy="650.0" r="3.45"/><circle class="s" cx="1069.7" cy="650.2" r="3.45"/><circle class="s" cx="1070.7" cy="650.7" r="3.45"/><circle class="s" cx="1071.7" cy="650.5" r="3.45"/><circle class="s" cx="1072.7" cy="650.9" r="3.45"/><circle class="s" cx="1073.7" cy="649.9" r="3.45"/><circle class="s" cx="1074.7" cy="649.9" r="3.45"/><circle class="s" cx="1075.7" cy="650.9" r="3.45"/><circle class="s" cx="1076.7" cy="651.8" r="3.45"/><circle class="s" cx="1077.6" cy="650.8" r="3.45"/><circle cx="1078.0" cy="651.0" r="3.45"/><circle class="s" cx="1079.0" cy="650.0" r="3.45"/><circle class="s" cx="1080.0" cy="650.1" r="3.45"/><circle class="s" cx="1081.0" cy="651.0" r="3.45"/><circle class="s" cx="1082.0" cy="651.9" r="3.45"/><circle class="s" cx="1082.9" cy="650.7" r="3.45"/><circle class="s" cx="1083.9" cy="651.2" r="3.45"/><circle class="s" cx="1084.9" cy="652.5" r="3.45"/><circle class="s" cx="1085.9" cy="653.4" r="3.45"/><circle cx="1086.0" cy="652.2" r="3.45"/><circle class="s" cx="1087.0" cy="651.9" r="3.45"/><circle class="s" cx="1088.0" cy="652.7" r="3.45"/><circle class="s" cx="1089.0" cy="652.6" r="3.45"/><circle class="s" cx="1090.0" cy="651.5" r="3.45"/><circle class="s" cx="1091.0" cy="652.4" r="3.45"/><circle class="s" cx="1092.0" cy="652.0" r="3.45"/><circle class="s" cx="1093.0" cy="652.4" r="3.45"/><circle class="s" cx="1093.9" cy="653.8" r="3.45"/><circle class="s" cx="1094.9" cy="653.7" r="3.45"/><circle class="s" cx="1095.9" cy="652.2" r="3.45"/><circle class="s" cx="1096.9" cy="652.4" r="3.45"/><circle class="s" cx="1097.9" cy="654.1" r="3.45"/><circle class="s" cx="1098.9" cy="652.7" r="3.45"/><circle cx="1099.0" cy="653.7" r="3.45"/><circle class="s" cx="1100.0" cy="653.2" r="3.45"/><circle class="s" cx="1101.0" cy="653.0" r="3.45"/><circle class="s" cx="1102.0" cy="652.4" r="3.45"/><circle class="s" cx="1103.0" cy="652.3" r="3.45"/><circle class="s" cx="1104.0" cy="652.4" r="3.45"/><circle class="s" cx="1105.0" cy="653.0" r="3.45"/><circle class="s" cx="1106.0" cy="654.2" r="3.45"/><circle class="s" cx="1107.0" cy="653.4" r="3.45"/><circle class="s" cx="1108.0" cy="652.4" r="3.45"/><circle cx="1108.0" cy="653.0" r="3.45"/><circle class="s" cx="1109.0" cy="653.3" r="3.45"/><circle class="s" cx="1110.0" cy="652.1" r="3.45"/><circle class="s" cx="1111.0" cy="652.5" r="3.45"/><circle class="s" cx="1111.9" cy="651.9" r="3.45"/><circle class="s" cx="1112.9" cy="653.2" r="3.45"/><circle class="s" cx="1113.9" cy="651.6" r="3.45"/><circle class="s" cx="1114.9" cy="652.5" r="3.45"/><circle class="s" cx="1115.9" cy="651.9" r="3.45"/><circle cx="1116.4" cy="651.5" r="3.45"/><circle class="s" cx="1117.4" cy="652.1" r="3.45"/><circle class="s" cx="1118.3" cy="651.3" r="3.45"/><circle class="s" cx="1119.3" cy="651.7" r="3.45"/><circle class="s" cx="1120.3" cy="650.4" r="3.45"/><circle class="s" cx="1121.3" cy="650.8" r="3.45"/><circle class="s" cx="1122.2" cy="650.5" r="3.45"/><circle class="s" cx="1123.2" cy="650.0" r="3.45"/><circle class="s" cx="1124.2" cy="649.9" r="3.45"/><circle class="s" cx="1125.2" cy="649.6" r="3.45"/><circle class="s" cx="1126.1" cy="649.0" r="3.45"/><circle class="s" cx="1127.1" cy="650.0" r="3.45"/><circle class="s" cx="1128.1" cy="649.1" r="3.45"/><circle class="s" cx="1129.1" cy="648.7" r="3.45"/><circle class="s" cx="1130.0" cy="647.3" r="3.45"/><circle class="s" cx="1131.0" cy="648.2" r="3.45"/><circle cx="1131.7" cy="648.0" r="3.45"/><circle class="s" cx="1132.7" cy="647.1" r="3.45"/><circle class="s" cx="1133.7" cy="647.1" r="3.45"/><circle class="s" cx="1134.7" cy="647.5" r="3.45"/><circle class="s" cx="1135.7" cy="647.7" r="3.45"/><circle class="s" cx="1136.7" cy="646.9" r="3.45"/><circle class="s" cx="1137.7" cy="646.9" r="3.45"/><circle class="s" cx="1138.7" cy="647.4" r="3.45"/><circle class="s" cx="1139.7" cy="647.2" r="3.45"/><circle class="s" cx="1140.7" cy="646.9" r="3.45"/><circle class="s" cx="1141.7" cy="646.1" r="3.45"/><circle class="s" cx="1142.6" cy="646.6" r="3.45"/><circle class="s" cx="1143.6" cy="647.2" r="3.45"/><circle class="s" cx="1144.6" cy="646.8" r="3.45"/><circle class="s" cx="1145.6" cy="646.7" r="3.45"/><circle class="s" cx="1146.6" cy="647.4" r="3.45"/><circle class="s" cx="1147.6" cy="647.0" r="3.45"/><circle class="s" cx="1148.6" cy="646.8" r="3.45"/><circle class="s" cx="1149.6" cy="645.1" r="3.45"/><circle cx="1150.0" cy="646.2" r="3.45"/><circle class="s" cx="1151.0" cy="645.6" r="3.45"/><circle class="s" cx="1152.0" cy="646.3" r="3.45"/><circle class="s" cx="1153.0" cy="644.9" r="3.45"/><circle class="s" cx="1153.9" cy="646.5" r="3.45"/><circle class="s" cx="1154.9" cy="644.5" r="3.45"/><circle class="s" cx="1155.9" cy="646.1" r="3.45"/><circle class="s" cx="1156.9" cy="644.3" r="3.45"/><circle class="s" cx="1157.9" cy="645.7" r="3.45"/><circle class="s" cx="1158.9" cy="645.5" r="3.45"/><circle class="s" cx="1159.9" cy="644.1" r="3.45"/><circle cx="1160.0" cy="644.5" r="3.45"/><circle class="s" cx="1161.0" cy="645.3" r="3.45"/><circle class="s" cx="1162.0" cy="643.4" r="3.45"/><circle class="s" cx="1163.0" cy="644.9" r="3.45"/><circle class="s" cx="1164.0" cy="643.6" r="3.45"/><circle class="s" cx="1164.9" cy="643.6" r="3.45"/><circle class="s" cx="1165.9" cy="642.7" r="3.45"/><circle class="s" cx="1166.9" cy="643.7" r="3.45"/><circle class="s" cx="1167.9" cy="642.8" r="3.45"/><circle class="s" cx="1168.9" cy="643.6" r="3.45"/><circle class="s" cx="1169.9" cy="643.7" r="3.45"/><circle cx="1170.0" cy="643.0" r="3.45"/><circle class="s" cx="1171.0" cy="643.2" r="3.45"/><circle class="s" cx="1172.0" cy="641.6" r="3.45"/><circle class="s" cx="1173.0" cy="643.8" r="3.45"/><circle class="s" cx="1174.0" cy="643.7" r="3.45"/><circle class="s" cx="1175.0" cy="642.9" r="3.45"/><circle class="s" cx="1176.0" cy="642.2" r="3.45"/><circle class="s" cx="1177.0" cy="642.6" r="3.45"/><circle class="s" cx="1178.0" cy="643.2" r="3.45"/><circle class="s" cx="1179.0" cy="642.1" r="3.45"/><circle class="s" cx="1180.0" cy="642.8" r="3.45"/><circle cx="1180.5" cy="642.1" r="3.45"/><circle class="s" cx="1181.5" cy="642.1" r="3.45"/><circle class="s" cx="1182.5" cy="641.5" r="3.45"/><circle class="s" cx="1183.4" cy="642.5" r="3.45"/><circle class="s" cx="1184.4" cy="641.0" r="3.45"/><circle class="s" cx="1185.4" cy="641.3" r="3.45"/><circle class="s" cx="1186.4" cy="639.7" r="3.45"/><circle class="s" cx="1187.3" cy="640.5" r="3.45"/><circle class="s" cx="1188.3" cy="639.3" r="3.45"/><circle class="s" cx="1189.3" cy="640.6" r="3.45"/><circle cx="1190.0" cy="640.0" r="3.45"/><circle class="s" cx="1191.0" cy="638.6" r="3.45"/><circle class="s" cx="1191.9" cy="638.4" r="3.45"/><circle class="s" cx="1192.9" cy="638.3" r="3.45"/><circle class="s" cx="1193.9" cy="638.2" r="3.45"/><circle class="s" cx="1194.9" cy="638.8" r="3.45"/><circle class="s" cx="1195.8" cy="638.2" r="3.45"/><circle class="s" cx="1196.8" cy="637.8" r="3.45"/><circle class="s" cx="1197.8" cy="639.2" r="3.45"/><circle class="s" cx="1198.7" cy="638.8" r="3.45"/><circle class="s" cx="1199.7" cy="637.9" r="3.45"/><circle cx="1200.0" cy="637.5" r="3.45"/><circle class="s" cx="1201.0" cy="638.1" r="3.45"/><circle class="s" cx="1202.0" cy="637.9" r="3.45"/><circle class="s" cx="1203.0" cy="636.4" r="3.45"/><circle class="s" cx="1203.9" cy="637.6" r="3.45"/><circle class="s" cx="1204.9" cy="636.1" r="3.45"/><circle class="s" cx="1205.9" cy="636.7" r="3.45"/><circle class="s" cx="1206.9" cy="636.0" r="3.45"/><circle class="s" cx="1207.9" cy="635.4" r="3.45"/><circle class="s" cx="1208.9" cy="636.7" r="3.45"/><circle class="s" cx="1209.9" cy="636.9" r="3.45"/><circle class="s" cx="1210.9" cy="635.3" r="3.45"/><circle cx="1211.0" cy="635.7" r="3.45"/><circle class="s" cx="1212.0" cy="636.6" r="3.45"/><circle class="s" cx="1213.0" cy="635.3" r="3.45"/><circle class="s" cx="1214.0" cy="636.0" r="3.45"/><circle class="s" cx="1215.0" cy="636.8" r="3.45"/><circle class="s" cx="1216.0" cy="636.2" r="3.45"/><circle class="s" cx="1217.0" cy="634.5" r="3.45"/><circle class="s" cx="1218.0" cy="635.4" r="3.45"/><circle class="s" cx="1219.0" cy="635.2" r="3.45"/><circle class="s" cx="1220.0" cy="635.0" r="3.45"/><circle cx="1220.0" cy="635.5" r="3.45"/><circle class="s" cx="1221.0" cy="636.3" r="3.45"/><circle class="s" cx="1222.0" cy="635.5" r="3.45"/><circle class="s" cx="1223.0" cy="636.1" r="3.45"/><circle class="s" cx="1224.0" cy="636.0" r="3.45"/><circle class="s" cx="1225.0" cy="635.8" r="3.45"/><circle class="s" cx="1226.0" cy="634.7" r="3.45"/><circle class="s" cx="1227.0" cy="636.3" r="3.45"/><circle class="s" cx="1228.0" cy="636.8" r="3.45"/><circle class="s" cx="1229.0" cy="635.2" r="3.45"/><circle class="s" cx="1230.0" cy="636.3" r="3.45"/><circle cx="1230.0" cy="636.0" r="3.45"/><circle class="s" cx="1231.0" cy="635.9" r="3.45"/><circle class="s" cx="1232.0" cy="635.6" r="3.45"/><circle class="s" cx="1233.0" cy="636.4" r="3.45"/><circle class="s" cx="1234.0" cy="637.0" r="3.45"/><circle class="s" cx="1235.0" cy="634.7" r="3.45"/><circle class="s" cx="1236.0" cy="636.8" r="3.45"/><circle cx="1236.0" cy="635.8" r="3.45"/><circle class="s" cx="1237.0" cy="635.6" r="3.45"/><circle class="s" cx="1238.0" cy="636.7" r="3.45"/><circle class="s" cx="1239.0" cy="635.1" r="3.45"/><circle class="s" cx="1240.0" cy="636.5" r="3.45"/><circle class="s" cx="1241.0" cy="635.0" r="3.45"/><circle class="s" cx="1242.0" cy="635.6" r="3.45"/><circle cx="1242.0" cy="636.0" r="3.45"/><circle class="s" cx="1243.0" cy="637.2" r="3.45"/><circle class="s" cx="1244.0" cy="636.5" r="3.45"/><circle class="s" cx="1245.0" cy="636.8" r="3.45"/><circle class="s" cx="1246.0" cy="636.1" r="3.45"/><circle class="s" cx="1247.0" cy="636.2" r="3.45"/><circle class="s" cx="1248.0" cy="636.2" r="3.45"/><circle cx="1248.8" cy="636.3" r="3.45"/></g>
<g fill="#ffffff" stroke="#00ffff" stroke-width="2.4" style="--c:#00ffff"><circle cx="31.5" cy="316.0" r="3.45"/><circle class="s" cx="32.5" cy="315.3" r="3.45"/><circle class="s" cx="33.5" cy="317.3" r="3.45"/><circle class="s" cx="34.4" cy="317.3" r="3.45"/><circle class="s" cx="35.4" cy="316.2" r="3.45"/><circle class="s" cx="36.4" cy="317.1" r="3.45"/><circle class="s" cx="37.4" cy="317.2" r="3.45"/><circle class="s" cx="38.3" cy="317.9" r="3.45"/><circle class="s" cx="39.3" cy="318.5" r="3.45"/><circle class="s" cx="40.3" cy="316.9" r="3.45"/><circle class="s" cx="41.3" cy="317.0" r="3.45"/><circle class="s" cx="42.2" cy="319.3" r="3.45"/><circle class="s" cx="43.2" cy="318.4" r="3.45"/><circle class="s" cx="44.2" cy="319.5" r="3.45"/><circle class="s" cx="45.2" cy="317.8" r="3.45"/><circle class="s" cx="46.1" cy="319.1" r="3.45"/><circle class="s" cx="47.1" cy="320.1" r="3.45"/><circle class="s" cx="48.1" cy="319.0" r="3.45"/><circle class="s" cx="49.1" cy="321.1" r="3.45"/><circle class="s" cx="50.0" cy="321.2" r="3.45"/><circle class="s" cx="51.0" cy="319.1" r="3.45"/><circle class="s" cx="52.0" cy="319.4" r="3.45"/><circle class="s" cx="53.0" cy="320.9" r="3.45"/><circle class="s" cx="53.9" cy="322.2" r="3.45"/><circle class="s" cx="54.9" cy="320.9" r="3.45"/><circle class="s" cx="55.9" cy="320.7" r="3.45"/><circle class="s" cx="56.9" cy="321.5" r="3.45"/><circle class="s" cx="57.8" cy="320.7" r="3.45"/><circle class="s" cx="58.8" cy="321.4" r="3.45"/><circle class="s" cx="59.8" cy="322.2" r="3.45"/><circle class="s" cx="60.8" cy="322.5" r="3.45"/><circle class="s" cx="61.8" cy="322.1" r="3.45"/><circle class="s" cx="62.7" cy="322.3" r="3.45"/><circle class="s" cx="63.7" cy="322.5" r="3.45"/><circle class="s" cx="64.7" cy="323.3" r="3.45"/><circle cx="65.0" cy="323.5" r="3.45"/><circle class="s" cx="66.0" cy="323.2" r="3.45"/><circle class="s" cx="66.9" cy="322.7" r="3.45"/><circle class="s" cx="67.9" cy="325.1" r="3.45"/><circle class="s" cx="68.9" cy="324.6" r="3.45"/><circle class="s" cx="69.9" cy="325.1" r="3.45"/><circle class="s" cx="70.8" cy="324.1" r="3.45"/><circle class="s" cx="71.8" cy="326.5" r="3.45"/><circle class="s" cx="72.8" cy="326.4" r="3.45"/><circle class="s" cx="73.7" cy="324.7" r="3.45"/><circle class="s" cx="74.7" cy="325.5" r="3.45"/><circle class="s" cx="75.7" cy="326.7" r="3.45"/><circle class="s" cx="76.6" cy="327.0" r="3.45"/><circle class="s" cx="77.6" cy="327.8" r="3.45"/><circle class="s" cx="78.6" cy="326.7" r="3.45"/><circle class="s" cx="79.6" cy="328.0" r="3.45"/><circle class="s" cx="80.5" cy="327.8" r="3.45"/><circle class="s" cx="81.5" cy="327.1" r="3.45"/><circle class="s" cx="82.5" cy="328.1" r="3.45"/><circle class="s" cx="83.4" cy="329.1" r="3.45"/><circle class="s" cx="84.4" cy="329.3" r="3.45"/><circle class="s" cx="85.4" cy="328.6" r="3.45"/><circle class="s" cx="86.3" cy="329.1" r="3.45"/><circle class="s" cx="87.3" cy="327.9" r="3.45"/><circle class="s" cx="88.3" cy="328.7" r="3.45"/><circle class="s" cx="89.3" cy="330.3" r="3.45"/><circle class="s" cx="90.2" cy="329.6" r="3.45"/><circle class="s" cx="91.2" cy="329.2" r="3.45"/><circle class="s" cx="92.2" cy="330.4" r="3.45"/><circle class="s" cx="93.1" cy="331.1" r="3.45"/><circle class="s" cx="94.1" cy="331.2" r="3.45"/><circle class="s" cx="95.1" cy="330.7" r="3.45"/><circle class="s" cx="96.0" cy="331.1" r="3.45"/><circle class="s" cx="97.0" cy="331.5" r="3.45"/><circle class="s" cx="98.0" cy="332.5" r="3.45"/><circle class="s" cx="99.0" cy="332.0" r="3.45"/><circle class="s" cx="99.9" cy="332.0" r="3.45"/><circle class="s" cx="100.9" cy="332.4" r="3.45"/><circle class="s" cx="101.9" cy="331.5" r="3.45"/><circle class="s" cx="102.8" cy="331.8" r="3.45"/><circle class="s" cx="103.8" cy="333.7" r="3.45"/><circle class="s" cx="104.8" cy="334.7" r="3.45"/><circle cx="105.0" cy="333.5" r="3.45"/><circle class="s" cx="105.9" cy="334.1" r="3.45"/><circle class="s" cx="106.8" cy="334.0" r="3.45"/><circle class="s" cx="107.8" cy="333.8" r="3.45"/><circle class="s" cx="108.7" cy="335.1" r="3.45"/><circle class="s" cx="109.6" cy="336.7" r="3.45"/><circle class="s" cx="110.5" cy="336.6" r="3.45"/><circle class="s" cx="111.4" cy="336.4" r="3.45"/><circle cx="112.0" cy="336.5" r="3.45"/><circle class="s" cx="112.6" cy="338.2" r="3.45"/><circle class="s" cx="113.3" cy="337.3" r="3.45"/><circle class="s" cx="113.9" cy="338.8" r="3.45"/><circle cx="114.5" cy="339.5" r="3.45"/><circle cx="115.5" cy="336.0" r="3.45"/><circle cx="115.9" cy="332.0" r="3.45"/><circle cx="116.3" cy="328.0" r="3.45"/><circle cx="116.5" cy="326.0" r="3.45"/><circle cx="116.9" cy="322.0" r="3.45"/><circle cx="117.3" cy="318.0" r="3.45"/><circle cx="117.5" cy="316.0" r="3.45"/><circle cx="117.9" cy="312.0" r="3.45"/><circle cx="118.3" cy="308.0" r="3.45"/><circle cx="118.5" cy="306.0" r="3.45"/><circle cx="119.0" cy="302.0" r="3.45"/><circle cx="119.5" cy="298.1" r="3.45"/><circle cx="119.5" cy="298.0" r="3.45"/><circle cx="120.6" cy="294.2" r="3.45"/><circle cx="121.0" cy="293.0" r="3.45"/><circle class="s" cx="122.0" cy="294.2" r="3.45"/><circle class="s" cx="123.0" cy="293.2" r="3.45"/><circle cx="124.0" cy="293.0" r="3.45"/><circle class="s" cx="124.6" cy="293.7" r="3.45"/><circle cx="125.0" cy="294.5" r="3.45"/><circle class="s" cx="126.0" cy="294.1" r="3.45"/><circle class="s" cx="127.0" cy="295.0" r="3.45"/><circle class="s" cx="127.9" cy="296.3" r="3.45"/><circle class="s" cx="128.9" cy="294.0" r="3.45"/><circle class="s" cx="129.9" cy="296.2" r="3.45"/><circle class="s" cx="130.9" cy="296.5" r="3.45"/><circle class="s" cx="131.9" cy="296.9" r="3.45"/><circle class="s" cx="132.8" cy="296.7" r="3.45"/><circle class="s" cx="133.8" cy="297.1" r="3.45"/><circle class="s" cx="134.8" cy="296.5" r="3.45"/><circle class="s" cx="135.8" cy="296.8" r="3.45"/><circle class="s" cx="136.8" cy="296.7" r="3.45"/><circle class="s" cx="137.7" cy="295.9" r="3.45"/><circle class="s" cx="138.7" cy="298.2" r="3.45"/><circle class="s" cx="139.7" cy="297.6" r="3.45"/><circle class="s" cx="140.7" cy="296.9" r="3.45"/><circle class="s" cx="141.7" cy="297.8" r="3.45"/><circle class="s" cx="142.7" cy="298.0" r="3.45"/><circle class="s" cx="143.6" cy="297.9" r="3.45"/><circle class="s" cx="144.6" cy="298.0" r="3.45"/><circle class="s" cx="145.6" cy="298.7" r="3.45"/><circle class="s" cx="146.6" cy="299.1" r="3.45"/><circle class="s" cx="147.6" cy="299.3" r="3.45"/><circle class="s" cx="148.5" cy="299.1" r="3.45"/><circle class="s" cx="149.5" cy="298.2" r="3.45"/><circle class="s" cx="150.5" cy="298.9" r="3.45"/><circle class="s" cx="151.5" cy="299.0" r="3.45"/><circle class="s" cx="152.5" cy="300.2" r="3.45"/><circle class="s" cx="153.4" cy="301.1" r="3.45"/><circle class="s" cx="154.4" cy="301.2" r="3.45"/><circle cx="155.0" cy="300.5" r="3.45"/><circle class="s" cx="155.9" cy="301.6" r="3.45"/><circle class="s" cx="156.9" cy="302.0" r="3.45"/><circle class="s" cx="157.8" cy="300.8" r="3.45"/><circle class="s" cx="158.8" cy="302.7" r="3.45"/><circle class="s" cx="159.7" cy="302.5" r="3.45"/><circle class="s" cx="160.7" cy="301.3" r="3.45"/><circle class="s" cx="161.6" cy="301.5" r="3.45"/><circle class="s" cx="162.6" cy="301.8" r="3.45"/><circle class="s" cx="163.5" cy="304.0" r="3.45"/><circle class="s" cx="164.5" cy="303.0" r="3.45"/><circle class="s" cx="165.4" cy="303.0" r="3.45"/><circle class="s" cx="166.4" cy="304.6" r="3.45"/><circle class="s" cx="167.3" cy="304.2" r="3.45"/><circle class="s" cx="168.3" cy="303.8" r="3.45"/><circle class="s" cx="169.2" cy="304.4" r="3.45"/><circle class="s" cx="170.2" cy="305.6" r="3.45"/><circle class="s" cx="171.1" cy="305.0" r="3.45"/><circle class="s" cx="172.1" cy="305.6" r="3.45"/><circle class="s" cx="173.0" cy="307.1" r="3.45"/><circle class="s" cx="174.0" cy="306.7" r="3.45"/><circle class="s" cx="174.9" cy="306.7" r="3.45"/><circle class="s" cx="175.9" cy="307.4" r="3.45"/><circle class="s" cx="176.8" cy="306.5" r="3.45"/><circle class="s" cx="177.8" cy="307.8" r="3.45"/><circle class="s" cx="178.7" cy="308.2" r="3.45"/><circle class="s" cx="179.7" cy="307.9" r="3.45"/><circle class="s" cx="180.6" cy="308.0" r="3.45"/><circle class="s" cx="181.6" cy="310.4" r="3.45"/><circle class="s" cx="182.5" cy="309.7" r="3.45"/><circle class="s" cx="183.5" cy="309.2" r="3.45"/><circle class="s" cx="184.4" cy="310.6" r="3.45"/><circle cx="185.0" cy="310.5" r="3.45"/><circle class="s" cx="186.0" cy="311.6" r="3.45"/><circle class="s" cx="186.9" cy="309.9" r="3.45"/><circle class="s" cx="187.9" cy="310.1" r="3.45"/><circle class="s" cx="188.8" cy="310.8" r="3.45"/><circle class="s" cx="189.8" cy="312.6" r="3.45"/><circle class="s" cx="190.7" cy="311.4" r="3.45"/><circle class="s" cx="191.7" cy="313.1" r="3.45"/><circle class="s" cx="192.6" cy="313.3" r="3.45"/><circle class="s" cx="193.6" cy="313.3" r="3.45"/><circle class="s" cx="194.5" cy="312.8" r="3.45"/><circle class="s" cx="195.5" cy="315.0" r="3.45"/><circle class="s" cx="196.5" cy="314.9" r="3.45"/><circle class="s" cx="197.4" cy="314.4" r="3.45"/><circle class="s" cx="198.4" cy="314.0" r="3.45"/><circle class="s" cx="199.3" cy="315.4" r="3.45"/><circle class="s" cx="200.3" cy="315.0" r="3.45"/><circle class="s" cx="201.2" cy="315.8" r="3.45"/><circle class="s" cx="202.2" cy="315.4" r="3.45"/><circle class="s" cx="203.1" cy="316.5" r="3.45"/><circle class="s" cx="204.1" cy="315.3" r="3.45"/><circle class="s" cx="205.0" cy="316.2" r="3.45"/><circle class="s" cx="206.0" cy="318.3" r="3.45"/><circle class="s" cx="207.0" cy="318.3" r="3.45"/><circle class="s" cx="207.9" cy="317.2" r="3.45"/><circle class="s" cx="208.9" cy="318.9" r="3.45"/><circle class="s" cx="209.8" cy="317.8" r="3.45"/><circle class="s" cx="210.8" cy="319.7" r="3.45"/><circle class="s" cx="211.7" cy="319.5" r="3.45"/><circle class="s" cx="212.7" cy="318.9" r="3.45"/><circle class="s" cx="213.6" cy="318.8" r="3.45"/><circle class="s" cx="214.6" cy="318.5" r="3.45"/><circle class="s" cx="215.5" cy="321.0" r="3.45"/><circle class="s" cx="216.5" cy="319.1" r="3.45"/><circle class="s" cx="217.5" cy="321.5" r="3.45"/><circle class="s" cx="218.4" cy="322.1" r="3.45"/><circle class="s" cx="219.4" cy="321.4" r="3.45"/><circle class="s" cx="220.3" cy="320.7" r="3.45"/><circle class="s" cx="221.3" cy="322.8" r="3.45"/><circle class="s" cx="222.2" cy="323.4" r="3.45"/><circle class="s" cx="223.2" cy="323.0" r="3.45"/><circle class="s" cx="224.1" cy="322.8" r="3.45"/><circle cx="225.0" cy="323.0" r="3.45"/><circle class="s" cx="226.0" cy="322.9" r="3.45"/><circle class="s" cx="226.9" cy="323.1" r="3.45"/><circle class="s" cx="227.9" cy="323.0" r="3.45"/><circle class="s" cx="228.9" cy="324.5" r="3.45"/><circle class="s" cx="229.8" cy="324.1" r="3.45"/><circle class="s" cx="230.8" cy="323.8" r="3.45"/><circle class="s" cx="231.8" cy="323.8" r="3.45"/><circle class="s" cx="232.7" cy="325.5" r="3.45"/><circle class="s" cx="233.7" cy="324.8" r="3.45"/><circle class="s" cx="234.7" cy="325.6" r="3.45"/><circle class="s" cx="235.6" cy="325.4" r="3.45"/><circle class="s" cx="236.6" cy="327.1" r="3.45"/><circle class="s" cx="237.6" cy="327.4" r="3.45"/><circle class="s" cx="238.5" cy="325.4" r="3.45"/><circle class="s" cx="239.5" cy="326.1" r="3.45"/><circle class="s" cx="240.4" cy="326.7" r="3.45"/><circle class="s" cx="241.4" cy="328.7" r="3.45"/><circle class="s" cx="242.4" cy="328.4" r="3.45"/><circle class="s" cx="243.3" cy="327.5" r="3.45"/><circle class="s" cx="244.3" cy="327.5" r="3.45"/><circle class="s" cx="245.3" cy="328.9" r="3.45"/><circle class="s" cx="246.2" cy="329.6" r="3.45"/><circle class="s" cx="247.2" cy="330.1" r="3.45"/><circle class="s" cx="248.2" cy="328.8" r="3.45"/><circle class="s" cx="249.1" cy="330.5" r="3.45"/><circle cx="250.0" cy="329.8" r="3.45"/><circle class="s" cx="251.0" cy="330.5" r="3.45"/><circle class="s" cx="251.9" cy="330.3" r="3.45"/><circle class="s" cx="252.9" cy="331.8" r="3.45"/><circle class="s" cx="253.8" cy="330.2" r="3.45"/><circle class="s" cx="254.8" cy="331.7" r="3.45"/><circle class="s" cx="255.8" cy="330.3" r="3.45"/><circle class="s" cx="256.7" cy="330.8" r="3.45"/><circle class="s" cx="257.7" cy="333.0" r="3.45"/><circle class="s" cx="258.7" cy="331.5" r="3.45"/><circle class="s" cx="259.6" cy="333.1" r="3.45"/><circle class="s" cx="260.6" cy="333.0" r="3.45"/><circle class="s" cx="261.5" cy="333.9" r="3.45"/><circle class="s" cx="262.5" cy="333.0" r="3.45"/><circle class="s" cx="263.5" cy="333.2" r="3.45"/><circle class="s" cx="264.4" cy="333.3" r="3.45"/><circle cx="265.0" cy="334.0" r="3.45"/><circle class="s" cx="266.0" cy="335.2" r="3.45"/><circle class="s" cx="266.9" cy="334.8" r="3.45"/><circle class="s" cx="267.9" cy="336.0" r="3.45"/><circle class="s" cx="268.9" cy="336.1" r="3.45"/><circle class="s" cx="269.8" cy="334.4" r="3.45"/><circle class="s" cx="270.8" cy="335.8" r="3.45"/><circle class="s" cx="271.7" cy="334.9" r="3.45"/><circle class="s" cx="272.7" cy="335.0" r="3.45"/><circle class="s" cx="273.7" cy="335.3" r="3.45"/><circle class="s" cx="274.6" cy="337.7" r="3.45"/><circle class="s" cx="275.6" cy="337.7" r="3.45"/><circle class="s" cx="276.6" cy="338.1" r="3.45"/><circle class="s" cx="277.5" cy="337.1" r="3.45"/><circle class="s" cx="278.5" cy="338.1" r="3.45"/><circle class="s" cx="279.4" cy="338.8" r="3.45"/><circle class="s" cx="280.4" cy="338.0" r="3.45"/><circle cx="281.0" cy="338.5" r="3.45"/><circle class="s" cx="282.0" cy="338.9" r="3.45"/><circle class="s" cx="283.0" cy="338.2" r="3.45"/><circle class="s" cx="283.9" cy="338.0" r="3.45"/><circle class="s" cx="284.9" cy="338.7" r="3.45"/><circle class="s" cx="285.9" cy="340.6" r="3.45"/><circle class="s" cx="286.9" cy="339.9" r="3.45"/><circle class="s" cx="287.8" cy="341.1" r="3.45"/><circle class="s" cx="288.8" cy="340.1" r="3.45"/><circle class="s" cx="289.8" cy="339.8" r="3.45"/><circle class="s" cx="290.8" cy="341.3" r="3.45"/><circle class="s" cx="291.8" cy="341.6" r="3.45"/><circle class="s" cx="292.7" cy="339.7" r="3.45"/><circle class="s" cx="293.7" cy="341.6" r="3.45"/><circle class="s" cx="294.7" cy="340.3" r="3.45"/><circle class="s" cx="295.7" cy="340.6" r="3.45"/><circle class="s" cx="296.7" cy="342.8" r="3.45"/><circle class="s" cx="297.6" cy="340.8" r="3.45"/><circle class="s" cx="298.6" cy="341.6" r="3.45"/><circle class="s" cx="299.6" cy="343.7" r="3.45"/><circle class="s" cx="300.6" cy="342.5" r="3.45"/><circle class="s" cx="301.5" cy="341.9" r="3.45"/><circle class="s" cx="302.5" cy="342.2" r="3.45"/><circle class="s" cx="303.5" cy="342.6" r="3.45"/><circle class="s" cx="304.5" cy="344.1" r="3.45"/><circle class="s" cx="305.5" cy="342.7" r="3.45"/><circle class="s" cx="306.4" cy="345.0" r="3.45"/><circle class="s" cx="307.4" cy="343.8" r="3.45"/><circle class="s" cx="308.4" cy="345.5" r="3.45"/><circle class="s" cx="309.4" cy="345.6" r="3.45"/><circle class="s" cx="310.3" cy="344.2" r="3.45"/><circle class="s" cx="311.3" cy="344.3" r="3.45"/><circle class="s" cx="312.3" cy="345.1" r="3.45"/><circle class="s" cx="313.3" cy="344.3" r="3.45"/><circle class="s" cx="314.3" cy="346.0" r="3.45"/><circle class="s" cx="315.2" cy="344.6" r="3.45"/><circle class="s" cx="316.2" cy="344.7" r="3.45"/><circle class="s" cx="317.2" cy="347.4" r="3.45"/><circle class="s" cx="318.2" cy="345.9" r="3.45"/><circle class="s" cx="319.1" cy="346.9" r="3.45"/><circle class="s" cx="320.1" cy="346.7" r="3.45"/><circle cx="321.0" cy="347.0" r="3.45"/><circle class="s" cx="322.0" cy="346.8" r="3.45"/><circle class="s" cx="322.9" cy="346.3" r="3.45"/><circle class="s" cx="323.9" cy="348.8" r="3.45"/><circle class="s" cx="324.9" cy="349.2" r="3.45"/><circle class="s" cx="325.9" cy="349.4" r="3.45"/><circle class="s" cx="326.8" cy="347.4" r="3.45"/><circle class="s" cx="327.8" cy="348.0" r="3.45"/><circle class="s" cx="328.8" cy="349.2" r="3.45"/><circle class="s" cx="329.7" cy="350.4" r="3.45"/><circle class="s" cx="330.7" cy="349.5" r="3.45"/><circle class="s" cx="331.7" cy="350.2" r="3.45"/><circle class="s" cx="332.6" cy="350.3" r="3.45"/><circle class="s" cx="333.6" cy="349.5" r="3.45"/><circle class="s" cx="334.6" cy="350.5" r="3.45"/><circle class="s" cx="335.6" cy="350.1" r="3.45"/><circle class="s" cx="336.5" cy="350.2" r="3.45"/><circle class="s" cx="337.5" cy="350.0" r="3.45"/><circle class="s" cx="338.5" cy="350.8" r="3.45"/><circle class="s" cx="339.4" cy="352.9" r="3.45"/><circle class="s" cx="340.4" cy="351.7" r="3.45"/><circle class="s" cx="341.4" cy="352.5" r="3.45"/><circle class="s" cx="342.3" cy="352.7" r="3.45"/><circle class="s" cx="343.3" cy="353.7" r="3.45"/><circle class="s" cx="344.3" cy="352.5" r="3.45"/><circle class="s" cx="345.3" cy="352.6" r="3.45"/><circle class="s" cx="346.2" cy="352.9" r="3.45"/><circle class="s" cx="347.2" cy="353.1" r="3.45"/><circle class="s" cx="348.2" cy="354.7" r="3.45"/><circle class="s" cx="349.1" cy="355.1" r="3.45"/><circle class="s" cx="350.1" cy="353.8" r="3.45"/><circle class="s" cx="351.1" cy="354.1" r="3.45"/><circle class="s" cx="352.0" cy="354.9" r="3.45"/><circle class="s" cx="353.0" cy="355.2" r="3.45"/><circle class="s" cx="354.0" cy="355.5" r="3.45"/><circle class="s" cx="355.0" cy="354.8" r="3.45"/><circle class="s" cx="355.9" cy="354.5" r="3.45"/><circle class="s" cx="356.9" cy="355.3" r="3.45"/><circle class="s" cx="357.9" cy="355.1" r="3.45"/><circle class="s" cx="358.8" cy="356.6" r="3.45"/><circle class="s" cx="359.8" cy="355.6" r="3.45"/><circle class="s" cx="360.8" cy="355.8" r="3.45"/><circle cx="361.0" cy="357.0" r="3.45"/><circle class="s" cx="362.0" cy="357.5" r="3.45"/><circle class="s" cx="363.0" cy="356.8" r="3.45"/><circle class="s" cx="363.9" cy="358.3" r="3.45"/><circle class="s" cx="364.9" cy="357.8" r="3.45"/><circle class="s" cx="365.9" cy="358.9" r="3.45"/><circle class="s" cx="366.9" cy="357.3" r="3.45"/><circle class="s" cx="367.9" cy="358.4" r="3.45"/><circle class="s" cx="368.8" cy="359.3" r="3.45"/><circle class="s" cx="369.8" cy="357.7" r="3.45"/><circle class="s" cx="370.8" cy="360.1" r="3.45"/><circle class="s" cx="371.8" cy="358.3" r="3.45"/><circle class="s" cx="372.8" cy="360.1" r="3.45"/><circle class="s" cx="373.7" cy="360.8" r="3.45"/><circle class="s" cx="374.7" cy="360.6" r="3.45"/><circle class="s" cx="375.7" cy="359.5" r="3.45"/><circle class="s" cx="376.7" cy="359.1" r="3.45"/><circle class="s" cx="377.7" cy="360.4" r="3.45"/><circle class="s" cx="378.7" cy="361.6" r="3.45"/><circle class="s" cx="379.6" cy="360.2" r="3.45"/><circle class="s" cx="380.6" cy="361.9" r="3.45"/><circle class="s" cx="381.6" cy="360.2" r="3.45"/><circle class="s" cx="382.6" cy="362.4" r="3.45"/><circle class="s" cx="383.6" cy="360.3" r="3.45"/><circle class="s" cx="384.5" cy="361.2" r="3.45"/><circle class="s" cx="385.5" cy="363.0" r="3.45"/><circle class="s" cx="386.5" cy="362.9" r="3.45"/><circle class="s" cx="387.5" cy="363.4" r="3.45"/><circle class="s" cx="388.5" cy="363.4" r="3.45"/><circle class="s" cx="389.4" cy="363.3" r="3.45"/><circle class="s" cx="390.4" cy="363.4" r="3.45"/><circle class="s" cx="391.4" cy="362.2" r="3.45"/><circle class="s" cx="392.4" cy="363.1" r="3.45"/><circle class="s" cx="393.4" cy="362.6" r="3.45"/><circle class="s" cx="394.3" cy="364.2" r="3.45"/><circle class="s" cx="395.3" cy="364.3" r="3.45"/><circle class="s" cx="396.3" cy="363.4" r="3.45"/><circle class="s" cx="397.3" cy="363.1" r="3.45"/><circle class="s" cx="398.3" cy="365.7" r="3.45"/><circle class="s" cx="399.2" cy="365.4" r="3.45"/><circle class="s" cx="400.2" cy="365.0" r="3.45"/><circle cx="401.0" cy="365.0" r="3.45"/><circle class="s" cx="402.0" cy="365.3" r="3.45"/><circle class="s" cx="403.0" cy="366.2" r="3.45"/><circle class="s" cx="404.0" cy="365.4" r="3.45"/><circle class="s" cx="404.9" cy="365.4" r="3.45"/><circle class="s" cx="405.9" cy="365.4" r="3.45"/><circle class="s" cx="406.9" cy="365.4" r="3.45"/><circle class="s" cx="407.9" cy="364.9" r="3.45"/><circle class="s" cx="408.9" cy="366.7" r="3.45"/><circle class="s" cx="409.9" cy="366.3" r="3.45"/><circle class="s" cx="410.9" cy="366.8" r="3.45"/><circle class="s" cx="411.9" cy="365.7" r="3.45"/><circle class="s" cx="412.8" cy="366.6" r="3.45"/><circle class="s" cx="413.8" cy="366.2" r="3.45"/><circle class="s" cx="414.8" cy="366.3" r="3.45"/><circle class="s" cx="415.8" cy="366.8" r="3.45"/><circle class="s" cx="416.8" cy="368.5" r="3.45"/><circle class="s" cx="417.8" cy="367.5" r="3.45"/><circle class="s" cx="418.8" cy="367.7" r="3.45"/><circle class="s" cx="419.7" cy="368.4" r="3.45"/><circle class="s" cx="420.7" cy="367.6" r="3.45"/><circle class="s" cx="421.7" cy="367.2" r="3.45"/><circle class="s" cx="422.7" cy="368.7" r="3.45"/><circle class="s" cx="423.7" cy="368.8" r="3.45"/><circle class="s" cx="424.7" cy="369.3" r="3.45"/><circle cx="425.0" cy="369.0" r="3.45"/><circle class="s" cx="426.0" cy="368.9" r="3.45"/><circle class="s" cx="427.0" cy="369.7" r="3.45"/><circle class="s" cx="428.0" cy="369.9" r="3.45"/><circle class="s" cx="429.0" cy="368.7" r="3.45"/><circle class="s" cx="430.0" cy="369.5" r="3.45"/><circle cx="430.0" cy="369.5" r="3.45"/><circle cx="430.9" cy="365.6" r="3.45"/><circle cx="431.0" cy="365.0" r="3.45"/><circle cx="431.6" cy="361.0" r="3.45"/><circle cx="432.2" cy="357.1" r="3.45"/><circle cx="432.5" cy="355.0" r="3.45"/><circle cx="432.9" cy="351.0" r="3.45"/><circle cx="433.3" cy="347.0" r="3.45"/><circle cx="433.7" cy="343.1" r="3.45"/><circle cx="433.8" cy="342.5" r="3.45"/><circle cx="434.1" cy="338.5" r="3.45"/><circle cx="434.5" cy="334.5" r="3.45"/><circle cx="434.9" cy="330.6" r="3.45"/><circle cx="435.0" cy="330.0" r="3.45"/><circle cx="435.4" cy="326.0" r="3.45"/><circle cx="435.8" cy="322.0" r="3.45"/><circle cx="436.2" cy="318.1" r="3.45"/><circle cx="436.2" cy="317.5" r="3.45"/><circle cx="436.7" cy="313.5" r="3.45"/><circle cx="437.2" cy="309.6" r="3.45"/><circle cx="437.5" cy="307.5" r="3.45"/><circle cx="438.2" cy="303.6" r="3.45"/><circle cx="438.8" cy="300.0" r="3.45"/><circle cx="440.0" cy="296.2" r="3.45"/><circle cx="441.0" cy="293.0" r="3.45"/><circle class="s" cx="442.0" cy="292.8" r="3.45"/><circle class="s" cx="443.0" cy="292.0" r="3.45"/><circle class="s" cx="444.0" cy="292.3" r="3.45"/><circle cx="444.0" cy="292.5" r="3.45"/><circle class="s" cx="444.9" cy="293.1" r="3.45"/><circle class="s" cx="445.8" cy="294.3" r="3.45"/><circle class="s" cx="446.8" cy="294.8" r="3.45"/><circle class="s" cx="447.7" cy="293.5" r="3.45"/><circle class="s" cx="448.6" cy="294.9" r="3.45"/><circle class="s" cx="449.5" cy="293.7" r="3.45"/><circle class="s" cx="450.4" cy="294.1" r="3.45"/><circle cx="451.0" cy="295.5" r="3.45"/><circle class="s" cx="452.0" cy="295.8" r="3.45"/><circle class="s" cx="452.9" cy="297.0" r="3.45"/><circle class="s" cx="453.9" cy="295.4" r="3.45"/><circle class="s" cx="454.8" cy="297.3" r="3.45"/><circle class="s" cx="455.8" cy="297.9" r="3.45"/><circle class="s" cx="456.8" cy="296.6" r="3.45"/><circle class="s" cx="457.7" cy="297.9" r="3.45"/><circle class="s" cx="458.7" cy="298.6" r="3.45"/><circle class="s" cx="459.7" cy="297.6" r="3.45"/><circle class="s" cx="460.6" cy="298.7" r="3.45"/><circle class="s" cx="461.6" cy="299.1" r="3.45"/><circle class="s" cx="462.5" cy="299.0" r="3.45"/><circle class="s" cx="463.5" cy="300.0" r="3.45"/><circle class="s" cx="464.5" cy="300.3" r="3.45"/><circle class="s" cx="465.4" cy="300.8" r="3.45"/><circle class="s" cx="466.4" cy="300.0" r="3.45"/><circle class="s" cx="467.4" cy="299.3" r="3.45"/><circle class="s" cx="468.3" cy="299.8" r="3.45"/><circle class="s" cx="469.3" cy="299.9" r="3.45"/><circle class="s" cx="470.2" cy="301.1" r="3.45"/><circle class="s" cx="471.2" cy="301.9" r="3.45"/><circle class="s" cx="472.2" cy="300.3" r="3.45"/><circle class="s" cx="473.1" cy="302.2" r="3.45"/><circle class="s" cx="474.1" cy="302.6" r="3.45"/><circle class="s" cx="475.1" cy="301.9" r="3.45"/><circle class="s" cx="476.0" cy="302.6" r="3.45"/><circle class="s" cx="477.0" cy="302.0" r="3.45"/><circle class="s" cx="477.9" cy="303.7" r="3.45"/><circle class="s" cx="478.9" cy="302.2" r="3.45"/><circle class="s" cx="479.9" cy="304.9" r="3.45"/><circle class="s" cx="480.8" cy="304.8" r="3.45"/><circle cx="481.0" cy="304.0" r="3.45"/><circle class="s" cx="481.9" cy="304.7" r="3.45"/><circle class="s" cx="482.9" cy="304.1" r="3.45"/><circle class="s" cx="483.8" cy="306.1" r="3.45"/><circle class="s" cx="484.8" cy="306.5" r="3.45"/><circle class="s" cx="485.7" cy="304.7" r="3.45"/><circle class="s" cx="486.7" cy="306.7" r="3.45"/><circle class="s" cx="487.6" cy="307.2" r="3.45"/><circle class="s" cx="488.6" cy="307.1" r="3.45"/><circle class="s" cx="489.5" cy="307.5" r="3.45"/><circle class="s" cx="490.4" cy="307.2" r="3.45"/><circle class="s" cx="491.4" cy="308.7" r="3.45"/><circle class="s" cx="492.3" cy="309.2" r="3.45"/><circle class="s" cx="493.3" cy="308.0" r="3.45"/><circle class="s" cx="494.2" cy="309.4" r="3.45"/><circle class="s" cx="495.2" cy="308.8" r="3.45"/><circle class="s" cx="496.1" cy="308.4" r="3.45"/><circle class="s" cx="497.0" cy="309.2" r="3.45"/><circle class="s" cx="498.0" cy="309.0" r="3.45"/><circle class="s" cx="498.9" cy="311.3" r="3.45"/><circle class="s" cx="499.9" cy="311.8" r="3.45"/><circle class="s" cx="500.8" cy="309.9" r="3.45"/><circle class="s" cx="501.8" cy="311.5" r="3.45"/><circle class="s" cx="502.7" cy="311.4" r="3.45"/><circle class="s" cx="503.7" cy="310.9" r="3.45"/><circle class="s" cx="504.6" cy="311.7" r="3.45"/><circle class="s" cx="505.5" cy="311.9" r="3.45"/><circle class="s" cx="506.5" cy="313.6" r="3.45"/><circle class="s" cx="507.4" cy="312.0" r="3.45"/><circle class="s" cx="508.4" cy="312.8" r="3.45"/><circle class="s" cx="509.3" cy="313.8" r="3.45"/><circle class="s" cx="510.3" cy="313.0" r="3.45"/><circle cx="511.0" cy="314.5" r="3.45"/><circle class="s" cx="511.9" cy="315.2" r="3.45"/><circle class="s" cx="512.9" cy="315.4" r="3.45"/><circle class="s" cx="513.8" cy="316.4" r="3.45"/><circle class="s" cx="514.8" cy="315.0" r="3.45"/><circle class="s" cx="515.7" cy="315.6" r="3.45"/><circle class="s" cx="516.7" cy="316.6" r="3.45"/><circle class="s" cx="517.6" cy="316.2" r="3.45"/><circle class="s" cx="518.6" cy="317.3" r="3.45"/><circle class="s" cx="519.5" cy="316.8" r="3.45"/><circle class="s" cx="520.4" cy="318.2" r="3.45"/><circle class="s" cx="521.4" cy="318.9" r="3.45"/><circle class="s" cx="522.3" cy="319.2" r="3.45"/><circle class="s" cx="523.3" cy="320.0" r="3.45"/><circle class="s" cx="524.2" cy="319.2" r="3.45"/><circle class="s" cx="525.2" cy="319.4" r="3.45"/><circle class="s" cx="526.1" cy="320.7" r="3.45"/><circle class="s" cx="527.1" cy="320.8" r="3.45"/><circle class="s" cx="528.0" cy="320.6" r="3.45"/><circle class="s" cx="529.0" cy="320.4" r="3.45"/><circle class="s" cx="529.9" cy="320.5" r="3.45"/><circle class="s" cx="530.8" cy="320.4" r="3.45"/><circle class="s" cx="531.8" cy="322.5" r="3.45"/><circle class="s" cx="532.7" cy="321.0" r="3.45"/><circle class="s" cx="533.7" cy="323.0" r="3.45"/><circle class="s" cx="534.6" cy="322.8" r="3.45"/><circle class="s" cx="535.6" cy="324.2" r="3.45"/><circle class="s" cx="536.5" cy="324.0" r="3.45"/><circle cx="537.0" cy="323.5" r="3.45"/><circle class="s" cx="537.9" cy="325.2" r="3.45"/><circle class="s" cx="538.8" cy="323.4" r="3.45"/><circle class="s" cx="539.7" cy="324.8" r="3.45"/><circle class="s" cx="540.6" cy="325.4" r="3.45"/><circle class="s" cx="541.5" cy="325.1" r="3.45"/><circle class="s" cx="542.4" cy="326.1" r="3.45"/><circle class="s" cx="543.3" cy="326.1" r="3.45"/><circle class="s" cx="544.2" cy="327.0" r="3.45"/><circle class="s" cx="545.1" cy="326.0" r="3.45"/><circle class="s" cx="546.1" cy="327.6" r="3.45"/><circle class="s" cx="547.0" cy="328.0" r="3.45"/><circle class="s" cx="547.9" cy="328.1" r="3.45"/><circle class="s" cx="548.8" cy="328.8" r="3.45"/><circle class="s" cx="549.7" cy="330.2" r="3.45"/><circle class="s" cx="550.6" cy="330.3" r="3.45"/><circle class="s" cx="551.5" cy="330.3" r="3.45"/><circle class="s" cx="552.4" cy="331.1" r="3.45"/><circle cx="553.0" cy="331.0" r="3.45"/><circle class="s" cx="553.6" cy="331.5" r="3.45"/><circle class="s" cx="554.2" cy="331.8" r="3.45"/><circle class="s" cx="554.9" cy="332.1" r="3.45"/><circle class="s" cx="555.5" cy="333.5" r="3.45"/><circle class="s" cx="556.1" cy="335.2" r="3.45"/><circle class="s" cx="556.7" cy="336.7" r="3.45"/><circle cx="557.0" cy="336.0" r="3.45"/><circle class="s" cx="557.5" cy="337.7" r="3.45"/><circle class="s" cx="558.0" cy="337.7" r="3.45"/><circle cx="558.5" cy="338.5" r="3.45"/><circle cx="559.0" cy="334.5" r="3.45"/><circle cx="559.4" cy="330.6" r="3.45"/><circle cx="559.5" cy="330.0" r="3.45"/><circle cx="560.0" cy="326.0" r="3.45"/><circle cx="560.5" cy="322.1" r="3.45"/><circle cx="560.5" cy="322.0" r="3.45"/><circle cx="561.0" cy="318.0" r="3.45"/><circle cx="561.5" cy="314.1" r="3.45"/><circle cx="561.5" cy="314.0" r="3.45"/><circle cx="562.0" cy="310.0" r="3.45"/><circle cx="562.5" cy="306.1" r="3.45"/><circle cx="562.5" cy="306.0" r="3.45"/><circle cx="563.1" cy="302.0" r="3.45"/><circle cx="563.5" cy="299.0" r="3.45"/><circle cx="564.6" cy="295.2" r="3.45"/><circle cx="565.0" cy="294.0" r="3.45"/><circle class="s" cx="566.0" cy="295.3" r="3.45"/><circle cx="567.0" cy="294.0" r="3.45"/><circle class="s" cx="567.9" cy="294.4" r="3.45"/><circle class="s" cx="568.8" cy="295.8" r="3.45"/><circle class="s" cx="569.6" cy="295.2" r="3.45"/><circle class="s" cx="570.5" cy="296.6" r="3.45"/><circle class="s" cx="571.4" cy="297.7" r="3.45"/><circle class="s" cx="572.3" cy="296.4" r="3.45"/><circle class="s" cx="573.1" cy="296.5" r="3.45"/><circle class="s" cx="574.0" cy="298.2" r="3.45"/><circle class="s" cx="574.9" cy="298.4" r="3.45"/><circle class="s" cx="575.8" cy="298.5" r="3.45"/><circle class="s" cx="576.6" cy="298.0" r="3.45"/><circle cx="577.0" cy="299.5" r="3.45"/><circle class="s" cx="578.0" cy="299.5" r="3.45"/><circle class="s" cx="578.9" cy="299.9" r="3.45"/><circle class="s" cx="579.9" cy="300.2" r="3.45"/><circle class="s" cx="580.8" cy="301.7" r="3.45"/><circle class="s" cx="581.8" cy="301.3" r="3.45"/><circle class="s" cx="582.7" cy="302.0" r="3.45"/><circle class="s" cx="583.7" cy="302.7" r="3.45"/><circle class="s" cx="584.6" cy="302.6" r="3.45"/><circle class="s" cx="585.6" cy="302.3" r="3.45"/><circle class="s" cx="586.5" cy="303.2" r="3.45"/><circle class="s" cx="587.5" cy="303.3" r="3.45"/><circle class="s" cx="588.4" cy="303.6" r="3.45"/><circle class="s" cx="589.4" cy="303.9" r="3.45"/><circle class="s" cx="590.3" cy="303.6" r="3.45"/><circle class="s" cx="591.3" cy="304.5" r="3.45"/><circle class="s" cx="592.2" cy="304.8" r="3.45"/><circle class="s" cx="593.2" cy="305.9" r="3.45"/><circle class="s" cx="594.1" cy="305.8" r="3.45"/><circle class="s" cx="595.1" cy="306.3" r="3.45"/><circle class="s" cx="596.0" cy="306.4" r="3.45"/><circle class="s" cx="597.0" cy="306.8" r="3.45"/><circle class="s" cx="597.9" cy="306.6" r="3.45"/><circle class="s" cx="598.9" cy="306.2" r="3.45"/><circle class="s" cx="599.8" cy="306.3" r="3.45"/><circle class="s" cx="600.8" cy="307.8" r="3.45"/><circle class="s" cx="601.7" cy="308.5" r="3.45"/><circle class="s" cx="602.7" cy="308.0" r="3.45"/><circle class="s" cx="603.6" cy="307.2" r="3.45"/><circle class="s" cx="604.6" cy="309.3" r="3.45"/><circle class="s" cx="605.5" cy="308.7" r="3.45"/><circle class="s" cx="606.5" cy="309.0" r="3.45"/><circle class="s" cx="607.4" cy="308.2" r="3.45"/><circle class="s" cx="608.4" cy="309.7" r="3.45"/><circle class="s" cx="609.3" cy="310.6" r="3.45"/><circle class="s" cx="610.3" cy="310.1" r="3.45"/><circle class="s" cx="611.2" cy="310.3" r="3.45"/><circle class="s" cx="612.2" cy="311.3" r="3.45"/><circle class="s" cx="613.1" cy="310.0" r="3.45"/><circle class="s" cx="614.1" cy="311.6" r="3.45"/><circle class="s" cx="615.0" cy="313.0" r="3.45"/><circle class="s" cx="616.0" cy="312.7" r="3.45"/><circle class="s" cx="616.9" cy="312.2" r="3.45"/><circle cx="617.0" cy="312.5" r="3.45"/><circle class="s" cx="618.0" cy="313.3" r="3.45"/><circle class="s" cx="618.9" cy="313.3" r="3.45"/><circle class="s" cx="619.9" cy="312.5" r="3.45"/><circle class="s" cx="620.9" cy="312.8" r="3.45"/><circle class="s" cx="621.8" cy="314.8" r="3.45"/><circle class="s" cx="622.8" cy="313.5" r="3.45"/><circle class="s" cx="623.7" cy="313.3" r="3.45"/><circle class="s" cx="624.7" cy="315.5" r="3.45"/><circle class="s" cx="625.7" cy="314.9" r="3.45"/><circle class="s" cx="626.6" cy="314.8" r="3.45"/><circle class="s" cx="627.6" cy="315.4" r="3.45"/><circle class="s" cx="628.6" cy="316.3" r="3.45"/><circle class="s" cx="629.5" cy="315.1" r="3.45"/><circle class="s" cx="630.5" cy="316.6" r="3.45"/><circle class="s" cx="631.5" cy="317.0" r="3.45"/><circle class="s" cx="632.4" cy="317.6" r="3.45"/><circle class="s" cx="633.4" cy="316.4" r="3.45"/><circle class="s" cx="634.4" cy="317.6" r="3.45"/><circle class="s" cx="635.3" cy="316.8" r="3.45"/><circle class="s" cx="636.3" cy="318.0" r="3.45"/><circle class="s" cx="637.2" cy="317.2" r="3.45"/><circle class="s" cx="638.2" cy="319.1" r="3.45"/><circle class="s" cx="639.2" cy="319.6" r="3.45"/><circle class="s" cx="640.1" cy="318.4" r="3.45"/><circle class="s" cx="641.1" cy="318.4" r="3.45"/><circle class="s" cx="642.1" cy="320.6" r="3.45"/><circle class="s" cx="643.0" cy="320.2" r="3.45"/><circle class="s" cx="644.0" cy="320.8" r="3.45"/><circle class="s" cx="645.0" cy="319.0" r="3.45"/><circle class="s" cx="645.9" cy="321.5" r="3.45"/><circle class="s" cx="646.9" cy="321.0" r="3.45"/><circle class="s" cx="647.9" cy="320.5" r="3.45"/><circle class="s" cx="648.8" cy="321.1" r="3.45"/><circle class="s" cx="649.8" cy="322.2" r="3.45"/><circle class="s" cx="650.7" cy="322.5" r="3.45"/><circle class="s" cx="651.7" cy="321.2" r="3.45"/><circle class="s" cx="652.7" cy="322.6" r="3.45"/><circle class="s" cx="653.6" cy="321.7" r="3.45"/><circle class="s" cx="654.6" cy="324.1" r="3.45"/><circle class="s" cx="655.6" cy="323.0" r="3.45"/><circle class="s" cx="656.5" cy="324.4" r="3.45"/><circle cx="657.0" cy="323.5" r="3.45"/><circle class="s" cx="658.0" cy="324.4" r="3.45"/><circle class="s" cx="658.9" cy="324.3" r="3.45"/><circle class="s" cx="659.9" cy="323.7" r="3.45"/><circle class="s" cx="660.9" cy="324.6" r="3.45"/><circle class="s" cx="661.8" cy="323.9" r="3.45"/><circle class="s" cx="662.8" cy="324.1" r="3.45"/><circle class="s" cx="663.7" cy="325.9" r="3.45"/><circle class="s" cx="664.7" cy="325.3" r="3.45"/><circle class="s" cx="665.7" cy="326.5" r="3.45"/><circle class="s" cx="666.6" cy="325.5" r="3.45"/><circle class="s" cx="667.6" cy="327.0" r="3.45"/><circle class="s" cx="668.6" cy="327.2" r="3.45"/><circle class="s" cx="669.5" cy="326.4" r="3.45"/><circle class="s" cx="670.5" cy="326.2" r="3.45"/><circle class="s" cx="671.5" cy="327.2" r="3.45"/><circle class="s" cx="672.4" cy="327.7" r="3.45"/><circle class="s" cx="673.4" cy="327.0" r="3.45"/><circle class="s" cx="674.4" cy="327.5" r="3.45"/><circle class="s" cx="675.3" cy="327.4" r="3.45"/><circle class="s" cx="676.3" cy="329.1" r="3.45"/><circle class="s" cx="677.2" cy="330.1" r="3.45"/><circle class="s" cx="678.2" cy="328.6" r="3.45"/><circle class="s" cx="679.2" cy="328.4" r="3.45"/><circle class="s" cx="680.1" cy="330.4" r="3.45"/><circle class="s" cx="681.1" cy="330.9" r="3.45"/><circle class="s" cx="682.1" cy="331.6" r="3.45"/><circle class="s" cx="683.0" cy="331.0" r="3.45"/><circle class="s" cx="684.0" cy="330.5" r="3.45"/><circle class="s" cx="685.0" cy="332.1" r="3.45"/><circle class="s" cx="685.9" cy="330.5" r="3.45"/><circle class="s" cx="686.9" cy="332.2" r="3.45"/><circle class="s" cx="687.9" cy="330.9" r="3.45"/><circle class="s" cx="688.8" cy="332.0" r="3.45"/><circle class="s" cx="689.8" cy="332.5" r="3.45"/><circle class="s" cx="690.7" cy="332.5" r="3.45"/><circle class="s" cx="691.7" cy="332.2" r="3.45"/><circle class="s" cx="692.7" cy="332.6" r="3.45"/><circle class="s" cx="693.6" cy="334.4" r="3.45"/><circle class="s" cx="694.6" cy="333.7" r="3.45"/><circle class="s" cx="695.6" cy="334.3" r="3.45"/><circle class="s" cx="696.5" cy="333.6" r="3.45"/><circle cx="697.0" cy="334.5" r="3.45"/><circle class="s" cx="698.0" cy="335.3" r="3.45"/><circle class="s" cx="698.9" cy="334.5" r="3.45"/><circle class="s" cx="699.9" cy="335.5" r="3.45"/><circle class="s" cx="700.9" cy="336.5" r="3.45"/><circle class="s" cx="701.9" cy="337.0" r="3.45"/><circle class="s" cx="702.8" cy="334.8" r="3.45"/><circle class="s" cx="703.8" cy="337.0" r="3.45"/><circle class="s" cx="704.8" cy="337.4" r="3.45"/><circle class="s" cx="705.7" cy="336.2" r="3.45"/><circle class="s" cx="706.7" cy="336.6" r="3.45"/><circle class="s" cx="707.7" cy="337.4" r="3.45"/><circle class="s" cx="708.6" cy="338.5" r="3.45"/><circle class="s" cx="709.6" cy="337.4" r="3.45"/><circle class="s" cx="710.6" cy="338.9" r="3.45"/><circle class="s" cx="711.6" cy="338.8" r="3.45"/><circle class="s" cx="712.5" cy="337.5" r="3.45"/><circle class="s" cx="713.5" cy="339.7" r="3.45"/><circle class="s" cx="714.5" cy="337.6" r="3.45"/><circle class="s" cx="715.4" cy="338.2" r="3.45"/><circle class="s" cx="716.4" cy="339.8" r="3.45"/><circle cx="717.0" cy="339.5" r="3.45"/><circle class="s" cx="717.9" cy="338.8" r="3.45"/><circle class="s" cx="718.8" cy="340.1" r="3.45"/><circle class="s" cx="719.6" cy="340.0" r="3.45"/><circle class="s" cx="720.5" cy="341.3" r="3.45"/><circle class="s" cx="721.4" cy="342.8" r="3.45"/><circle class="s" cx="722.3" cy="343.4" r="3.45"/><circle cx="722.5" cy="342.5" r="3.45"/><circle cx="723.2" cy="338.6" r="3.45"/><circle cx="723.9" cy="334.6" r="3.45"/><circle cx="724.0" cy="334.0" r="3.45"/><circle cx="724.5" cy="330.0" r="3.45"/><circle cx="725.0" cy="326.1" r="3.45"/><circle cx="725.5" cy="322.1" r="3.45"/><circle cx="725.5" cy="322.0" r="3.45"/><circle cx="725.9" cy="318.0" r="3.45"/><circle cx="726.4" cy="314.0" r="3.45"/><circle cx="726.8" cy="310.1" r="3.45"/><circle cx="727.0" cy="308.0" r="3.45"/><circle cx="727.6" cy="304.0" r="3.45"/><circle cx="728.2" cy="300.1" r="3.45"/><circle cx="728.5" cy="298.0" r="3.45"/><circle cx="729.6" cy="294.1" r="3.45"/><circle cx="730.0" cy="292.5" r="3.45"/><circle class="s" cx="731.0" cy="291.1" r="3.45"/><circle class="s" cx="732.0" cy="291.0" r="3.45"/><circle class="s" cx="733.0" cy="292.9" r="3.45"/><circle cx="733.0" cy="292.0" r="3.45"/><circle class="s" cx="733.8" cy="291.3" r="3.45"/><circle class="s" cx="734.7" cy="292.5" r="3.45"/><circle class="s" cx="735.5" cy="292.6" r="3.45"/><circle class="s" cx="736.4" cy="293.1" r="3.45"/><circle cx="737.0" cy="294.5" r="3.45"/><circle class="s" cx="738.0" cy="293.6" r="3.45"/><circle class="s" cx="738.9" cy="295.4" r="3.45"/><circle class="s" cx="739.9" cy="296.0" r="3.45"/><circle class="s" cx="740.8" cy="296.1" r="3.45"/><circle class="s" cx="741.8" cy="296.8" r="3.45"/><circle class="s" cx="742.7" cy="296.6" r="3.45"/><circle class="s" cx="743.7" cy="296.2" r="3.45"/><circle class="s" cx="744.7" cy="297.1" r="3.45"/><circle class="s" cx="745.6" cy="298.3" r="3.45"/><circle class="s" cx="746.6" cy="297.7" r="3.45"/><circle class="s" cx="747.5" cy="297.0" r="3.45"/><circle class="s" cx="748.5" cy="296.8" r="3.45"/><circle class="s" cx="749.5" cy="299.4" r="3.45"/><circle class="s" cx="750.4" cy="298.8" r="3.45"/><circle class="s" cx="751.4" cy="298.4" r="3.45"/><circle class="s" cx="752.3" cy="299.4" r="3.45"/><circle class="s" cx="753.3" cy="299.5" r="3.45"/><circle class="s" cx="754.2" cy="299.7" r="3.45"/><circle class="s" cx="755.2" cy="298.8" r="3.45"/><circle class="s" cx="756.2" cy="299.9" r="3.45"/><circle cx="757.0" cy="300.5" r="3.45"/><circle class="s" cx="758.0" cy="300.6" r="3.45"/><circle class="s" cx="758.9" cy="300.3" r="3.45"/><circle class="s" cx="759.9" cy="302.4" r="3.45"/><circle class="s" cx="760.8" cy="301.5" r="3.45"/><circle class="s" cx="761.8" cy="302.4" r="3.45"/><circle class="s" cx="762.7" cy="302.8" r="3.45"/><circle class="s" cx="763.7" cy="303.2" r="3.45"/><circle class="s" cx="764.7" cy="303.4" r="3.45"/><circle class="s" cx="765.6" cy="303.8" r="3.45"/><circle class="s" cx="766.6" cy="302.8" r="3.45"/><circle class="s" cx="767.5" cy="305.0" r="3.45"/><circle class="s" cx="768.5" cy="303.1" r="3.45"/><circle class="s" cx="769.4" cy="305.4" r="3.45"/><circle class="s" cx="770.4" cy="305.5" r="3.45"/><circle class="s" cx="771.3" cy="305.8" r="3.45"/><circle class="s" cx="772.3" cy="304.0" r="3.45"/><circle class="s" cx="773.3" cy="304.4" r="3.45"/><circle class="s" cx="774.2" cy="306.6" r="3.45"/><circle class="s" cx="775.2" cy="306.0" r="3.45"/><circle class="s" cx="776.1" cy="306.0" r="3.45"/><circle class="s" cx="777.1" cy="307.9" r="3.45"/><circle class="s" cx="778.0" cy="305.7" r="3.45"/><circle class="s" cx="779.0" cy="307.3" r="3.45"/><circle class="s" cx="780.0" cy="307.4" r="3.45"/><circle class="s" cx="780.9" cy="306.8" r="3.45"/><circle class="s" cx="781.9" cy="307.8" r="3.45"/><circle class="s" cx="782.8" cy="308.9" r="3.45"/><circle class="s" cx="783.8" cy="309.7" r="3.45"/><circle class="s" cx="784.7" cy="307.7" r="3.45"/><circle class="s" cx="785.7" cy="309.3" r="3.45"/><circle class="s" cx="786.6" cy="308.5" r="3.45"/><circle class="s" cx="787.6" cy="310.6" r="3.45"/><circle class="s" cx="788.6" cy="309.1" r="3.45"/><circle class="s" cx="789.5" cy="309.2" r="3.45"/><circle class="s" cx="790.5" cy="310.4" r="3.45"/><circle class="s" cx="791.4" cy="311.6" r="3.45"/><circle class="s" cx="792.4" cy="310.8" r="3.45"/><circle cx="793.0" cy="311.5" r="3.45"/><circle class="s" cx="794.0" cy="310.8" r="3.45"/><circle class="s" cx="794.9" cy="312.8" r="3.45"/><circle class="s" cx="795.9" cy="313.0" r="3.45"/><circle class="s" cx="796.9" cy="313.4" r="3.45"/><circle class="s" cx="797.9" cy="312.2" r="3.45"/><circle class="s" cx="798.8" cy="312.8" r="3.45"/><circle class="s" cx="799.8" cy="312.5" r="3.45"/><circle class="s" cx="800.8" cy="313.6" r="3.45"/><circle class="s" cx="801.7" cy="313.2" r="3.45"/><circle class="s" cx="802.7" cy="313.5" r="3.45"/><circle class="s" cx="803.7" cy="314.9" r="3.45"/><circle class="s" cx="804.6" cy="315.6" r="3.45"/><circle class="s" cx="805.6" cy="314.9" r="3.45"/><circle class="s" cx="806.6" cy="313.9" r="3.45"/><circle class="s" cx="807.6" cy="315.5" r="3.45"/><circle class="s" cx="808.5" cy="315.2" r="3.45"/><circle class="s" cx="809.5" cy="316.9" r="3.45"/><circle class="s" cx="810.5" cy="316.4" r="3.45"/><circle class="s" cx="811.4" cy="317.0" r="3.45"/><circle class="s" cx="812.4" cy="316.9" r="3.45"/><circle class="s" cx="813.4" cy="316.7" r="3.45"/><circle class="s" cx="814.3" cy="317.9" r="3.45"/><circle class="s" cx="815.3" cy="317.9" r="3.45"/><circle class="s" cx="816.3" cy="316.8" r="3.45"/><circle class="s" cx="817.3" cy="316.7" r="3.45"/><circle class="s" cx="818.2" cy="317.5" r="3.45"/><circle class="s" cx="819.2" cy="318.1" r="3.45"/><circle class="s" cx="820.2" cy="317.2" r="3.45"/><circle class="s" cx="821.1" cy="318.1" r="3.45"/><circle class="s" cx="822.1" cy="319.0" r="3.45"/><circle class="s" cx="823.1" cy="317.8" r="3.45"/><circle class="s" cx="824.0" cy="320.1" r="3.45"/><circle class="s" cx="825.0" cy="319.9" r="3.45"/><circle class="s" cx="826.0" cy="319.3" r="3.45"/><circle class="s" cx="827.0" cy="319.5" r="3.45"/><circle class="s" cx="827.9" cy="319.8" r="3.45"/><circle class="s" cx="828.9" cy="320.0" r="3.45"/><circle class="s" cx="829.9" cy="321.4" r="3.45"/><circle class="s" cx="830.8" cy="321.0" r="3.45"/><circle class="s" cx="831.8" cy="321.3" r="3.45"/><circle class="s" cx="832.8" cy="320.5" r="3.45"/><circle cx="833.0" cy="321.5" r="3.45"/><circle class="s" cx="834.0" cy="322.9" r="3.45"/><circle class="s" cx="834.9" cy="321.7" r="3.45"/><circle class="s" cx="835.9" cy="322.0" r="3.45"/><circle class="s" cx="836.8" cy="321.6" r="3.45"/><circle class="s" cx="837.8" cy="324.3" r="3.45"/><circle class="s" cx="838.7" cy="323.3" r="3.45"/><circle class="s" cx="839.7" cy="324.7" r="3.45"/><circle class="s" cx="840.6" cy="325.1" r="3.45"/><circle class="s" cx="841.6" cy="325.5" r="3.45"/><circle class="s" cx="842.5" cy="325.4" r="3.45"/><circle class="s" cx="843.5" cy="326.0" r="3.45"/><circle class="s" cx="844.4" cy="326.3" r="3.45"/><circle class="s" cx="845.4" cy="326.3" r="3.45"/><circle class="s" cx="846.3" cy="324.9" r="3.45"/><circle class="s" cx="847.3" cy="326.2" r="3.45"/><circle class="s" cx="848.2" cy="326.6" r="3.45"/><circle class="s" cx="849.2" cy="328.0" r="3.45"/><circle cx="850.0" cy="327.0" r="3.45"/><circle class="s" cx="851.0" cy="328.0" r="3.45"/><circle class="s" cx="851.9" cy="328.0" r="3.45"/><circle class="s" cx="852.9" cy="328.4" r="3.45"/><circle class="s" cx="853.9" cy="327.6" r="3.45"/><circle class="s" cx="854.9" cy="329.4" r="3.45"/><circle class="s" cx="855.8" cy="328.8" r="3.45"/><circle class="s" cx="856.8" cy="328.4" r="3.45"/><circle class="s" cx="857.8" cy="328.8" r="3.45"/><circle class="s" cx="858.7" cy="330.4" r="3.45"/><circle class="s" cx="859.7" cy="329.5" r="3.45"/><circle class="s" cx="860.7" cy="328.8" r="3.45"/><circle class="s" cx="861.6" cy="329.0" r="3.45"/><circle class="s" cx="862.6" cy="330.6" r="3.45"/><circle class="s" cx="863.6" cy="330.6" r="3.45"/><circle class="s" cx="864.6" cy="331.7" r="3.45"/><circle cx="865.0" cy="330.8" r="3.45"/><circle class="s" cx="866.0" cy="330.2" r="3.45"/><circle class="s" cx="866.9" cy="331.0" r="3.45"/><circle class="s" cx="867.9" cy="332.1" r="3.45"/><circle class="s" cx="868.9" cy="330.5" r="3.45"/><circle class="s" cx="869.9" cy="330.9" r="3.45"/><circle class="s" cx="870.8" cy="332.3" r="3.45"/><circle class="s" cx="871.8" cy="331.8" r="3.45"/><circle class="s" cx="872.8" cy="331.6" r="3.45"/><circle class="s" cx="873.7" cy="332.3" r="3.45"/><circle class="s" cx="874.7" cy="333.5" r="3.45"/><circle class="s" cx="875.7" cy="333.4" r="3.45"/><circle class="s" cx="876.7" cy="332.5" r="3.45"/><circle class="s" cx="877.6" cy="332.7" r="3.45"/><circle class="s" cx="878.6" cy="335.0" r="3.45"/><circle class="s" cx="879.6" cy="334.7" r="3.45"/><circle cx="880.0" cy="334.4" r="3.45"/><circle class="s" cx="881.0" cy="333.8" r="3.45"/><circle class="s" cx="881.9" cy="335.9" r="3.45"/><circle class="s" cx="882.9" cy="334.0" r="3.45"/><circle class="s" cx="883.9" cy="335.1" r="3.45"/><circle class="s" cx="884.8" cy="336.6" r="3.45"/><circle class="s" cx="885.8" cy="336.5" r="3.45"/><circle class="s" cx="886.7" cy="335.7" r="3.45"/><circle class="s" cx="887.7" cy="337.6" r="3.45"/><circle class="s" cx="888.7" cy="337.1" r="3.45"/><circle class="s" cx="889.6" cy="338.0" r="3.45"/><circle class="s" cx="890.6" cy="338.4" r="3.45"/><circle class="s" cx="891.6" cy="337.4" r="3.45"/><circle class="s" cx="892.5" cy="338.3" r="3.45"/><circle cx="893.0" cy="338.0" r="3.45"/><circle class="s" cx="893.8" cy="338.7" r="3.45"/><circle class="s" cx="894.7" cy="340.2" r="3.45"/><circle class="s" cx="895.5" cy="340.4" r="3.45"/><circle class="s" cx="896.4" cy="340.7" r="3.45"/><circle class="s" cx="897.2" cy="341.5" r="3.45"/><circle class="s" cx="898.1" cy="342.5" r="3.45"/><circle cx="898.5" cy="341.5" r="3.45"/><circle cx="899.7" cy="337.7" r="3.45"/><circle cx="900.5" cy="335.0" r="3.45"/><circle cx="900.9" cy="331.0" r="3.45"/><circle cx="901.3" cy="327.0" r="3.45"/><circle cx="901.5" cy="325.0" r="3.45"/><circle cx="901.9" cy="321.0" r="3.45"/><circle cx="902.3" cy="317.0" r="3.45"/><circle cx="902.5" cy="315.0" r="3.45"/><circle cx="902.9" cy="311.0" r="3.45"/><circle cx="903.3" cy="307.0" r="3.45"/><circle cx="903.5" cy="305.0" r="3.45"/><circle cx="904.0" cy="301.0" r="3.45"/><circle cx="904.5" cy="297.1" r="3.45"/><circle cx="905.0" cy="293.1" r="3.45"/><circle cx="905.0" cy="293.0" r="3.45"/><circle cx="905.3" cy="289.0" r="3.45"/><circle cx="905.6" cy="285.0" r="3.45"/><circle cx="905.8" cy="282.0" r="3.45"/><circle cx="906.0" cy="278.0" r="3.45"/><circle cx="906.2" cy="274.0" r="3.45"/><circle cx="906.4" cy="270.0" r="3.45"/><circle cx="906.4" cy="270.0" r="3.45"/><circle cx="907.0" cy="266.0" r="3.45"/><circle cx="907.6" cy="262.1" r="3.45"/><circle cx="908.2" cy="258.1" r="3.45"/><circle cx="908.8" cy="254.2" r="3.45"/><circle cx="909.4" cy="250.2" r="3.45"/><circle cx="909.4" cy="250.0" r="3.45"/><circle cx="910.4" cy="246.1" r="3.45"/><circle cx="911.3" cy="242.2" r="3.45"/><circle cx="912.3" cy="238.4" r="3.45"/><circle cx="913.3" cy="234.5" r="3.45"/><circle cx="914.3" cy="230.6" r="3.45"/><circle cx="914.4" cy="230.0" r="3.45"/><circle cx="915.3" cy="226.1" r="3.45"/><circle cx="916.2" cy="222.2" r="3.45"/><circle cx="917.1" cy="218.3" r="3.45"/><circle cx="918.0" cy="214.4" r="3.45"/><circle cx="918.9" cy="210.5" r="3.45"/><circle cx="919.0" cy="210.0" r="3.45"/><circle cx="919.9" cy="206.1" r="3.45"/><circle cx="920.7" cy="202.2" r="3.45"/><circle cx="921.6" cy="198.3" r="3.45"/><circle cx="922.4" cy="194.4" r="3.45"/><circle cx="923.3" cy="190.5" r="3.45"/><circle cx="923.4" cy="190.0" r="3.45"/><circle cx="924.4" cy="186.1" r="3.45"/><circle cx="925.4" cy="182.3" r="3.45"/><circle cx="926.4" cy="178.4" r="3.45"/><circle cx="926.5" cy="178.0" r="3.45"/><circle cx="928.2" cy="174.4" r="3.45"/><circle cx="929.0" cy="172.5" r="3.45"/><circle class="s" cx="930.0" cy="171.9" r="3.45"/><circle class="s" cx="931.0" cy="171.7" r="3.45"/><circle cx="932.0" cy="172.5" r="3.45"/><circle class="s" cx="932.9" cy="173.6" r="3.45"/><circle class="s" cx="933.8" cy="174.1" r="3.45"/><circle class="s" cx="934.7" cy="173.9" r="3.45"/><circle class="s" cx="935.6" cy="174.3" r="3.45"/><circle class="s" cx="936.5" cy="174.5" r="3.45"/><circle class="s" cx="937.4" cy="176.2" r="3.45"/><circle class="s" cx="938.3" cy="176.4" r="3.45"/><circle class="s" cx="939.2" cy="176.3" r="3.45"/><circle cx="940.0" cy="176.5" r="3.45"/><circle class="s" cx="941.0" cy="175.6" r="3.45"/><circle class="s" cx="941.9" cy="177.9" r="3.45"/><circle class="s" cx="942.9" cy="177.2" r="3.45"/><circle class="s" cx="943.9" cy="176.8" r="3.45"/><circle class="s" cx="944.8" cy="177.3" r="3.45"/><circle class="s" cx="945.8" cy="178.6" r="3.45"/><circle class="s" cx="946.7" cy="177.1" r="3.45"/><circle class="s" cx="947.7" cy="177.6" r="3.45"/><circle class="s" cx="948.7" cy="178.4" r="3.45"/><circle class="s" cx="949.6" cy="180.2" r="3.45"/><circle class="s" cx="950.6" cy="180.1" r="3.45"/><circle class="s" cx="951.6" cy="180.9" r="3.45"/><circle class="s" cx="952.5" cy="180.1" r="3.45"/><circle class="s" cx="953.5" cy="180.4" r="3.45"/><circle class="s" cx="954.5" cy="180.6" r="3.45"/><circle class="s" cx="955.4" cy="180.8" r="3.45"/><circle class="s" cx="956.4" cy="181.1" r="3.45"/><circle class="s" cx="957.4" cy="182.1" r="3.45"/><circle class="s" cx="958.3" cy="182.7" r="3.45"/><circle class="s" cx="959.3" cy="181.6" r="3.45"/><circle cx="960.0" cy="182.0" r="3.45"/><circle class="s" cx="960.9" cy="182.7" r="3.45"/><circle class="s" cx="961.9" cy="182.1" r="3.45"/><circle class="s" cx="962.8" cy="182.4" r="3.45"/><circle class="s" cx="963.8" cy="183.3" r="3.45"/><circle class="s" cx="964.7" cy="183.8" r="3.45"/><circle class="s" cx="965.7" cy="184.0" r="3.45"/><circle cx="966.0" cy="184.0" r="3.45"/><circle class="s" cx="966.3" cy="186.2" r="3.45"/><circle class="s" cx="966.6" cy="185.0" r="3.45"/><circle class="s" cx="966.9" cy="187.2" r="3.45"/><circle class="s" cx="967.3" cy="189.1" r="3.45"/><circle class="s" cx="967.6" cy="189.4" r="3.45"/><circle class="s" cx="967.9" cy="189.9" r="3.45"/><circle cx="968.0" cy="190.0" r="3.45"/><circle class="s" cx="968.9" cy="190.0" r="3.45"/><circle class="s" cx="969.8" cy="190.5" r="3.45"/><circle class="s" cx="970.8" cy="192.3" r="3.45"/><circle class="s" cx="971.7" cy="192.6" r="3.45"/><circle class="s" cx="972.6" cy="192.4" r="3.45"/><circle class="s" cx="973.5" cy="193.3" r="3.45"/><circle class="s" cx="974.5" cy="193.8" r="3.45"/><circle class="s" cx="975.4" cy="194.0" r="3.45"/><circle class="s" cx="976.3" cy="193.2" r="3.45"/><circle class="s" cx="977.2" cy="193.8" r="3.45"/><circle class="s" cx="978.2" cy="195.0" r="3.45"/><circle class="s" cx="979.1" cy="194.3" r="3.45"/><circle cx="980.0" cy="195.0" r="3.45"/><circle class="s" cx="980.9" cy="196.1" r="3.45"/><circle class="s" cx="981.8" cy="195.8" r="3.45"/><circle class="s" cx="982.7" cy="195.8" r="3.45"/><circle class="s" cx="983.6" cy="196.5" r="3.45"/><circle class="s" cx="984.6" cy="196.1" r="3.45"/><circle class="s" cx="985.5" cy="197.1" r="3.45"/><circle class="s" cx="986.4" cy="197.7" r="3.45"/><circle class="s" cx="987.3" cy="197.0" r="3.45"/><circle class="s" cx="988.2" cy="197.8" r="3.45"/><circle class="s" cx="989.1" cy="198.5" r="3.45"/><circle class="s" cx="990.0" cy="200.4" r="3.45"/><circle class="s" cx="990.9" cy="200.2" r="3.45"/><circle class="s" cx="991.9" cy="199.8" r="3.45"/><circle class="s" cx="992.8" cy="202.0" r="3.45"/><circle class="s" cx="993.7" cy="200.5" r="3.45"/><circle class="s" cx="994.6" cy="201.6" r="3.45"/><circle class="s" cx="995.5" cy="202.6" r="3.45"/><circle class="s" cx="996.4" cy="202.9" r="3.45"/><circle class="s" cx="997.3" cy="202.6" r="3.45"/><circle class="s" cx="998.2" cy="203.9" r="3.45"/><circle class="s" cx="999.2" cy="203.6" r="3.45"/><circle cx="1000.0" cy="204.0" r="3.45"/><circle class="s" cx="1000.9" cy="205.0" r="3.45"/><circle class="s" cx="1001.8" cy="204.9" r="3.45"/><circle class="s" cx="1002.7" cy="206.5" r="3.45"/><circle class="s" cx="1003.6" cy="206.3" r="3.45"/><circle class="s" cx="1004.5" cy="205.1" r="3.45"/><circle class="s" cx="1005.4" cy="205.7" r="3.45"/><circle class="s" cx="1006.3" cy="208.3" r="3.45"/><circle class="s" cx="1007.2" cy="206.8" r="3.45"/><circle class="s" cx="1008.1" cy="206.7" r="3.45"/><circle class="s" cx="1009.0" cy="207.8" r="3.45"/><circle class="s" cx="1009.9" cy="208.8" r="3.45"/><circle class="s" cx="1010.8" cy="210.5" r="3.45"/><circle class="s" cx="1011.7" cy="209.5" r="3.45"/><circle class="s" cx="1012.6" cy="210.7" r="3.45"/><circle class="s" cx="1013.5" cy="211.5" r="3.45"/><circle class="s" cx="1014.4" cy="210.0" r="3.45"/><circle class="s" cx="1015.3" cy="211.8" r="3.45"/><circle class="s" cx="1016.2" cy="213.2" r="3.45"/><circle class="s" cx="1017.1" cy="212.5" r="3.45"/><circle class="s" cx="1018.0" cy="212.9" r="3.45"/><circle class="s" cx="1018.9" cy="212.8" r="3.45"/><circle class="s" cx="1019.8" cy="214.8" r="3.45"/><circle class="s" cx="1020.7" cy="215.3" r="3.45"/><circle class="s" cx="1021.6" cy="213.5" r="3.45"/><circle class="s" cx="1022.4" cy="215.1" r="3.45"/><circle class="s" cx="1023.3" cy="215.2" r="3.45"/><circle class="s" cx="1024.2" cy="216.3" r="3.45"/><circle cx="1025.0" cy="216.2" r="3.45"/><circle class="s" cx="1025.9" cy="215.6" r="3.45"/><circle class="s" cx="1026.8" cy="216.4" r="3.45"/><circle class="s" cx="1027.8" cy="216.8" r="3.45"/><circle class="s" cx="1028.7" cy="217.7" r="3.45"/><circle class="s" cx="1029.6" cy="218.9" r="3.45"/><circle class="s" cx="1030.5" cy="219.5" r="3.45"/><circle class="s" cx="1031.5" cy="219.7" r="3.45"/><circle class="s" cx="1032.4" cy="219.8" r="3.45"/><circle class="s" cx="1033.3" cy="218.6" r="3.45"/><circle class="s" cx="1034.2" cy="219.8" r="3.45"/><circle class="s" cx="1035.2" cy="220.9" r="3.45"/><circle class="s" cx="1036.1" cy="220.3" r="3.45"/><circle class="s" cx="1037.0" cy="221.3" r="3.45"/><circle class="s" cx="1037.9" cy="222.7" r="3.45"/><circle class="s" cx="1038.8" cy="221.0" r="3.45"/><circle class="s" cx="1039.8" cy="223.3" r="3.45"/><circle cx="1040.0" cy="222.5" r="3.45"/><circle class="s" cx="1040.9" cy="221.9" r="3.45"/><circle class="s" cx="1041.8" cy="223.1" r="3.45"/><circle class="s" cx="1042.7" cy="224.9" r="3.45"/><circle class="s" cx="1043.6" cy="223.5" r="3.45"/><circle class="s" cx="1044.5" cy="224.7" r="3.45"/><circle class="s" cx="1045.4" cy="224.9" r="3.45"/><circle class="s" cx="1046.3" cy="226.5" r="3.45"/><circle class="s" cx="1047.2" cy="227.2" r="3.45"/><circle class="s" cx="1048.1" cy="225.8" r="3.45"/><circle class="s" cx="1049.0" cy="226.8" r="3.45"/><circle class="s" cx="1049.9" cy="228.3" r="3.45"/><circle class="s" cx="1050.8" cy="227.8" r="3.45"/><circle class="s" cx="1051.7" cy="227.4" r="3.45"/><circle class="s" cx="1052.6" cy="229.2" r="3.45"/><circle class="s" cx="1053.5" cy="228.6" r="3.45"/><circle class="s" cx="1054.4" cy="229.4" r="3.45"/><circle class="s" cx="1055.3" cy="228.6" r="3.45"/><circle class="s" cx="1056.2" cy="231.5" r="3.45"/><circle class="s" cx="1057.1" cy="231.1" r="3.45"/><circle class="s" cx="1058.0" cy="232.2" r="3.45"/><circle class="s" cx="1058.9" cy="232.8" r="3.45"/><circle class="s" cx="1059.8" cy="231.4" r="3.45"/><circle class="s" cx="1060.7" cy="232.5" r="3.45"/><circle class="s" cx="1061.6" cy="232.7" r="3.45"/><circle class="s" cx="1062.5" cy="234.0" r="3.45"/><circle class="s" cx="1063.4" cy="234.6" r="3.45"/><circle cx="1064.0" cy="234.0" r="3.45"/><circle class="s" cx="1064.9" cy="233.6" r="3.45"/><circle class="s" cx="1065.9" cy="234.1" r="3.45"/><circle class="s" cx="1066.8" cy="235.6" r="3.45"/><circle class="s" cx="1067.7" cy="235.2" r="3.45"/><circle class="s" cx="1068.7" cy="234.8" r="3.45"/><circle class="s" cx="1069.6" cy="235.3" r="3.45"/><circle class="s" cx="1070.6" cy="236.6" r="3.45"/><circle class="s" cx="1071.5" cy="237.1" r="3.45"/><circle class="s" cx="1072.4" cy="238.4" r="3.45"/><circle class="s" cx="1073.4" cy="237.6" r="3.45"/><circle class="s" cx="1074.3" cy="238.1" r="3.45"/><circle class="s" cx="1075.2" cy="237.3" r="3.45"/><circle class="s" cx="1076.2" cy="238.3" r="3.45"/><circle class="s" cx="1077.1" cy="238.3" r="3.45"/><circle class="s" cx="1078.0" cy="239.8" r="3.45"/><circle class="s" cx="1079.0" cy="239.0" r="3.45"/><circle class="s" cx="1079.9" cy="239.2" r="3.45"/><circle cx="1080.0" cy="240.0" r="3.45"/><circle class="s" cx="1080.9" cy="240.0" r="3.45"/><circle class="s" cx="1081.8" cy="240.7" r="3.45"/><circle class="s" cx="1082.8" cy="240.7" r="3.45"/><circle class="s" cx="1083.7" cy="241.8" r="3.45"/><circle class="s" cx="1084.6" cy="241.1" r="3.45"/><circle class="s" cx="1085.5" cy="243.3" r="3.45"/><circle class="s" cx="1086.5" cy="243.2" r="3.45"/><circle class="s" cx="1087.4" cy="243.2" r="3.45"/><circle class="s" cx="1088.3" cy="242.3" r="3.45"/><circle class="s" cx="1089.2" cy="243.4" r="3.45"/><circle class="s" cx="1090.2" cy="244.7" r="3.45"/><circle class="s" cx="1091.1" cy="245.0" r="3.45"/><circle class="s" cx="1092.0" cy="245.8" r="3.45"/><circle class="s" cx="1092.9" cy="246.4" r="3.45"/><circle class="s" cx="1093.8" cy="245.3" r="3.45"/><circle class="s" cx="1094.8" cy="246.1" r="3.45"/><circle class="s" cx="1095.7" cy="246.1" r="3.45"/><circle class="s" cx="1096.6" cy="246.0" r="3.45"/><circle class="s" cx="1097.5" cy="246.4" r="3.45"/><circle class="s" cx="1098.5" cy="247.1" r="3.45"/><circle class="s" cx="1099.4" cy="247.0" r="3.45"/><circle class="s" cx="1100.3" cy="248.6" r="3.45"/><circle class="s" cx="1101.2" cy="249.4" r="3.45"/><circle class="s" cx="1102.2" cy="249.4" r="3.45"/><circle class="s" cx="1103.1" cy="250.1" r="3.45"/><circle cx="1104.0" cy="250.0" r="3.45"/><circle class="s" cx="1104.9" cy="249.6" r="3.45"/><circle class="s" cx="1105.9" cy="249.9" r="3.45"/><circle class="s" cx="1106.8" cy="251.2" r="3.45"/><circle class="s" cx="1107.7" cy="252.4" r="3.45"/><circle class="s" cx="1108.7" cy="251.6" r="3.45"/><circle class="s" cx="1109.6" cy="250.8" r="3.45"/><circle class="s" cx="1110.6" cy="251.2" r="3.45"/><circle class="s" cx="1111.5" cy="252.3" r="3.45"/><circle class="s" cx="1112.4" cy="253.5" r="3.45"/><circle class="s" cx="1113.4" cy="252.4" r="3.45"/><circle class="s" cx="1114.3" cy="253.1" r="3.45"/><circle class="s" cx="1115.2" cy="254.7" r="3.45"/><circle class="s" cx="1116.2" cy="255.8" r="3.45"/><circle class="s" cx="1117.1" cy="254.5" r="3.45"/><circle class="s" cx="1118.0" cy="255.5" r="3.45"/><circle class="s" cx="1119.0" cy="255.7" r="3.45"/><circle class="s" cx="1119.9" cy="254.7" r="3.45"/><circle cx="1120.0" cy="256.0" r="3.45"/><circle class="s" cx="1120.9" cy="255.9" r="3.45"/><circle class="s" cx="1121.9" cy="255.8" r="3.45"/><circle class="s" cx="1122.8" cy="256.4" r="3.45"/><circle class="s" cx="1123.7" cy="258.1" r="3.45"/><circle class="s" cx="1124.7" cy="258.2" r="3.45"/><circle class="s" cx="1125.6" cy="256.9" r="3.45"/><circle class="s" cx="1126.6" cy="257.4" r="3.45"/><circle class="s" cx="1127.5" cy="259.4" r="3.45"/><circle class="s" cx="1128.4" cy="258.1" r="3.45"/><circle class="s" cx="1129.4" cy="259.0" r="3.45"/><circle class="s" cx="1130.3" cy="259.3" r="3.45"/><circle class="s" cx="1131.2" cy="259.0" r="3.45"/><circle class="s" cx="1132.2" cy="259.3" r="3.45"/><circle class="s" cx="1133.1" cy="260.0" r="3.45"/><circle class="s" cx="1134.0" cy="261.0" r="3.45"/><circle class="s" cx="1135.0" cy="262.7" r="3.45"/><circle class="s" cx="1135.9" cy="262.3" r="3.45"/><circle class="s" cx="1136.9" cy="261.6" r="3.45"/><circle class="s" cx="1137.8" cy="263.1" r="3.45"/><circle class="s" cx="1138.7" cy="262.4" r="3.45"/><circle class="s" cx="1139.7" cy="263.4" r="3.45"/><circle class="s" cx="1140.6" cy="263.3" r="3.45"/><circle class="s" cx="1141.5" cy="265.2" r="3.45"/><circle class="s" cx="1142.5" cy="264.0" r="3.45"/><circle class="s" cx="1143.4" cy="265.6" r="3.45"/><circle cx="1144.0" cy="265.0" r="3.45"/><circle class="s" cx="1144.9" cy="265.7" r="3.45"/><circle class="s" cx="1145.9" cy="266.5" r="3.45"/><circle class="s" cx="1146.8" cy="266.2" r="3.45"/><circle class="s" cx="1147.8" cy="267.2" r="3.45"/><circle class="s" cx="1148.7" cy="266.3" r="3.45"/><circle class="s" cx="1149.7" cy="267.4" r="3.45"/><circle class="s" cx="1150.6" cy="267.5" r="3.45"/><circle class="s" cx="1151.6" cy="267.6" r="3.45"/><circle class="s" cx="1152.5" cy="268.0" r="3.45"/><circle class="s" cx="1153.5" cy="268.3" r="3.45"/><circle class="s" cx="1154.4" cy="268.2" r="3.45"/><circle class="s" cx="1155.4" cy="269.8" r="3.45"/><circle class="s" cx="1156.3" cy="269.5" r="3.45"/><circle class="s" cx="1157.3" cy="269.6" r="3.45"/><circle class="s" cx="1158.2" cy="268.6" r="3.45"/><circle class="s" cx="1159.2" cy="270.1" r="3.45"/><circle class="s" cx="1160.1" cy="269.6" r="3.45"/><circle class="s" cx="1161.1" cy="270.0" r="3.45"/><circle class="s" cx="1162.0" cy="270.9" r="3.45"/><circle class="s" cx="1163.0" cy="271.5" r="3.45"/><circle class="s" cx="1163.9" cy="271.0" r="3.45"/><circle class="s" cx="1164.9" cy="271.4" r="3.45"/><circle class="s" cx="1165.8" cy="272.4" r="3.45"/><circle class="s" cx="1166.8" cy="272.6" r="3.45"/><circle class="s" cx="1167.7" cy="272.7" r="3.45"/><circle class="s" cx="1168.7" cy="272.2" r="3.45"/><circle class="s" cx="1169.6" cy="273.2" r="3.45"/><circle class="s" cx="1170.5" cy="274.3" r="3.45"/><circle class="s" cx="1171.5" cy="274.3" r="3.45"/><circle class="s" cx="1172.4" cy="274.6" r="3.45"/><circle class="s" cx="1173.4" cy="275.7" r="3.45"/><circle class="s" cx="1174.3" cy="275.7" r="3.45"/><circle class="s" cx="1175.3" cy="276.0" r="3.45"/><circle class="s" cx="1176.2" cy="274.6" r="3.45"/><circle class="s" cx="1177.2" cy="275.6" r="3.45"/><circle class="s" cx="1178.1" cy="276.9" r="3.45"/><circle class="s" cx="1179.1" cy="275.9" r="3.45"/><circle class="s" cx="1180.0" cy="278.1" r="3.45"/><circle class="s" cx="1181.0" cy="276.5" r="3.45"/><circle class="s" cx="1181.9" cy="278.7" r="3.45"/><circle class="s" cx="1182.9" cy="277.3" r="3.45"/><circle class="s" cx="1183.8" cy="279.2" r="3.45"/><circle cx="1184.0" cy="278.4" r="3.45"/><circle class="s" cx="1185.0" cy="279.6" r="3.45"/><circle class="s" cx="1185.9" cy="278.6" r="3.45"/><circle class="s" cx="1186.9" cy="280.3" r="3.45"/><circle class="s" cx="1187.8" cy="278.7" r="3.45"/><circle class="s" cx="1188.8" cy="280.8" r="3.45"/><circle class="s" cx="1189.7" cy="279.9" r="3.45"/><circle class="s" cx="1190.7" cy="280.3" r="3.45"/><circle class="s" cx="1191.6" cy="279.8" r="3.45"/><circle class="s" cx="1192.6" cy="281.4" r="3.45"/><circle class="s" cx="1193.5" cy="280.8" r="3.45"/><circle class="s" cx="1194.5" cy="282.1" r="3.45"/><circle class="s" cx="1195.4" cy="282.8" r="3.45"/><circle class="s" cx="1196.4" cy="282.6" r="3.45"/><circle class="s" cx="1197.4" cy="281.3" r="3.45"/><circle class="s" cx="1198.3" cy="284.1" r="3.45"/><circle class="s" cx="1199.3" cy="284.3" r="3.45"/><circle class="s" cx="1200.2" cy="283.9" r="3.45"/><circle class="s" cx="1201.2" cy="283.5" r="3.45"/><circle class="s" cx="1202.1" cy="284.3" r="3.45"/><circle class="s" cx="1203.1" cy="285.4" r="3.45"/><circle class="s" cx="1204.0" cy="284.6" r="3.45"/><circle class="s" cx="1205.0" cy="285.7" r="3.45"/><circle class="s" cx="1205.9" cy="285.6" r="3.45"/><circle class="s" cx="1206.9" cy="285.4" r="3.45"/><circle class="s" cx="1207.8" cy="287.0" r="3.45"/><circle class="s" cx="1208.8" cy="286.0" r="3.45"/><circle class="s" cx="1209.8" cy="286.8" r="3.45"/><circle class="s" cx="1210.7" cy="285.7" r="3.45"/><circle class="s" cx="1211.7" cy="287.0" r="3.45"/><circle class="s" cx="1212.6" cy="286.2" r="3.45"/><circle class="s" cx="1213.6" cy="288.2" r="3.45"/><circle class="s" cx="1214.5" cy="286.7" r="3.45"/><circle class="s" cx="1215.5" cy="287.1" r="3.45"/><circle class="s" cx="1216.4" cy="287.6" r="3.45"/><circle class="s" cx="1217.4" cy="288.0" r="3.45"/><circle class="s" cx="1218.3" cy="289.2" r="3.45"/><circle class="s" cx="1219.3" cy="289.1" r="3.45"/><circle class="s" cx="1220.2" cy="289.2" r="3.45"/><circle class="s" cx="1221.2" cy="291.4" r="3.45"/><circle class="s" cx="1222.2" cy="291.5" r="3.45"/><circle class="s" cx="1223.1" cy="291.1" r="3.45"/><circle cx="1224.0" cy="291.0" r="3.45"/><circle class="s" cx="1225.0" cy="292.0" r="3.45"/><circle class="s" cx="1226.0" cy="292.2" r="3.45"/><circle class="s" cx="1227.0" cy="290.9" r="3.45"/><circle class="s" cx="1227.9" cy="292.5" r="3.45"/><circle class="s" cx="1228.9" cy="291.2" r="3.45"/><circle class="s" cx="1229.9" cy="292.2" r="3.45"/><circle class="s" cx="1230.9" cy="291.9" r="3.45"/><circle class="s" cx="1231.9" cy="291.6" r="3.45"/><circle class="s" cx="1232.9" cy="293.3" r="3.45"/><circle class="s" cx="1233.8" cy="293.9" r="3.45"/><circle class="s" cx="1234.8" cy="292.5" r="3.45"/><circle class="s" cx="1235.8" cy="294.2" r="3.45"/><circle class="s" cx="1236.8" cy="293.0" r="3.45"/><circle class="s" cx="1237.8" cy="293.9" r="3.45"/><circle class="s" cx="1238.8" cy="295.0" r="3.45"/><circle class="s" cx="1239.7" cy="294.6" r="3.45"/><circle class="s" cx="1240.7" cy="292.9" r="3.45"/><circle class="s" cx="1241.7" cy="294.1" r="3.45"/><circle class="s" cx="1242.7" cy="294.1" r="3.45"/><circle class="s" cx="1243.7" cy="294.1" r="3.45"/><circle class="s" cx="1244.7" cy="295.6" r="3.45"/><circle class="s" cx="1245.6" cy="294.8" r="3.45"/><circle class="s" cx="1246.6" cy="295.7" r="3.45"/><circle class="s" cx="1247.6" cy="295.7" r="3.45"/><circle class="s" cx="1248.6" cy="295.6" r="3.45"/><circle cx="1249.0" cy="295.6" r="3.45"/></g>
<rect x="36" y="726" width="8" height="8" fill="#ff0000"/>
<text x="49.7" y="733.6" font-family="Liberation Sans, sans-serif" font-size="9.6" fill="#4a4a4a">Outgoing</text>
<rect x="95.3" y="726" width="8" height="8" fill="#0000ff"/>
<text x="108.9" y="733.6" font-family="Liberation Sans, sans-serif" font-size="9.6" fill="#4a4a4a">Return</text>
<rect x="142.5" y="726" width="8" height="8" fill="#ff00ff"/>
<text x="155.8" y="733.6" font-family="Liberation Sans, sans-serif" font-size="9.6" fill="#4a4a4a">Outdoors</text>
<rect x="202" y="726" width="8" height="8" fill="#00ffff"/>
<text x="215" y="733.6" font-family="Liberation Sans, sans-serif" font-size="9.6" fill="#4a4a4a">Hot Water</text>
</svg>
<div id="nav">
<svg width="1280" height="60" viewBox="0 740 1280 60" style="position:absolute;left:0;top:0">
<circle cx="520" cy="769.6" r="20.3" fill="#1a73e8"/>
<path transform="translate(506 755.8) scale(1.2)" d="M20.01 15.38c-1.23 0-2.42-.2-3.53-.56-.35-.12-.74-.03-1.01.24l-1.57 1.97c-2.83-1.35-5.48-3.9-6.89-6.830l1.95-1.66c.27-.28.35-.67.24-1.02-.37-1.11-.56-2.3-.56-3.53 0-.54-.45-.99-.99-.99H4.19C3.65 3 3 3.24 3 3.99 3 13.28 10.73 21 20.01 21c.71 0 .99-.63.99-1.18v-3.45c0-.54-.45-.99-.99-.99z" fill="#ffffff"/>
<circle cx="580" cy="769.6" r="20.3" fill="#1a73e8"/>
<path d="M567.6 761 H589.2 Q590.8 761 590.8 762.6 V776.8 Q590.8 778.5 589.2 778.5 H572.6 Q571 778.5 571 776.8 V766.6 Z" fill="#ffffff"/>
<path d="M573.6 765.6 H587.8 M573.6 769.6 H587.8 M573.6 773.5 H583.9" stroke="#8ab4f8" stroke-width="1.1"/>
<circle cx="640" cy="769.6" r="19.9" fill="#fbbc04"/>
<path d="M640 769.6 L622.5 759.5 A20.2 20.2 0 0 1 657.5 759.5 Z" fill="#ea4335"/>
<path d="M640 769.6 L622.5 759.5 A20.2 20.2 0 0 0 640 789.8 Z" fill="#34a853"/>
<path d="M640 769.6 L640 759 L658 759 L657.5 759.5 Z" fill="#fbbc04"/>
<path d="M640 769.6 L632 776 L639.3 789.8 L641 789.8 Z" fill="#34a853"/>
<path d="M640 769.6 L632 776 L622.5 759.5 Z" fill="#ea4335"/>
<circle cx="640" cy="769.7" r="10.2" fill="#ffffff"/>
<circle cx="640" cy="769.7" r="8.1" fill="#1a73e8"/>
<circle cx="700" cy="769.6" r="20.2" fill="#009688"/>
<clipPath id="tc"><circle cx="700" cy="769.6" r="20.2"/></clipPath><path clip-path="url(#tc)" d="M693 774 L716 797 L727 786 L710 769 Z" fill="#00796b" opacity="0.35"/>
<path d="M703.2 763.6 A9 9 0 1 0 703.2 776.2" fill="none" stroke="#ffffff" stroke-width="1.8"/>
<path d="M695.3 769.9 H713.2 M708.6 765 L713.4 769.9 L708.6 774.8" fill="none" stroke="#ffffff" stroke-width="1.8"/>
<circle cx="760" cy="769.8" r="20.1" fill="#f8f7fc"/>
<circle cx="753.1" cy="765.8" r="2.7" fill="#344d9a"/><circle cx="760" cy="765.8" r="2.7" fill="#2b4b9b"/><circle cx="766.9" cy="765.8" r="2.7" fill="#8c5b8e"/>
<circle cx="753.1" cy="773.9" r="2.7" fill="#6f7493"/><circle cx="760" cy="773.9" r="2.7" fill="#777b92"/><circle cx="766.9" cy="773.9" r="2.7" fill="#5b6591"/>
</svg>
</div>
</body></html>
